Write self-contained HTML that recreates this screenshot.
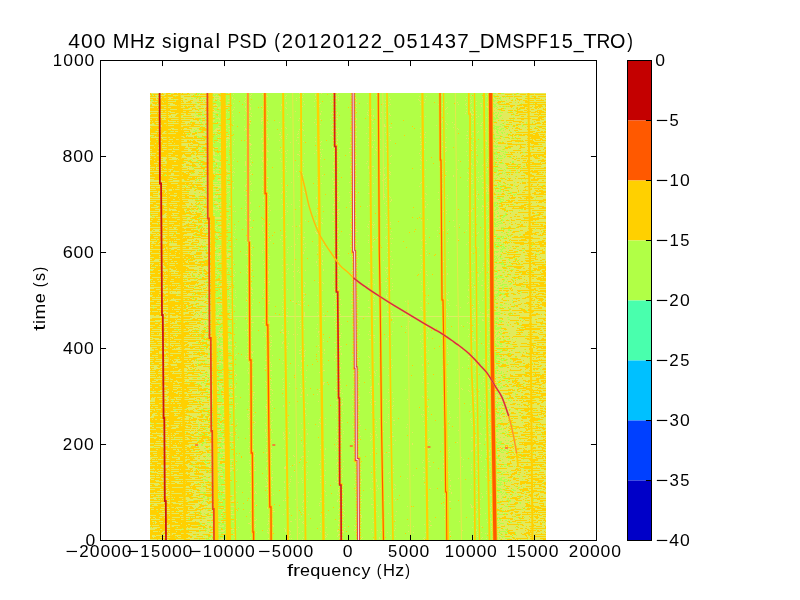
<!DOCTYPE html>
<html><head><meta charset="utf-8">
<style>
html,body{margin:0;padding:0;background:#fff;width:800px;height:600px;overflow:hidden}
svg{display:block;will-change:transform}
text{font-family:"Liberation Sans",sans-serif;fill:#000}
</style></head><body>
<svg width="800" height="600" viewBox="0 0 800 600">
<g id="data">
<rect x="150" y="93" width="396" height="447" fill="#b1ff46"/>
<path stroke="#e2ea5c" stroke-width="1" fill="none" d="M151 93.5h11M163 93.5h3M171 93.5h3M177 93.5h1M180 93.5h2M183 93.5h4M189 93.5h7M200 93.5h1M202 93.5h5M209 93.5h11M221 93.5h3M228 93.5h2M299 93.5h1M321 93.5h1M332 93.5h1M337 93.5h1M492 93.5h1M496 93.5h2M504 93.5h12M519 93.5h27M164 94.5h7M180 94.5h1M190 94.5h4M199 94.5h1M214 94.5h1M233 94.5h1M251 94.5h1M262 94.5h1M303 94.5h1M315 94.5h1M441 94.5h1M487 94.5h1M492 94.5h13M513 94.5h1M517 94.5h3M526 94.5h1M534 94.5h1M150 95.5h1M153 95.5h1M155 95.5h10M173 95.5h20M196 95.5h1M198 95.5h11M210 95.5h1M216 95.5h1M224 95.5h1M250 95.5h1M266 95.5h1M286 95.5h1M315 95.5h1M330 95.5h1M338 95.5h1M351 95.5h1M376 95.5h1M441 95.5h1M471 95.5h1M495 95.5h2M498 95.5h9M508 95.5h38M157 96.5h1M180 96.5h4M211 96.5h9M266 96.5h2M285 96.5h1M336 96.5h1M350 96.5h2M419 96.5h1M426 96.5h1M486 96.5h1M499 96.5h3M513 96.5h1M522 96.5h3M528 96.5h3M536 96.5h2M150 97.5h12M164 97.5h9M181 97.5h13M201 97.5h7M214 97.5h1M219 97.5h7M232 97.5h1M245 97.5h1M250 97.5h1M299 97.5h1M302 97.5h1M336 97.5h1M338 97.5h1M351 97.5h1M355 97.5h1M389 97.5h1M466 97.5h1M492 97.5h2M496 97.5h4M501 97.5h2M504 97.5h1M506 97.5h3M510 97.5h4M515 97.5h19M536 97.5h10M156 98.5h1M160 98.5h1M169 98.5h2M183 98.5h8M193 98.5h3M197 98.5h2M202 98.5h1M207 98.5h5M214 98.5h8M232 98.5h1M285 98.5h1M296 98.5h1M315 98.5h1M336 98.5h1M355 98.5h1M470 98.5h1M482 98.5h1M492 98.5h3M501 98.5h8M510 98.5h6M518 98.5h7M540 98.5h6M150 99.5h3M156 99.5h2M167 99.5h6M174 99.5h6M181 99.5h4M187 99.5h12M200 99.5h6M207 99.5h5M214 99.5h1M216 99.5h1M219 99.5h2M222 99.5h3M228 99.5h2M234 99.5h1M338 99.5h1M356 99.5h1M390 99.5h1M418 99.5h1M425 99.5h1M489 99.5h1M494 99.5h6M501 99.5h11M513 99.5h2M516 99.5h1M522 99.5h13M536 99.5h5M542 99.5h3M183 100.5h7M193 100.5h6M203 100.5h1M205 100.5h5M213 100.5h2M218 100.5h1M245 100.5h1M263 100.5h1M296 100.5h1M316 100.5h1M332 100.5h1M338 100.5h1M385 100.5h1M419 100.5h1M465 100.5h1M471 100.5h1M496 100.5h1M499 100.5h2M502 100.5h4M507 100.5h4M513 100.5h2M516 100.5h3M520 100.5h3M527 100.5h2M534 100.5h2M544 100.5h2M150 101.5h4M155 101.5h2M162 101.5h1M167 101.5h9M181 101.5h1M183 101.5h5M191 101.5h10M202 101.5h9M219 101.5h5M244 101.5h1M303 101.5h1M314 101.5h1M330 101.5h1M354 101.5h1M420 101.5h1M476 101.5h1M488 101.5h1M495 101.5h3M505 101.5h20M528 101.5h18M150 102.5h2M163 102.5h1M184 102.5h2M192 102.5h3M203 102.5h1M227 102.5h3M245 102.5h1M286 102.5h1M355 102.5h2M389 102.5h1M424 102.5h1M446 102.5h1M457 102.5h1M471 102.5h1M487 102.5h1M492 102.5h5M501 102.5h1M503 102.5h6M512 102.5h3M516 102.5h2M519 102.5h6M150 103.5h3M157 103.5h1M168 103.5h5M180 103.5h10M191 103.5h7M199 103.5h11M225 103.5h1M233 103.5h1M249 103.5h1M266 103.5h1M286 103.5h1M320 103.5h1M332 103.5h1M356 103.5h1M367 103.5h1M383 103.5h1M385 103.5h1M442 103.5h1M466 103.5h1M470 103.5h1M480 103.5h2M494 103.5h2M500 103.5h4M505 103.5h1M509 103.5h12M522 103.5h11M534 103.5h1M537 103.5h9M152 104.5h3M170 104.5h5M197 104.5h3M214 104.5h3M221 104.5h3M250 104.5h1M281 104.5h1M304 104.5h1M319 104.5h1M331 104.5h1M336 104.5h1M351 104.5h1M390 104.5h1M420 104.5h1M438 104.5h1M440 104.5h1M458 104.5h1M465 104.5h1M496 104.5h2M510 104.5h9M152 105.5h7M161 105.5h6M169 105.5h8M178 105.5h7M186 105.5h7M194 105.5h17M213 105.5h2M216 105.5h2M223 105.5h7M281 105.5h1M350 105.5h1M388 105.5h1M466 105.5h1M476 105.5h1M481 105.5h1M492 105.5h2M496 105.5h14M515 105.5h2M522 105.5h1M528 105.5h7M536 105.5h2M542 105.5h3M183 106.5h1M187 106.5h1M195 106.5h2M201 106.5h1M203 106.5h5M220 106.5h3M245 106.5h1M261 106.5h1M263 106.5h1M267 106.5h1M302 106.5h1M314 106.5h1M319 106.5h1M385 106.5h1M442 106.5h1M481 106.5h1M486 106.5h3M492 106.5h1M497 106.5h2M501 106.5h1M513 106.5h11M529 106.5h3M533 106.5h2M543 106.5h2M150 107.5h4M157 107.5h1M159 107.5h1M164 107.5h7M179 107.5h6M190 107.5h1M192 107.5h14M208 107.5h1M214 107.5h3M218 107.5h6M225 107.5h3M234 107.5h1M245 107.5h1M250 107.5h1M285 107.5h1M354 107.5h1M356 107.5h1M447 107.5h1M471 107.5h1M487 107.5h2M492 107.5h2M495 107.5h2M498 107.5h13M512 107.5h4M518 107.5h2M525 107.5h5M532 107.5h2M538 107.5h1M541 107.5h5M189 108.5h3M196 108.5h3M204 108.5h1M218 108.5h4M250 108.5h1M263 108.5h1M286 108.5h1M351 108.5h1M443 108.5h1M446 108.5h1M466 108.5h1M493 108.5h3M497 108.5h4M506 108.5h7M514 108.5h2M518 108.5h1M525 108.5h1M529 108.5h6M537 108.5h1M539 108.5h4M544 108.5h1M158 109.5h1M160 109.5h6M170 109.5h7M183 109.5h9M193 109.5h2M201 109.5h5M207 109.5h2M211 109.5h3M233 109.5h1M250 109.5h1M262 109.5h1M371 109.5h1M373 109.5h1M445 109.5h1M472 109.5h1M492 109.5h5M502 109.5h15M521 109.5h6M528 109.5h3M534 109.5h9M192 110.5h6M199 110.5h6M214 110.5h1M232 110.5h1M245 110.5h1M267 110.5h1M280 110.5h1M351 110.5h1M368 110.5h1M443 110.5h1M472 110.5h1M493 110.5h1M495 110.5h4M505 110.5h3M513 110.5h1M518 110.5h6M527 110.5h10M542 110.5h3M150 111.5h13M165 111.5h6M183 111.5h3M189 111.5h13M203 111.5h1M205 111.5h12M246 111.5h1M268 111.5h1M295 111.5h1M321 111.5h1M356 111.5h1M466 111.5h1M470 111.5h1M473 111.5h1M476 111.5h1M488 111.5h1M493 111.5h17M512 111.5h3M523 111.5h4M531 111.5h4M538 111.5h1M544 111.5h2M170 112.5h5M203 112.5h6M214 112.5h5M226 112.5h1M228 112.5h1M249 112.5h1M332 112.5h1M337 112.5h1M367 112.5h1M381 112.5h1M385 112.5h1M441 112.5h1M470 112.5h1M494 112.5h1M497 112.5h1M499 112.5h1M503 112.5h4M513 112.5h4M528 112.5h3M536 112.5h1M151 113.5h6M158 113.5h11M176 113.5h10M188 113.5h7M196 113.5h2M201 113.5h5M220 113.5h4M232 113.5h1M251 113.5h1M320 113.5h1M331 113.5h1M333 113.5h1M337 113.5h1M389 113.5h1M447 113.5h1M465 113.5h1M471 113.5h1M495 113.5h3M499 113.5h14M514 113.5h2M518 113.5h21M541 113.5h5M150 114.5h1M160 114.5h1M171 114.5h6M184 114.5h2M191 114.5h7M212 114.5h3M287 114.5h1M320 114.5h1M336 114.5h1M367 114.5h1M389 114.5h1M471 114.5h3M476 114.5h1M480 114.5h1M494 114.5h3M498 114.5h13M515 114.5h4M526 114.5h8M159 115.5h17M180 115.5h1M182 115.5h14M201 115.5h1M204 115.5h4M218 115.5h1M244 115.5h1M250 115.5h1M263 115.5h1M267 115.5h1M354 115.5h1M368 115.5h1M371 115.5h1M373 115.5h1M390 115.5h1M440 115.5h1M472 115.5h1M488 115.5h2M492 115.5h3M498 115.5h2M502 115.5h9M512 115.5h3M520 115.5h18M539 115.5h2M542 115.5h4M159 116.5h2M169 116.5h2M172 116.5h3M179 116.5h4M194 116.5h4M199 116.5h7M207 116.5h2M213 116.5h2M233 116.5h1M251 116.5h1M267 116.5h1M332 116.5h2M337 116.5h1M354 116.5h2M373 116.5h1M385 116.5h1M420 116.5h1M425 116.5h1M478 116.5h1M494 116.5h2M497 116.5h2M501 116.5h20M524 116.5h3M538 116.5h1M150 117.5h8M159 117.5h45M206 117.5h3M213 117.5h1M218 117.5h1M263 117.5h1M290 117.5h1M351 117.5h1M471 117.5h1M476 117.5h1M486 117.5h1M488 117.5h2M495 117.5h1M498 117.5h15M514 117.5h24M544 117.5h2M164 118.5h1M194 118.5h1M205 118.5h2M216 118.5h4M224 118.5h3M249 118.5h1M261 118.5h2M267 118.5h1M299 118.5h1M336 118.5h2M356 118.5h1M380 118.5h1M385 118.5h1M499 118.5h3M503 118.5h6M515 118.5h2M531 118.5h7M542 118.5h4M150 119.5h2M156 119.5h1M159 119.5h2M162 119.5h4M171 119.5h22M201 119.5h4M207 119.5h4M219 119.5h1M244 119.5h1M315 119.5h1M320 119.5h1M330 119.5h1M337 119.5h1M354 119.5h3M371 119.5h1M473 119.5h1M496 119.5h14M511 119.5h2M514 119.5h7M524 119.5h8M540 119.5h1M544 119.5h2M168 120.5h1M190 120.5h7M199 120.5h1M210 120.5h5M233 120.5h1M249 120.5h2M261 120.5h2M298 120.5h1M302 120.5h1M372 120.5h1M442 120.5h1M472 120.5h1M492 120.5h6M504 120.5h2M514 120.5h14M529 120.5h7M540 120.5h6M150 121.5h1M152 121.5h1M155 121.5h5M168 121.5h8M177 121.5h2M182 121.5h9M192 121.5h10M203 121.5h4M213 121.5h1M261 121.5h1M266 121.5h1M302 121.5h1M441 121.5h1M445 121.5h1M496 121.5h10M507 121.5h6M522 121.5h12M535 121.5h9M185 122.5h5M196 122.5h3M202 122.5h5M216 122.5h1M218 122.5h3M249 122.5h1M267 122.5h1M279 122.5h1M284 122.5h1M303 122.5h1M314 122.5h1M441 122.5h1M452 122.5h1M482 122.5h1M488 122.5h1M497 122.5h7M505 122.5h2M508 122.5h1M512 122.5h7M521 122.5h1M524 122.5h2M527 122.5h5M533 122.5h4M540 122.5h2M152 123.5h2M156 123.5h5M164 123.5h24M189 123.5h1M191 123.5h1M195 123.5h6M202 123.5h3M224 123.5h1M250 123.5h1M261 123.5h1M268 123.5h1M355 123.5h1M373 123.5h1M440 123.5h1M443 123.5h1M446 123.5h1M472 123.5h1M477 123.5h1M481 123.5h1M488 123.5h2M492 123.5h4M497 123.5h5M504 123.5h22M527 123.5h5M533 123.5h2M541 123.5h2M544 123.5h2M150 124.5h4M179 124.5h1M186 124.5h1M204 124.5h1M207 124.5h1M221 124.5h2M225 124.5h3M233 124.5h1M263 124.5h1M266 124.5h1M316 124.5h1M320 124.5h1M332 124.5h2M350 124.5h1M354 124.5h1M384 124.5h1M447 124.5h1M454 124.5h1M492 124.5h8M502 124.5h4M512 124.5h4M521 124.5h2M536 124.5h6M150 125.5h12M166 125.5h8M179 125.5h12M194 125.5h6M201 125.5h5M207 125.5h6M303 125.5h1M331 125.5h1M384 125.5h1M389 125.5h1M436 125.5h1M480 125.5h2M489 125.5h1M492 125.5h1M495 125.5h7M505 125.5h8M518 125.5h4M524 125.5h22M159 126.5h3M181 126.5h2M200 126.5h1M203 126.5h2M207 126.5h3M218 126.5h2M244 126.5h1M351 126.5h1M356 126.5h1M384 126.5h2M493 126.5h1M501 126.5h3M509 126.5h3M515 126.5h3M519 126.5h3M523 126.5h4M531 126.5h5M150 127.5h1M189 127.5h11M205 127.5h2M228 127.5h3M285 127.5h1M356 127.5h1M368 127.5h1M379 127.5h1M390 127.5h2M453 127.5h1M495 127.5h1M499 127.5h5M507 127.5h1M509 127.5h7M518 127.5h7M526 127.5h5M532 127.5h3M536 127.5h2M542 127.5h4M160 128.5h1M171 128.5h3M184 128.5h3M192 128.5h5M216 128.5h4M223 128.5h3M245 128.5h1M266 128.5h2M281 128.5h1M286 128.5h1M332 128.5h1M336 128.5h1M338 128.5h1M372 128.5h1M420 128.5h1M442 128.5h1M446 128.5h1M457 128.5h1M481 128.5h1M486 128.5h1M497 128.5h4M504 128.5h2M508 128.5h4M513 128.5h2M520 128.5h14M538 128.5h4M157 129.5h4M167 129.5h4M172 129.5h6M179 129.5h3M183 129.5h8M192 129.5h2M195 129.5h4M209 129.5h1M215 129.5h4M221 129.5h1M225 129.5h2M245 129.5h2M249 129.5h1M262 129.5h1M266 129.5h1M299 129.5h1M302 129.5h1M332 129.5h1M336 129.5h1M440 129.5h1M458 129.5h1M492 129.5h2M495 129.5h1M499 129.5h1M502 129.5h3M506 129.5h3M510 129.5h9M522 129.5h5M532 129.5h6M539 129.5h6M190 130.5h5M197 130.5h3M207 130.5h1M214 130.5h3M222 130.5h1M229 130.5h2M233 130.5h1M244 130.5h1M303 130.5h1M331 130.5h1M493 130.5h4M498 130.5h1M501 130.5h2M504 130.5h5M510 130.5h4M518 130.5h10M530 130.5h7M540 130.5h6M156 131.5h5M164 131.5h2M171 131.5h3M175 131.5h3M184 131.5h5M190 131.5h3M196 131.5h4M204 131.5h6M213 131.5h5M219 131.5h5M298 131.5h1M332 131.5h1M356 131.5h1M467 131.5h1M472 131.5h2M478 131.5h1M485 131.5h1M492 131.5h4M498 131.5h12M511 131.5h4M516 131.5h2M519 131.5h10M535 131.5h6M543 131.5h1M163 132.5h2M191 132.5h4M205 132.5h5M222 132.5h4M262 132.5h1M280 132.5h1M337 132.5h1M372 132.5h1M385 132.5h1M425 132.5h1M477 132.5h1M488 132.5h1M494 132.5h2M498 132.5h3M503 132.5h1M505 132.5h5M512 132.5h4M533 132.5h3M151 133.5h6M158 133.5h2M162 133.5h14M183 133.5h1M185 133.5h2M189 133.5h1M191 133.5h1M197 133.5h8M208 133.5h3M213 133.5h1M215 133.5h2M221 133.5h2M298 133.5h1M350 133.5h2M366 133.5h1M389 133.5h1M420 133.5h1M492 133.5h5M499 133.5h3M503 133.5h4M508 133.5h25M538 133.5h8M190 134.5h2M195 134.5h11M208 134.5h1M218 134.5h1M249 134.5h1M267 134.5h1M279 134.5h2M287 134.5h1M297 134.5h1M338 134.5h1M386 134.5h1M424 134.5h1M441 134.5h1M471 134.5h1M495 134.5h11M511 134.5h1M514 134.5h1M522 134.5h1M529 134.5h1M533 134.5h2M539 134.5h1M545 134.5h1M150 135.5h4M159 135.5h3M167 135.5h1M186 135.5h10M197 135.5h5M203 135.5h9M216 135.5h1M220 135.5h4M227 135.5h4M246 135.5h1M249 135.5h2M263 135.5h1M304 135.5h1M319 135.5h1M330 135.5h2M374 135.5h1M389 135.5h1M466 135.5h2M495 135.5h1M501 135.5h7M509 135.5h1M513 135.5h1M517 135.5h1M525 135.5h2M539 135.5h4M544 135.5h2M155 136.5h1M181 136.5h3M186 136.5h1M188 136.5h6M199 136.5h3M207 136.5h3M263 136.5h1M266 136.5h2M281 136.5h1M286 136.5h1M332 136.5h1M337 136.5h1M350 136.5h1M356 136.5h1M420 136.5h1M495 136.5h5M503 136.5h9M513 136.5h5M519 136.5h9M151 137.5h19M173 137.5h2M183 137.5h2M193 137.5h1M197 137.5h1M218 137.5h1M220 137.5h6M227 137.5h2M280 137.5h1M297 137.5h2M315 137.5h1M356 137.5h1M420 137.5h1M425 137.5h1M446 137.5h1M473 137.5h1M495 137.5h4M500 137.5h3M509 137.5h3M513 137.5h2M516 137.5h15M540 137.5h2M545 137.5h1M162 138.5h1M226 138.5h4M249 138.5h1M261 138.5h2M268 138.5h1M281 138.5h1M286 138.5h1M319 138.5h1M368 138.5h1M440 138.5h1M466 138.5h1M468 138.5h1M489 138.5h1M501 138.5h7M510 138.5h1M521 138.5h6M542 138.5h3M156 139.5h2M163 139.5h5M169 139.5h4M176 139.5h16M193 139.5h8M202 139.5h1M207 139.5h6M218 139.5h1M234 139.5h1M261 139.5h1M268 139.5h1M337 139.5h1M354 139.5h1M380 139.5h1M493 139.5h1M496 139.5h8M505 139.5h12M518 139.5h14M533 139.5h1M536 139.5h4M543 139.5h3M184 140.5h3M189 140.5h1M191 140.5h2M195 140.5h2M205 140.5h5M221 140.5h7M246 140.5h1M279 140.5h1M296 140.5h1M333 140.5h1M337 140.5h1M372 140.5h1M374 140.5h1M386 140.5h1M390 140.5h1M420 140.5h1M485 140.5h2M493 140.5h4M499 140.5h12M523 140.5h2M533 140.5h2M541 140.5h1M150 141.5h1M160 141.5h2M168 141.5h2M172 141.5h1M179 141.5h8M196 141.5h10M208 141.5h1M217 141.5h2M224 141.5h1M233 141.5h1M303 141.5h1M315 141.5h1M321 141.5h1M333 141.5h1M351 141.5h1M442 141.5h1M473 141.5h1M486 141.5h1M489 141.5h1M493 141.5h1M495 141.5h1M497 141.5h5M503 141.5h4M512 141.5h3M524 141.5h4M534 141.5h12M191 142.5h1M198 142.5h15M219 142.5h8M263 142.5h1M290 142.5h1M320 142.5h1M336 142.5h1M350 142.5h1M354 142.5h2M368 142.5h1M421 142.5h1M425 142.5h1M445 142.5h1M467 142.5h1M488 142.5h1M493 142.5h2M496 142.5h2M504 142.5h14M519 142.5h8M545 142.5h1M155 143.5h1M159 143.5h1M163 143.5h9M174 143.5h1M181 143.5h12M200 143.5h5M212 143.5h2M229 143.5h2M249 143.5h2M262 143.5h2M298 143.5h1M337 143.5h1M350 143.5h1M385 143.5h1M494 143.5h2M506 143.5h1M512 143.5h19M538 143.5h8M181 144.5h7M189 144.5h1M193 144.5h5M233 144.5h1M250 144.5h2M267 144.5h1M336 144.5h1M373 144.5h1M420 144.5h2M471 144.5h1M493 144.5h14M526 144.5h1M528 144.5h6M542 144.5h4M150 145.5h4M158 145.5h2M162 145.5h3M166 145.5h22M189 145.5h9M199 145.5h10M229 145.5h1M250 145.5h1M320 145.5h1M351 145.5h1M368 145.5h1M472 145.5h1M477 145.5h1M486 145.5h1M488 145.5h1M496 145.5h1M498 145.5h18M517 145.5h3M521 145.5h12M534 145.5h12M186 146.5h2M201 146.5h1M204 146.5h3M224 146.5h4M229 146.5h1M332 146.5h1M336 146.5h1M356 146.5h1M372 146.5h1M385 146.5h1M442 146.5h1M501 146.5h3M506 146.5h2M513 146.5h7M522 146.5h5M543 146.5h3M154 147.5h1M158 147.5h1M162 147.5h5M178 147.5h1M185 147.5h11M199 147.5h1M207 147.5h4M215 147.5h3M220 147.5h1M224 147.5h3M246 147.5h1M263 147.5h1M332 147.5h1M372 147.5h1M376 147.5h1M386 147.5h1M445 147.5h2M471 147.5h1M476 147.5h1M485 147.5h1M493 147.5h2M497 147.5h8M511 147.5h9M525 147.5h6M534 147.5h10M158 148.5h1M173 148.5h1M188 148.5h1M198 148.5h4M211 148.5h3M250 148.5h1M281 148.5h1M334 148.5h1M339 148.5h1M349 148.5h2M421 148.5h1M487 148.5h1M493 148.5h11M508 148.5h1M511 148.5h8M521 148.5h17M540 148.5h4M150 149.5h2M163 149.5h9M173 149.5h8M184 149.5h8M197 149.5h1M199 149.5h5M207 149.5h2M213 149.5h1M266 149.5h1M320 149.5h1M322 149.5h1M375 149.5h1M380 149.5h1M424 149.5h1M471 149.5h1M482 149.5h1M498 149.5h4M505 149.5h13M519 149.5h13M534 149.5h9M544 149.5h2M188 150.5h3M199 150.5h1M220 150.5h3M262 150.5h2M267 150.5h1M279 150.5h1M287 150.5h1M316 150.5h1M376 150.5h1M420 150.5h1M441 150.5h1M446 150.5h1M472 150.5h1M476 150.5h1M492 150.5h7M501 150.5h12M521 150.5h6M528 150.5h1M531 150.5h6M541 150.5h4M150 151.5h2M157 151.5h2M161 151.5h3M167 151.5h1M172 151.5h3M179 151.5h1M181 151.5h15M198 151.5h2M204 151.5h3M208 151.5h6M262 151.5h1M267 151.5h2M285 151.5h1M299 151.5h1M333 151.5h1M337 151.5h1M386 151.5h1M445 151.5h1M466 151.5h1M494 151.5h2M497 151.5h4M504 151.5h1M506 151.5h39M191 152.5h1M204 152.5h1M207 152.5h1M210 152.5h5M221 152.5h1M233 152.5h1M281 152.5h1M320 152.5h1M349 152.5h1M441 152.5h1M481 152.5h1M500 152.5h5M509 152.5h1M515 152.5h2M518 152.5h2M528 152.5h2M150 153.5h6M167 153.5h6M185 153.5h6M194 153.5h3M198 153.5h9M208 153.5h1M212 153.5h3M220 153.5h2M286 153.5h1M304 153.5h1M314 153.5h1M355 153.5h1M419 153.5h1M498 153.5h5M504 153.5h7M512 153.5h8M521 153.5h7M531 153.5h13M151 154.5h1M183 154.5h1M195 154.5h1M212 154.5h3M220 154.5h3M251 154.5h1M297 154.5h2M321 154.5h1M333 154.5h1M374 154.5h1M472 154.5h1M476 154.5h1M492 154.5h1M498 154.5h1M500 154.5h4M513 154.5h16M531 154.5h2M150 155.5h5M157 155.5h4M166 155.5h5M175 155.5h3M180 155.5h1M182 155.5h3M191 155.5h5M197 155.5h12M210 155.5h3M214 155.5h3M218 155.5h1M245 155.5h1M299 155.5h1M337 155.5h1M356 155.5h1M391 155.5h1M420 155.5h1M467 155.5h1M494 155.5h4M501 155.5h1M503 155.5h19M524 155.5h2M535 155.5h1M537 155.5h1M544 155.5h2M182 156.5h4M192 156.5h8M221 156.5h1M321 156.5h1M334 156.5h1M350 156.5h2M390 156.5h1M495 156.5h1M497 156.5h2M502 156.5h2M506 156.5h1M511 156.5h2M515 156.5h1M517 156.5h4M523 156.5h1M532 156.5h1M540 156.5h2M150 157.5h1M154 157.5h2M161 157.5h15M181 157.5h15M198 157.5h4M203 157.5h2M207 157.5h3M226 157.5h2M250 157.5h1M261 157.5h1M263 157.5h1M286 157.5h1M339 157.5h1M421 157.5h1M472 157.5h1M488 157.5h1M495 157.5h3M499 157.5h5M505 157.5h4M512 157.5h22M538 157.5h6M163 158.5h5M172 158.5h6M181 158.5h1M187 158.5h6M196 158.5h1M199 158.5h11M213 158.5h2M221 158.5h1M234 158.5h1M263 158.5h1M267 158.5h1M280 158.5h1M320 158.5h1M503 158.5h9M514 158.5h2M520 158.5h1M527 158.5h8M540 158.5h6M150 159.5h2M160 159.5h6M169 159.5h8M178 159.5h2M184 159.5h6M192 159.5h14M214 159.5h3M267 159.5h1M355 159.5h1M420 159.5h1M487 159.5h1M496 159.5h18M516 159.5h26M544 159.5h2M154 160.5h1M163 160.5h2M191 160.5h1M193 160.5h4M203 160.5h6M215 160.5h4M221 160.5h1M233 160.5h1M251 160.5h1M262 160.5h2M267 160.5h1M302 160.5h1M337 160.5h1M351 160.5h1M379 160.5h1M421 160.5h1M426 160.5h1M458 160.5h1M468 160.5h1M476 160.5h1M494 160.5h2M499 160.5h1M502 160.5h15M520 160.5h3M526 160.5h1M532 160.5h6M157 161.5h10M174 161.5h2M184 161.5h4M192 161.5h4M198 161.5h2M205 161.5h2M208 161.5h4M215 161.5h6M223 161.5h2M245 161.5h1M262 161.5h1M281 161.5h1M286 161.5h1M355 161.5h1M367 161.5h1M445 161.5h1M477 161.5h1M487 161.5h1M493 161.5h1M495 161.5h17M514 161.5h13M530 161.5h8M539 161.5h2M545 161.5h1M165 162.5h3M186 162.5h4M222 162.5h2M245 162.5h1M263 162.5h1M333 162.5h1M338 162.5h1M477 162.5h1M497 162.5h1M503 162.5h7M511 162.5h1M514 162.5h8M534 162.5h6M541 162.5h4M154 163.5h4M159 163.5h8M184 163.5h8M194 163.5h4M199 163.5h1M201 163.5h1M207 163.5h1M214 163.5h2M225 163.5h2M245 163.5h1M250 163.5h1M266 163.5h1M303 163.5h1M333 163.5h1M366 163.5h1M390 163.5h1M471 163.5h1M486 163.5h1M488 163.5h1M496 163.5h4M504 163.5h1M509 163.5h3M514 163.5h12M527 163.5h1M529 163.5h3M541 163.5h1M181 164.5h5M189 164.5h3M195 164.5h4M208 164.5h1M212 164.5h1M225 164.5h1M230 164.5h1M245 164.5h1M250 164.5h1M266 164.5h1M333 164.5h1M351 164.5h1M356 164.5h1M471 164.5h1M483 164.5h1M499 164.5h7M521 164.5h3M525 164.5h1M542 164.5h4M150 165.5h1M156 165.5h1M163 165.5h3M172 165.5h6M182 165.5h1M184 165.5h2M196 165.5h5M203 165.5h6M216 165.5h2M221 165.5h2M230 165.5h1M232 165.5h1M245 165.5h1M251 165.5h1M267 165.5h1M298 165.5h1M355 165.5h1M420 165.5h1M473 165.5h1M476 165.5h1M482 165.5h1M486 165.5h1M493 165.5h1M495 165.5h2M498 165.5h7M508 165.5h9M518 165.5h8M528 165.5h7M536 165.5h10M160 166.5h1M183 166.5h7M191 166.5h1M198 166.5h2M208 166.5h6M217 166.5h1M219 166.5h2M223 166.5h1M261 166.5h1M285 166.5h1M303 166.5h1M321 166.5h1M350 166.5h1M368 166.5h1M372 166.5h2M439 166.5h1M441 166.5h1M498 166.5h10M521 166.5h2M525 166.5h1M541 166.5h5M150 167.5h5M156 167.5h6M172 167.5h2M180 167.5h8M189 167.5h3M194 167.5h7M220 167.5h5M334 167.5h1M338 167.5h1M350 167.5h1M368 167.5h1M385 167.5h1M494 167.5h1M500 167.5h6M508 167.5h4M513 167.5h1M516 167.5h2M520 167.5h1M522 167.5h5M530 167.5h14M156 168.5h1M163 168.5h1M187 168.5h7M205 168.5h7M234 168.5h1M249 168.5h1M262 168.5h1M266 168.5h1M285 168.5h1M333 168.5h2M354 168.5h1M368 168.5h1M384 168.5h1M472 168.5h1M487 168.5h2M496 168.5h4M502 168.5h4M519 168.5h1M150 169.5h2M153 169.5h1M156 169.5h6M164 169.5h9M179 169.5h1M182 169.5h6M189 169.5h4M194 169.5h9M205 169.5h10M216 169.5h4M224 169.5h3M374 169.5h1M380 169.5h1M420 169.5h1M425 169.5h1M442 169.5h1M457 169.5h1M487 169.5h1M489 169.5h1M493 169.5h1M498 169.5h6M505 169.5h41M170 170.5h1M195 170.5h8M204 170.5h1M223 170.5h5M250 170.5h1M282 170.5h1M351 170.5h1M355 170.5h1M504 170.5h1M506 170.5h3M516 170.5h1M518 170.5h2M529 170.5h2M533 170.5h1M150 171.5h21M173 171.5h16M194 171.5h4M199 171.5h4M205 171.5h5M211 171.5h4M222 171.5h9M233 171.5h1M244 171.5h2M249 171.5h1M263 171.5h1M286 171.5h1M296 171.5h1M332 171.5h1M351 171.5h1M389 171.5h1M442 171.5h1M446 171.5h1M483 171.5h1M497 171.5h1M499 171.5h21M521 171.5h7M538 171.5h8M184 172.5h2M195 172.5h4M203 172.5h1M207 172.5h1M212 172.5h3M216 172.5h1M232 172.5h1M234 172.5h1M302 172.5h1M333 172.5h1M339 172.5h1M369 172.5h1M380 172.5h1M390 172.5h1M467 172.5h1M478 172.5h1M486 172.5h1M493 172.5h1M497 172.5h5M503 172.5h2M514 172.5h1M520 172.5h3M529 172.5h3M541 172.5h1M544 172.5h1M154 173.5h9M171 173.5h3M179 173.5h3M186 173.5h2M189 173.5h2M194 173.5h7M202 173.5h4M211 173.5h1M216 173.5h3M221 173.5h4M251 173.5h1M334 173.5h1M351 173.5h1M369 173.5h1M389 173.5h1M442 173.5h1M468 173.5h1M471 173.5h1M489 173.5h1M494 173.5h4M503 173.5h1M505 173.5h3M509 173.5h15M528 173.5h9M539 173.5h7M150 174.5h2M171 174.5h3M190 174.5h8M203 174.5h1M211 174.5h2M214 174.5h1M250 174.5h1M350 174.5h1M355 174.5h1M380 174.5h1M384 174.5h1M390 174.5h1M472 174.5h1M495 174.5h2M500 174.5h6M508 174.5h1M510 174.5h1M513 174.5h13M532 174.5h4M543 174.5h3M161 175.5h1M166 175.5h17M189 175.5h15M206 175.5h4M219 175.5h5M225 175.5h4M233 175.5h1M303 175.5h1M322 175.5h1M351 175.5h1M372 175.5h1M384 175.5h1M453 175.5h1M482 175.5h1M494 175.5h2M499 175.5h22M525 175.5h3M534 175.5h10M545 175.5h1M208 176.5h1M262 176.5h1M298 176.5h1M356 176.5h1M424 176.5h1M445 176.5h1M453 176.5h1M480 176.5h1M488 176.5h1M494 176.5h5M500 176.5h5M506 176.5h3M510 176.5h5M517 176.5h11M150 177.5h5M170 177.5h3M188 177.5h2M191 177.5h1M195 177.5h1M197 177.5h4M205 177.5h7M226 177.5h1M267 177.5h2M317 177.5h1M376 177.5h1M386 177.5h1M442 177.5h1M476 177.5h1M478 177.5h1M492 177.5h5M498 177.5h3M502 177.5h5M508 177.5h16M525 177.5h9M535 177.5h11M173 178.5h4M197 178.5h1M202 178.5h7M211 178.5h1M225 178.5h3M229 178.5h2M281 178.5h1M332 178.5h1M385 178.5h1M468 178.5h1M471 178.5h1M481 178.5h2M497 178.5h3M505 178.5h3M511 178.5h4M516 178.5h2M529 178.5h4M535 178.5h2M150 179.5h4M168 179.5h4M181 179.5h3M187 179.5h2M195 179.5h1M198 179.5h1M200 179.5h3M205 179.5h6M218 179.5h4M246 179.5h1M262 179.5h1M317 179.5h1M332 179.5h1M384 179.5h1M389 179.5h1M477 179.5h1M493 179.5h2M496 179.5h5M503 179.5h2M507 179.5h2M510 179.5h11M522 179.5h3M526 179.5h5M539 179.5h7M150 180.5h12M173 180.5h11M190 180.5h5M197 180.5h2M200 180.5h10M217 180.5h5M263 180.5h1M369 180.5h1M382 180.5h1M467 180.5h1M472 180.5h1M489 180.5h1M501 180.5h6M513 180.5h18M538 180.5h4M544 180.5h2M150 181.5h15M167 181.5h2M170 181.5h33M204 181.5h1M207 181.5h1M210 181.5h3M222 181.5h1M250 181.5h1M302 181.5h1M333 181.5h2M338 181.5h1M351 181.5h1M471 181.5h1M478 181.5h1M495 181.5h4M501 181.5h21M523 181.5h7M531 181.5h15M193 182.5h2M205 182.5h2M211 182.5h7M219 182.5h3M233 182.5h1M267 182.5h1M291 182.5h1M334 182.5h1M349 182.5h1M357 182.5h1M385 182.5h1M421 182.5h1M482 182.5h2M494 182.5h3M499 182.5h1M501 182.5h2M505 182.5h9M515 182.5h2M519 182.5h3M526 182.5h1M537 182.5h1M151 183.5h8M160 183.5h7M171 183.5h7M185 183.5h1M189 183.5h2M192 183.5h17M211 183.5h1M224 183.5h1M227 183.5h1M251 183.5h1M281 183.5h1M321 183.5h1M334 183.5h1M355 183.5h1M368 183.5h1M373 183.5h1M420 183.5h1M442 183.5h1M471 183.5h2M492 183.5h6M499 183.5h5M506 183.5h14M521 183.5h1M526 183.5h20M203 184.5h5M213 184.5h9M246 184.5h1M250 184.5h1M304 184.5h1M333 184.5h2M444 184.5h1M486 184.5h1M495 184.5h3M501 184.5h6M509 184.5h1M513 184.5h18M533 184.5h4M539 184.5h7M150 185.5h17M177 185.5h9M188 185.5h4M194 185.5h2M202 185.5h3M208 185.5h4M215 185.5h1M220 185.5h1M224 185.5h7M245 185.5h1M286 185.5h1M317 185.5h1M338 185.5h1M351 185.5h1M368 185.5h1M385 185.5h1M487 185.5h1M497 185.5h1M499 185.5h2M506 185.5h3M513 185.5h1M515 185.5h3M519 185.5h12M532 185.5h5M538 185.5h4M545 185.5h1M185 186.5h1M187 186.5h1M195 186.5h2M198 186.5h12M212 186.5h10M245 186.5h1M262 186.5h1M267 186.5h1M304 186.5h1M419 186.5h1M426 186.5h1M467 186.5h1M488 186.5h1M493 186.5h2M497 186.5h1M506 186.5h9M518 186.5h7M537 186.5h1M151 187.5h4M156 187.5h4M161 187.5h5M172 187.5h1M177 187.5h8M186 187.5h4M206 187.5h3M218 187.5h5M227 187.5h4M233 187.5h1M263 187.5h1M282 187.5h1M304 187.5h1M354 187.5h1M482 187.5h1M486 187.5h2M489 187.5h1M493 187.5h1M495 187.5h1M498 187.5h2M502 187.5h2M511 187.5h13M526 187.5h15M543 187.5h3M192 188.5h2M195 188.5h2M203 188.5h2M233 188.5h1M386 188.5h1M442 188.5h1M483 188.5h1M488 188.5h1M501 188.5h3M510 188.5h1M513 188.5h4M518 188.5h12M532 188.5h2M541 188.5h1M150 189.5h6M162 189.5h4M168 189.5h4M173 189.5h1M175 189.5h6M182 189.5h2M186 189.5h9M204 189.5h1M206 189.5h5M213 189.5h6M226 189.5h1M266 189.5h2M332 189.5h2M442 189.5h1M473 189.5h1M488 189.5h1M494 189.5h1M496 189.5h4M504 189.5h21M526 189.5h4M532 189.5h6M539 189.5h7M165 190.5h7M181 190.5h1M190 190.5h4M196 190.5h6M206 190.5h1M208 190.5h1M244 190.5h1M251 190.5h1M262 190.5h1M351 190.5h1M486 190.5h1M488 190.5h1M493 190.5h2M496 190.5h1M499 190.5h1M501 190.5h2M509 190.5h9M519 190.5h1M521 190.5h2M528 190.5h7M538 190.5h1M543 190.5h3M150 191.5h7M158 191.5h5M165 191.5h2M180 191.5h7M189 191.5h16M207 191.5h2M210 191.5h12M229 191.5h1M246 191.5h1M282 191.5h1M286 191.5h1M303 191.5h1M333 191.5h1M441 191.5h1M477 191.5h1M486 191.5h1M488 191.5h1M493 191.5h3M501 191.5h2M504 191.5h4M510 191.5h8M519 191.5h17M158 192.5h2M161 192.5h1M165 192.5h1M189 192.5h10M200 192.5h4M208 192.5h2M227 192.5h2M262 192.5h1M267 192.5h1M282 192.5h1M304 192.5h1M338 192.5h1M349 192.5h1M351 192.5h1M373 192.5h1M438 192.5h1M483 192.5h1M492 192.5h2M495 192.5h11M507 192.5h3M517 192.5h1M519 192.5h3M525 192.5h9M536 192.5h5M153 193.5h6M164 193.5h1M166 193.5h4M174 193.5h3M182 193.5h12M196 193.5h5M203 193.5h3M207 193.5h1M216 193.5h1M218 193.5h9M281 193.5h1M332 193.5h1M337 193.5h1M356 193.5h1M368 193.5h2M425 193.5h1M442 193.5h1M477 193.5h1M487 193.5h3M495 193.5h7M504 193.5h3M512 193.5h4M517 193.5h15M536 193.5h3M544 193.5h2M158 194.5h1M189 194.5h18M249 194.5h1M263 194.5h1M268 194.5h1M350 194.5h2M384 194.5h1M426 194.5h1M473 194.5h1M489 194.5h1M505 194.5h8M516 194.5h1M531 194.5h3M153 195.5h9M166 195.5h1M170 195.5h7M181 195.5h4M187 195.5h2M195 195.5h5M201 195.5h1M203 195.5h4M208 195.5h3M214 195.5h2M217 195.5h1M220 195.5h2M225 195.5h1M245 195.5h2M269 195.5h1M447 195.5h1M476 195.5h1M482 195.5h1M493 195.5h12M506 195.5h1M509 195.5h1M513 195.5h1M515 195.5h31M150 196.5h2M158 196.5h4M174 196.5h2M189 196.5h3M196 196.5h2M206 196.5h2M211 196.5h4M216 196.5h2M221 196.5h2M286 196.5h1M333 196.5h1M337 196.5h1M339 196.5h1M350 196.5h1M372 196.5h1M384 196.5h1M389 196.5h1M468 196.5h1M476 196.5h1M494 196.5h3M504 196.5h8M513 196.5h9M532 196.5h4M543 196.5h3M150 197.5h20M178 197.5h1M180 197.5h5M189 197.5h7M197 197.5h7M206 197.5h4M211 197.5h7M224 197.5h2M229 197.5h1M263 197.5h1M269 197.5h1M316 197.5h1M338 197.5h1M350 197.5h1M385 197.5h1M390 197.5h1M444 197.5h2M496 197.5h1M500 197.5h2M504 197.5h5M510 197.5h1M516 197.5h2M521 197.5h5M534 197.5h2M537 197.5h9M207 198.5h4M223 198.5h1M263 198.5h1M267 198.5h1M316 198.5h1M334 198.5h1M339 198.5h1M421 198.5h1M424 198.5h1M447 198.5h1M477 198.5h1M494 198.5h2M501 198.5h8M515 198.5h5M522 198.5h2M529 198.5h2M533 198.5h13M150 199.5h18M173 199.5h2M179 199.5h13M193 199.5h2M198 199.5h2M201 199.5h4M206 199.5h1M229 199.5h1M281 199.5h1M338 199.5h1M350 199.5h1M391 199.5h1M438 199.5h1M441 199.5h1M478 199.5h1M482 199.5h1M489 199.5h1M494 199.5h5M504 199.5h4M509 199.5h17M527 199.5h8M536 199.5h7M188 200.5h7M204 200.5h1M206 200.5h2M245 200.5h1M299 200.5h1M334 200.5h1M339 200.5h1M391 200.5h1M441 200.5h1M492 200.5h6M501 200.5h2M504 200.5h2M510 200.5h1M515 200.5h3M150 201.5h6M160 201.5h7M171 201.5h11M183 201.5h13M199 201.5h9M211 201.5h6M225 201.5h1M231 201.5h1M263 201.5h1M267 201.5h1M269 201.5h1M338 201.5h1M355 201.5h1M386 201.5h1M390 201.5h1M425 201.5h1M489 201.5h1M492 201.5h8M503 201.5h2M506 201.5h2M513 201.5h26M544 201.5h2M189 202.5h7M197 202.5h2M200 202.5h1M203 202.5h2M206 202.5h1M208 202.5h3M215 202.5h3M220 202.5h6M246 202.5h1M250 202.5h1M334 202.5h1M349 202.5h1M354 202.5h1M488 202.5h1M498 202.5h2M512 202.5h2M528 202.5h8M537 202.5h1M542 202.5h2M150 203.5h3M156 203.5h21M180 203.5h2M185 203.5h6M192 203.5h3M196 203.5h2M200 203.5h5M206 203.5h1M214 203.5h7M229 203.5h1M250 203.5h1M286 203.5h1M384 203.5h1M487 203.5h1M492 203.5h1M496 203.5h1M502 203.5h14M518 203.5h13M532 203.5h14M162 204.5h4M186 204.5h5M193 204.5h3M206 204.5h4M225 204.5h2M282 204.5h1M291 204.5h1M317 204.5h1M333 204.5h2M427 204.5h1M473 204.5h1M488 204.5h2M495 204.5h1M498 204.5h3M505 204.5h1M509 204.5h1M514 204.5h10M531 204.5h15M154 205.5h3M164 205.5h2M170 205.5h2M173 205.5h5M179 205.5h16M197 205.5h3M201 205.5h9M211 205.5h2M217 205.5h6M262 205.5h1M267 205.5h1M269 205.5h1M304 205.5h1M333 205.5h1M350 205.5h1M369 205.5h1M374 205.5h1M386 205.5h1M482 205.5h1M498 205.5h1M503 205.5h3M507 205.5h1M509 205.5h5M515 205.5h6M526 205.5h2M529 205.5h8M539 205.5h7M157 206.5h2M187 206.5h2M192 206.5h1M199 206.5h3M207 206.5h3M216 206.5h3M234 206.5h1M245 206.5h1M268 206.5h1M287 206.5h1M299 206.5h1M322 206.5h1M367 206.5h1M425 206.5h1M482 206.5h2M486 206.5h2M496 206.5h2M503 206.5h5M524 206.5h3M544 206.5h2M151 207.5h7M164 207.5h5M174 207.5h3M181 207.5h5M187 207.5h11M199 207.5h1M201 207.5h3M208 207.5h3M213 207.5h2M218 207.5h1M264 207.5h1M268 207.5h1M350 207.5h1M354 207.5h1M425 207.5h1M477 207.5h1M494 207.5h2M498 207.5h7M506 207.5h7M514 207.5h5M526 207.5h16M169 208.5h1M190 208.5h1M196 208.5h1M202 208.5h4M212 208.5h2M226 208.5h5M245 208.5h1M333 208.5h1M481 208.5h1M488 208.5h1M494 208.5h2M499 208.5h1M506 208.5h6M523 208.5h1M534 208.5h5M155 209.5h6M163 209.5h13M184 209.5h3M194 209.5h2M198 209.5h1M201 209.5h1M204 209.5h5M211 209.5h14M264 209.5h1M268 209.5h1M338 209.5h2M389 209.5h1M442 209.5h1M472 209.5h1M487 209.5h1M492 209.5h1M494 209.5h1M498 209.5h4M506 209.5h15M523 209.5h1M526 209.5h20M159 210.5h1M165 210.5h6M172 210.5h5M184 210.5h2M189 210.5h2M192 210.5h2M195 210.5h7M203 210.5h5M210 210.5h1M216 210.5h1M246 210.5h1M251 210.5h1M270 210.5h1M285 210.5h1M333 210.5h1M337 210.5h2M446 210.5h1M471 210.5h1M496 210.5h8M513 210.5h6M520 210.5h12M150 211.5h10M178 211.5h2M185 211.5h1M187 211.5h2M190 211.5h6M197 211.5h2M202 211.5h2M205 211.5h6M218 211.5h1M233 211.5h1M235 211.5h1M250 211.5h1M287 211.5h1M316 211.5h1M351 211.5h1M355 211.5h1M443 211.5h1M468 211.5h1M471 211.5h1M482 211.5h1M493 211.5h4M498 211.5h6M505 211.5h1M508 211.5h4M513 211.5h33M191 212.5h1M194 212.5h1M197 212.5h4M204 212.5h5M223 212.5h1M245 212.5h1M250 212.5h1M268 212.5h1M285 212.5h1M338 212.5h1M489 212.5h1M492 212.5h1M495 212.5h3M499 212.5h19M531 212.5h1M534 212.5h3M544 212.5h2M151 213.5h7M165 213.5h2M172 213.5h7M192 213.5h4M201 213.5h4M208 213.5h7M220 213.5h3M317 213.5h1M332 213.5h2M337 213.5h1M339 213.5h1M355 213.5h1M385 213.5h1M420 213.5h1M446 213.5h1M489 213.5h1M495 213.5h2M499 213.5h6M507 213.5h3M511 213.5h21M535 213.5h4M541 213.5h5M164 214.5h2M173 214.5h1M186 214.5h3M203 214.5h2M206 214.5h4M220 214.5h4M245 214.5h1M249 214.5h1M267 214.5h1M285 214.5h1M333 214.5h1M338 214.5h1M351 214.5h2M496 214.5h9M508 214.5h7M517 214.5h11M529 214.5h7M543 214.5h3M152 215.5h6M163 215.5h6M171 215.5h6M182 215.5h13M196 215.5h1M200 215.5h4M206 215.5h3M214 215.5h1M228 215.5h3M355 215.5h1M386 215.5h1M468 215.5h1M477 215.5h1M486 215.5h1M495 215.5h4M507 215.5h16M524 215.5h9M540 215.5h6M150 216.5h2M162 216.5h4M191 216.5h3M204 216.5h1M208 216.5h3M338 216.5h1M380 216.5h1M476 216.5h1M482 216.5h1M488 216.5h1M492 216.5h1M495 216.5h2M502 216.5h1M505 216.5h9M516 216.5h1M520 216.5h11M535 216.5h7M150 217.5h5M156 217.5h11M168 217.5h2M172 217.5h14M188 217.5h4M200 217.5h11M213 217.5h8M250 217.5h1M268 217.5h1M282 217.5h1M356 217.5h1M387 217.5h1M441 217.5h1M487 217.5h1M493 217.5h9M504 217.5h6M512 217.5h11M533 217.5h4M539 217.5h5M187 218.5h3M197 218.5h1M209 218.5h1M213 218.5h14M249 218.5h1M281 218.5h1M322 218.5h1M338 218.5h1M486 218.5h1M496 218.5h3M501 218.5h23M151 219.5h2M158 219.5h3M177 219.5h5M183 219.5h8M193 219.5h2M200 219.5h1M202 219.5h7M211 219.5h2M225 219.5h3M245 219.5h1M249 219.5h2M262 219.5h1M334 219.5h1M350 219.5h1M386 219.5h1M427 219.5h1M499 219.5h2M503 219.5h4M508 219.5h3M512 219.5h4M521 219.5h3M525 219.5h5M539 219.5h7M165 220.5h2M192 220.5h6M202 220.5h1M208 220.5h2M246 220.5h1M249 220.5h2M305 220.5h1M316 220.5h1M339 220.5h1M421 220.5h1M453 220.5h1M472 220.5h1M492 220.5h2M496 220.5h4M504 220.5h2M510 220.5h1M515 220.5h6M533 220.5h2M536 220.5h10M150 221.5h2M157 221.5h3M165 221.5h12M180 221.5h9M190 221.5h3M194 221.5h4M202 221.5h3M206 221.5h8M218 221.5h3M223 221.5h1M316 221.5h1M332 221.5h2M337 221.5h1M369 221.5h1M494 221.5h3M501 221.5h19M521 221.5h25M185 222.5h7M267 222.5h1M269 222.5h1M321 222.5h1M338 222.5h1M350 222.5h1M373 222.5h1M390 222.5h1M495 222.5h1M498 222.5h3M502 222.5h1M505 222.5h6M512 222.5h8M521 222.5h3M525 222.5h1M527 222.5h2M152 223.5h6M159 223.5h1M163 223.5h11M179 223.5h9M189 223.5h2M192 223.5h2M195 223.5h9M220 223.5h2M228 223.5h2M231 223.5h1M249 223.5h1M264 223.5h1M300 223.5h1M322 223.5h1M351 223.5h1M468 223.5h1M473 223.5h1M488 223.5h1M492 223.5h1M496 223.5h2M503 223.5h6M510 223.5h5M516 223.5h13M530 223.5h2M534 223.5h11M181 224.5h5M196 224.5h16M231 224.5h1M287 224.5h1M334 224.5h1M368 224.5h1M372 224.5h1M374 224.5h1M386 224.5h2M390 224.5h1M459 224.5h1M489 224.5h1M498 224.5h7M506 224.5h5M513 224.5h4M520 224.5h1M523 224.5h9M539 224.5h1M543 224.5h3M150 225.5h1M162 225.5h6M172 225.5h1M174 225.5h10M189 225.5h5M198 225.5h1M202 225.5h2M209 225.5h1M216 225.5h2M227 225.5h2M262 225.5h1M269 225.5h1M299 225.5h1M373 225.5h1M441 225.5h1M494 225.5h1M496 225.5h2M499 225.5h21M523 225.5h18M543 225.5h1M196 226.5h1M203 226.5h3M207 226.5h1M214 226.5h3M220 226.5h3M235 226.5h1M245 226.5h1M262 226.5h1M292 226.5h1M299 226.5h1M317 226.5h1M355 226.5h1M367 226.5h1M454 226.5h1M498 226.5h7M506 226.5h3M511 226.5h6M527 226.5h1M150 227.5h11M163 227.5h1M167 227.5h5M173 227.5h4M182 227.5h15M203 227.5h9M218 227.5h6M250 227.5h2M268 227.5h1M368 227.5h1M373 227.5h1M385 227.5h1M387 227.5h1M439 227.5h1M442 227.5h1M494 227.5h7M504 227.5h4M511 227.5h5M519 227.5h1M521 227.5h23M165 228.5h3M174 228.5h2M184 228.5h2M200 228.5h1M202 228.5h1M205 228.5h1M211 228.5h5M227 228.5h3M249 228.5h1M338 228.5h1M350 228.5h2M355 228.5h1M426 228.5h1M473 228.5h1M483 228.5h1M494 228.5h4M499 228.5h2M516 228.5h12M535 228.5h1M153 229.5h8M166 229.5h12M191 229.5h2M194 229.5h6M202 229.5h1M204 229.5h4M216 229.5h1M231 229.5h1M235 229.5h1M250 229.5h1M337 229.5h2M351 229.5h1M356 229.5h1M448 229.5h1M488 229.5h1M495 229.5h6M502 229.5h1M505 229.5h3M510 229.5h20M532 229.5h3M536 229.5h4M541 229.5h5M152 230.5h1M155 230.5h4M185 230.5h1M198 230.5h1M203 230.5h1M207 230.5h6M219 230.5h2M262 230.5h1M267 230.5h1M333 230.5h1M351 230.5h1M437 230.5h1M443 230.5h1M447 230.5h1M466 230.5h1M488 230.5h1M504 230.5h4M512 230.5h8M523 230.5h6M533 230.5h10M150 231.5h12M163 231.5h14M182 231.5h9M202 231.5h9M268 231.5h1M285 231.5h1M315 231.5h1M317 231.5h1M337 231.5h1M356 231.5h2M391 231.5h1M487 231.5h1M495 231.5h8M504 231.5h9M520 231.5h7M532 231.5h9M542 231.5h1M545 231.5h1M150 232.5h2M194 232.5h2M203 232.5h3M212 232.5h1M234 232.5h1M263 232.5h1M304 232.5h1M316 232.5h1M333 232.5h1M337 232.5h1M473 232.5h1M478 232.5h1M495 232.5h6M503 232.5h3M509 232.5h3M515 232.5h10M532 232.5h3M539 232.5h4M150 233.5h6M157 233.5h2M162 233.5h12M176 233.5h4M187 233.5h8M197 233.5h3M211 233.5h1M216 233.5h2M264 233.5h1M316 233.5h3M351 233.5h1M477 233.5h1M492 233.5h1M495 233.5h9M505 233.5h20M530 233.5h1M536 233.5h6M544 233.5h2M156 234.5h1M159 234.5h2M184 234.5h9M202 234.5h2M209 234.5h3M216 234.5h3M224 234.5h3M268 234.5h1M298 234.5h1M300 234.5h1M339 234.5h1M349 234.5h1M351 234.5h1M390 234.5h1M487 234.5h1M498 234.5h8M508 234.5h3M513 234.5h6M521 234.5h2M533 234.5h1M537 234.5h3M541 234.5h1M153 235.5h20M174 235.5h2M181 235.5h1M183 235.5h11M206 235.5h2M209 235.5h2M213 235.5h3M217 235.5h2M281 235.5h2M333 235.5h1M338 235.5h1M368 235.5h1M425 235.5h1M494 235.5h2M497 235.5h10M512 235.5h11M525 235.5h13M543 235.5h3M163 236.5h2M191 236.5h1M194 236.5h4M200 236.5h1M233 236.5h1M249 236.5h2M264 236.5h1M286 236.5h1M373 236.5h1M386 236.5h1M437 236.5h1M472 236.5h1M488 236.5h1M490 236.5h1M504 236.5h1M506 236.5h2M509 236.5h1M511 236.5h3M518 236.5h2M531 236.5h15M154 237.5h4M161 237.5h5M171 237.5h6M183 237.5h2M186 237.5h1M189 237.5h3M201 237.5h7M209 237.5h2M219 237.5h4M234 237.5h1M264 237.5h1M268 237.5h1M285 237.5h1M303 237.5h2M350 237.5h1M377 237.5h1M385 237.5h1M489 237.5h1M493 237.5h4M502 237.5h1M504 237.5h2M507 237.5h5M533 237.5h13M182 238.5h1M194 238.5h7M218 238.5h1M224 238.5h2M267 238.5h1M297 238.5h1M333 238.5h1M337 238.5h1M355 238.5h1M373 238.5h1M376 238.5h1M386 238.5h1M390 238.5h1M392 238.5h1M448 238.5h1M482 238.5h1M500 238.5h2M507 238.5h1M509 238.5h16M540 238.5h3M151 239.5h5M157 239.5h2M164 239.5h6M174 239.5h1M176 239.5h5M187 239.5h9M197 239.5h6M204 239.5h6M219 239.5h4M225 239.5h1M280 239.5h1M303 239.5h1M337 239.5h1M339 239.5h1M350 239.5h1M422 239.5h1M458 239.5h1M487 239.5h1M494 239.5h2M501 239.5h8M511 239.5h10M526 239.5h20M187 240.5h5M193 240.5h2M199 240.5h14M245 240.5h1M250 240.5h1M270 240.5h1M352 240.5h1M368 240.5h1M374 240.5h1M421 240.5h1M425 240.5h1M444 240.5h1M488 240.5h1M494 240.5h2M497 240.5h1M499 240.5h1M501 240.5h4M506 240.5h3M510 240.5h1M518 240.5h1M527 240.5h2M532 240.5h10M545 240.5h1M150 241.5h7M160 241.5h6M167 241.5h4M172 241.5h1M174 241.5h3M181 241.5h1M185 241.5h3M191 241.5h7M199 241.5h4M206 241.5h6M226 241.5h2M230 241.5h1M249 241.5h1M264 241.5h1M282 241.5h1M357 241.5h1M373 241.5h1M442 241.5h1M447 241.5h1M487 241.5h1M494 241.5h11M507 241.5h3M511 241.5h27M544 241.5h2M152 242.5h2M159 242.5h9M183 242.5h9M199 242.5h11M247 242.5h1M268 242.5h1M323 242.5h1M338 242.5h1M368 242.5h1M468 242.5h1M489 242.5h1M501 242.5h2M510 242.5h1M512 242.5h1M524 242.5h4M534 242.5h1M151 243.5h5M158 243.5h1M161 243.5h6M169 243.5h8M189 243.5h2M194 243.5h5M200 243.5h2M203 243.5h6M212 243.5h2M222 243.5h1M235 243.5h1M264 243.5h1M305 243.5h1M387 243.5h1M391 243.5h1M425 243.5h2M495 243.5h3M499 243.5h4M504 243.5h1M506 243.5h1M508 243.5h6M535 243.5h4M542 243.5h2M168 244.5h9M185 244.5h5M197 244.5h9M222 244.5h5M231 244.5h1M247 244.5h1M264 244.5h1M295 244.5h1M303 244.5h1M318 244.5h1M323 244.5h1M334 244.5h1M337 244.5h1M352 244.5h1M356 244.5h1M441 244.5h1M466 244.5h1M487 244.5h1M500 244.5h1M504 244.5h16M524 244.5h5M151 245.5h2M155 245.5h6M165 245.5h1M168 245.5h30M199 245.5h2M203 245.5h1M205 245.5h8M214 245.5h1M217 245.5h4M225 245.5h2M247 245.5h1M252 245.5h1M282 245.5h1M317 245.5h1M350 245.5h1M440 245.5h1M442 245.5h1M496 245.5h1M502 245.5h6M510 245.5h17M528 245.5h3M533 245.5h7M544 245.5h2M195 246.5h1M207 246.5h3M234 246.5h1M291 246.5h1M334 246.5h1M338 246.5h1M350 246.5h1M372 246.5h1M422 246.5h1M473 246.5h1M490 246.5h1M504 246.5h1M507 246.5h5M514 246.5h1M519 246.5h3M523 246.5h7M532 246.5h3M537 246.5h3M151 247.5h2M166 247.5h3M172 247.5h14M189 247.5h10M201 247.5h1M212 247.5h4M218 247.5h4M223 247.5h2M250 247.5h2M264 247.5h1M268 247.5h1M288 247.5h1M305 247.5h1M372 247.5h1M387 247.5h1M478 247.5h1M498 247.5h3M502 247.5h1M505 247.5h5M511 247.5h5M517 247.5h29M164 248.5h1M166 248.5h11M189 248.5h3M199 248.5h5M205 248.5h1M207 248.5h11M250 248.5h1M267 248.5h1M322 248.5h1M338 248.5h1M351 248.5h1M489 248.5h1M493 248.5h2M499 248.5h3M506 248.5h2M509 248.5h4M516 248.5h6M525 248.5h4M536 248.5h1M540 248.5h4M545 248.5h1M150 249.5h15M167 249.5h1M171 249.5h3M177 249.5h22M201 249.5h4M207 249.5h1M211 249.5h5M220 249.5h12M251 249.5h1M267 249.5h1M287 249.5h1M339 249.5h1M355 249.5h1M421 249.5h1M488 249.5h1M490 249.5h1M494 249.5h6M503 249.5h14M519 249.5h5M525 249.5h6M532 249.5h10M543 249.5h3M196 250.5h1M207 250.5h3M262 250.5h1M264 250.5h1M304 250.5h1M339 250.5h1M372 250.5h1M426 250.5h1M494 250.5h7M502 250.5h7M513 250.5h6M524 250.5h1M543 250.5h3M150 251.5h2M159 251.5h1M164 251.5h2M167 251.5h1M175 251.5h2M180 251.5h11M192 251.5h14M207 251.5h7M221 251.5h1M246 251.5h1M323 251.5h1M351 251.5h1M391 251.5h1M488 251.5h1M499 251.5h1M503 251.5h2M507 251.5h1M509 251.5h5M518 251.5h8M530 251.5h6M539 251.5h3M545 251.5h1M191 252.5h5M202 252.5h3M214 252.5h1M223 252.5h4M262 252.5h1M287 252.5h1M303 252.5h1M317 252.5h1M338 252.5h1M387 252.5h1M448 252.5h1M471 252.5h1M490 252.5h1M495 252.5h1M498 252.5h4M503 252.5h4M518 252.5h5M525 252.5h5M532 252.5h10M545 252.5h1M151 253.5h10M164 253.5h7M175 253.5h1M179 253.5h1M183 253.5h13M202 253.5h4M215 253.5h12M228 253.5h2M303 253.5h1M352 253.5h1M369 253.5h1M426 253.5h1M488 253.5h1M495 253.5h8M507 253.5h1M509 253.5h18M534 253.5h1M536 253.5h4M545 253.5h1M190 254.5h4M202 254.5h6M218 254.5h3M226 254.5h6M245 254.5h3M251 254.5h1M268 254.5h1M322 254.5h1M489 254.5h2M493 254.5h7M502 254.5h5M521 254.5h7M533 254.5h2M540 254.5h6M150 255.5h1M159 255.5h17M182 255.5h3M194 255.5h1M196 255.5h15M215 255.5h1M217 255.5h3M227 255.5h3M252 255.5h1M334 255.5h1M337 255.5h3M356 255.5h1M420 255.5h2M427 255.5h1M479 255.5h1M495 255.5h2M498 255.5h2M502 255.5h5M508 255.5h6M515 255.5h9M529 255.5h1M531 255.5h4M536 255.5h10M192 256.5h1M194 256.5h2M202 256.5h2M222 256.5h3M227 256.5h2M247 256.5h1M268 256.5h2M350 256.5h1M352 256.5h1M357 256.5h1M390 256.5h1M442 256.5h1M493 256.5h1M497 256.5h2M501 256.5h12M520 256.5h8M537 256.5h9M150 257.5h4M159 257.5h3M163 257.5h7M172 257.5h2M175 257.5h5M181 257.5h3M186 257.5h2M194 257.5h5M200 257.5h4M207 257.5h7M217 257.5h1M219 257.5h1M285 257.5h1M387 257.5h1M444 257.5h1M495 257.5h1M497 257.5h1M499 257.5h1M501 257.5h3M515 257.5h3M519 257.5h16M536 257.5h4M541 257.5h5M190 258.5h1M203 258.5h5M268 258.5h1M334 258.5h1M352 258.5h2M358 258.5h1M490 258.5h1M493 258.5h2M498 258.5h2M503 258.5h6M513 258.5h1M517 258.5h8M536 258.5h10M150 259.5h2M155 259.5h7M164 259.5h4M169 259.5h3M181 259.5h1M184 259.5h2M195 259.5h12M218 259.5h11M269 259.5h1M282 259.5h1M318 259.5h1M337 259.5h1M392 259.5h1M421 259.5h1M448 259.5h1M496 259.5h1M498 259.5h10M510 259.5h4M517 259.5h2M520 259.5h15M538 259.5h4M545 259.5h1M154 260.5h5M187 260.5h1M193 260.5h3M197 260.5h6M214 260.5h2M233 260.5h1M250 260.5h2M263 260.5h1M322 260.5h1M356 260.5h1M383 260.5h1M487 260.5h1M490 260.5h1M493 260.5h3M499 260.5h3M506 260.5h3M510 260.5h5M519 260.5h6M534 260.5h6M542 260.5h4M150 261.5h12M165 261.5h4M171 261.5h2M174 261.5h3M182 261.5h1M185 261.5h3M189 261.5h6M197 261.5h2M214 261.5h11M316 261.5h1M322 261.5h1M338 261.5h1M352 261.5h1M443 261.5h1M487 261.5h1M489 261.5h1M497 261.5h5M503 261.5h10M516 261.5h1M518 261.5h3M523 261.5h3M529 261.5h2M532 261.5h13M186 262.5h2M195 262.5h3M316 262.5h1M352 262.5h1M368 262.5h1M474 262.5h1M488 262.5h1M497 262.5h2M506 262.5h1M508 262.5h1M511 262.5h7M519 262.5h11M531 262.5h1M544 262.5h1M150 263.5h4M159 263.5h2M162 263.5h2M167 263.5h8M176 263.5h2M181 263.5h3M188 263.5h1M195 263.5h5M202 263.5h2M224 263.5h4M251 263.5h1M264 263.5h1M321 263.5h1M333 263.5h1M357 263.5h1M369 263.5h1M422 263.5h1M467 263.5h1M472 263.5h1M483 263.5h1M488 263.5h1M494 263.5h2M504 263.5h7M517 263.5h1M520 263.5h3M535 263.5h11M152 264.5h1M162 264.5h1M212 264.5h3M222 264.5h1M227 264.5h2M233 264.5h1M250 264.5h2M263 264.5h1M269 264.5h1M286 264.5h2M292 264.5h1M322 264.5h1M392 264.5h1M490 264.5h1M495 264.5h6M507 264.5h5M513 264.5h3M523 264.5h10M151 265.5h1M155 265.5h3M159 265.5h5M169 265.5h6M183 265.5h14M208 265.5h1M212 265.5h3M246 265.5h1M282 265.5h1M317 265.5h1M338 265.5h1M356 265.5h2M421 265.5h1M483 265.5h1M493 265.5h11M505 265.5h3M512 265.5h23M536 265.5h6M545 265.5h1M163 266.5h2M186 266.5h3M197 266.5h4M204 266.5h3M208 266.5h3M217 266.5h1M227 266.5h3M231 266.5h2M247 266.5h1M251 266.5h1M338 266.5h1M446 266.5h1M488 266.5h1M494 266.5h1M497 266.5h5M505 266.5h1M524 266.5h5M532 266.5h6M151 267.5h3M155 267.5h1M163 267.5h2M175 267.5h1M181 267.5h1M188 267.5h25M222 267.5h2M247 267.5h1M264 267.5h1M298 267.5h1M356 267.5h1M373 267.5h1M385 267.5h1M387 267.5h1M478 267.5h1M496 267.5h6M507 267.5h7M522 267.5h16M169 268.5h2M189 268.5h10M203 268.5h6M223 268.5h1M251 268.5h1M288 268.5h1M338 268.5h1M386 268.5h2M391 268.5h1M482 268.5h1M493 268.5h1M496 268.5h7M508 268.5h1M510 268.5h6M521 268.5h2M525 268.5h3M529 268.5h4M537 268.5h1M150 269.5h4M161 269.5h12M176 269.5h1M186 269.5h1M194 269.5h10M205 269.5h2M208 269.5h4M221 269.5h1M230 269.5h2M251 269.5h1M265 269.5h1M269 269.5h1M287 269.5h1M323 269.5h1M421 269.5h1M494 269.5h17M514 269.5h20M541 269.5h4M151 270.5h2M158 270.5h10M171 270.5h5M198 270.5h1M206 270.5h5M214 270.5h4M234 270.5h1M247 270.5h1M298 270.5h1M305 270.5h1M323 270.5h1M339 270.5h1M352 270.5h1M369 270.5h1M385 270.5h1M482 270.5h1M493 270.5h1M502 270.5h2M506 270.5h3M513 270.5h3M519 270.5h7M536 270.5h1M540 270.5h2M164 271.5h2M167 271.5h12M180 271.5h1M186 271.5h9M196 271.5h7M207 271.5h3M227 271.5h1M251 271.5h1M268 271.5h1M293 271.5h1M297 271.5h1M333 271.5h1M351 271.5h2M357 271.5h1M426 271.5h1M471 271.5h1M473 271.5h1M488 271.5h1M493 271.5h1M498 271.5h9M509 271.5h2M512 271.5h7M527 271.5h2M533 271.5h9M545 271.5h1M160 272.5h2M174 272.5h1M191 272.5h2M197 272.5h2M202 272.5h4M209 272.5h3M215 272.5h2M218 272.5h1M222 272.5h2M235 272.5h1M246 272.5h1M265 272.5h1M268 272.5h1M282 272.5h1M299 272.5h1M334 272.5h1M372 272.5h1M386 272.5h1M420 272.5h1M468 272.5h1M480 272.5h1M488 272.5h1M490 272.5h1M494 272.5h3M498 272.5h4M505 272.5h10M526 272.5h1M534 272.5h6M541 272.5h2M150 273.5h5M158 273.5h2M163 273.5h1M165 273.5h1M169 273.5h1M171 273.5h7M181 273.5h11M193 273.5h7M202 273.5h1M210 273.5h2M217 273.5h3M247 273.5h1M268 273.5h1M286 273.5h1M333 273.5h1M373 273.5h1M447 273.5h1M494 273.5h1M497 273.5h11M509 273.5h13M526 273.5h2M531 273.5h10M180 274.5h1M187 274.5h1M190 274.5h2M193 274.5h5M200 274.5h2M203 274.5h2M207 274.5h6M214 274.5h1M233 274.5h1M338 274.5h1M351 274.5h1M387 274.5h1M426 274.5h1M443 274.5h1M447 274.5h1M478 274.5h1M497 274.5h7M505 274.5h2M511 274.5h3M519 274.5h2M150 275.5h1M164 275.5h4M169 275.5h1M171 275.5h21M195 275.5h4M200 275.5h3M205 275.5h2M208 275.5h4M213 275.5h1M215 275.5h2M220 275.5h4M234 275.5h1M250 275.5h1M339 275.5h1M352 275.5h1M427 275.5h1M478 275.5h1M486 275.5h1M489 275.5h2M494 275.5h4M503 275.5h4M508 275.5h2M511 275.5h21M534 275.5h10M184 276.5h3M191 276.5h1M195 276.5h2M201 276.5h4M233 276.5h1M251 276.5h1M293 276.5h1M442 276.5h1M478 276.5h1M494 276.5h1M502 276.5h3M509 276.5h5M515 276.5h3M522 276.5h2M525 276.5h3M529 276.5h1M537 276.5h4M152 277.5h12M165 277.5h3M175 277.5h2M178 277.5h2M181 277.5h15M197 277.5h5M204 277.5h9M221 277.5h3M282 277.5h1M352 277.5h1M357 277.5h1M472 277.5h1M498 277.5h1M504 277.5h2M507 277.5h5M520 277.5h18M541 277.5h2M544 277.5h2M198 278.5h2M209 278.5h1M211 278.5h5M221 278.5h2M264 278.5h2M268 278.5h1M334 278.5h1M352 278.5h1M386 278.5h1M391 278.5h1M490 278.5h1M494 278.5h2M499 278.5h14M516 278.5h2M522 278.5h7M531 278.5h1M534 278.5h2M150 279.5h3M157 279.5h2M160 279.5h3M164 279.5h3M171 279.5h3M181 279.5h3M185 279.5h3M190 279.5h4M196 279.5h2M207 279.5h4M220 279.5h5M227 279.5h1M232 279.5h1M251 279.5h1M338 279.5h2M352 279.5h1M373 279.5h1M468 279.5h1M488 279.5h1M494 279.5h2M497 279.5h5M505 279.5h2M508 279.5h3M513 279.5h4M518 279.5h1M520 279.5h4M525 279.5h12M187 280.5h10M198 280.5h11M247 280.5h1M264 280.5h1M337 280.5h1M442 280.5h1M482 280.5h1M496 280.5h7M505 280.5h7M514 280.5h1M516 280.5h10M527 280.5h2M530 280.5h10M151 281.5h1M153 281.5h2M158 281.5h3M163 281.5h3M170 281.5h4M181 281.5h10M197 281.5h9M208 281.5h3M212 281.5h3M217 281.5h2M223 281.5h8M234 281.5h1M269 281.5h1M283 281.5h1M299 281.5h1M333 281.5h1M338 281.5h1M385 281.5h2M421 281.5h1M478 281.5h1M490 281.5h1M493 281.5h4M500 281.5h3M504 281.5h2M507 281.5h1M511 281.5h2M514 281.5h32M199 282.5h5M213 282.5h5M264 282.5h1M268 282.5h2M304 282.5h1M318 282.5h1M322 282.5h1M351 282.5h1M381 282.5h1M427 282.5h1M471 282.5h1M488 282.5h1M490 282.5h1M493 282.5h9M503 282.5h5M509 282.5h2M512 282.5h1M514 282.5h1M516 282.5h7M528 282.5h1M545 282.5h1M150 283.5h6M161 283.5h4M172 283.5h7M185 283.5h1M196 283.5h1M198 283.5h10M210 283.5h3M217 283.5h1M221 283.5h5M227 283.5h6M251 283.5h1M298 283.5h1M305 283.5h1M323 283.5h1M332 283.5h1M368 283.5h2M372 283.5h1M392 283.5h1M473 283.5h1M484 283.5h1M494 283.5h4M501 283.5h9M512 283.5h3M516 283.5h3M523 283.5h10M534 283.5h5M544 283.5h2M189 284.5h1M195 284.5h2M198 284.5h3M205 284.5h2M211 284.5h1M221 284.5h1M246 284.5h1M269 284.5h1M338 284.5h1M374 284.5h1M421 284.5h1M490 284.5h1M495 284.5h7M507 284.5h2M511 284.5h2M538 284.5h2M151 285.5h3M161 285.5h2M164 285.5h7M172 285.5h3M176 285.5h1M178 285.5h3M184 285.5h5M190 285.5h8M203 285.5h2M206 285.5h1M209 285.5h1M219 285.5h6M226 285.5h5M282 285.5h1M304 285.5h1M368 285.5h1M387 285.5h1M426 285.5h1M443 285.5h1M468 285.5h1M471 285.5h1M481 285.5h2M487 285.5h1M494 285.5h2M498 285.5h2M503 285.5h13M521 285.5h5M528 285.5h8M162 286.5h2M186 286.5h1M188 286.5h1M194 286.5h1M199 286.5h4M204 286.5h4M212 286.5h5M247 286.5h1M304 286.5h1M333 286.5h1M337 286.5h1M352 286.5h2M392 286.5h1M474 286.5h1M489 286.5h1M495 286.5h9M508 286.5h6M516 286.5h5M525 286.5h1M150 287.5h15M177 287.5h7M188 287.5h6M196 287.5h3M201 287.5h5M207 287.5h5M229 287.5h1M232 287.5h1M251 287.5h1M299 287.5h1M338 287.5h1M386 287.5h1M472 287.5h1M474 287.5h1M488 287.5h1M496 287.5h2M499 287.5h3M504 287.5h7M512 287.5h14M531 287.5h15M150 288.5h4M166 288.5h4M176 288.5h1M182 288.5h1M194 288.5h7M202 288.5h1M206 288.5h3M210 288.5h1M220 288.5h5M231 288.5h2M246 288.5h1M251 288.5h1M339 288.5h1M352 288.5h1M356 288.5h1M428 288.5h1M487 288.5h1M490 288.5h1M494 288.5h3M512 288.5h8M521 288.5h7M530 288.5h4M536 288.5h3M156 289.5h4M163 289.5h8M173 289.5h8M184 289.5h9M202 289.5h1M204 289.5h6M220 289.5h6M229 289.5h4M251 289.5h2M264 289.5h1M282 289.5h1M287 289.5h1M334 289.5h1M338 289.5h1M370 289.5h1M392 289.5h1M468 289.5h1M474 289.5h1M490 289.5h1M493 289.5h17M511 289.5h1M513 289.5h17M536 289.5h10M193 290.5h6M200 290.5h1M202 290.5h2M213 290.5h1M235 290.5h1M263 290.5h1M322 290.5h1M334 290.5h1M338 290.5h1M385 290.5h1M390 290.5h1M468 290.5h1M483 290.5h1M502 290.5h1M509 290.5h2M513 290.5h4M534 290.5h1M538 290.5h2M150 291.5h5M159 291.5h17M177 291.5h9M190 291.5h20M214 291.5h1M220 291.5h5M229 291.5h3M246 291.5h1M338 291.5h1M422 291.5h1M495 291.5h3M500 291.5h6M508 291.5h10M521 291.5h10M532 291.5h6M162 292.5h9M172 292.5h9M207 292.5h4M235 292.5h1M247 292.5h1M251 292.5h1M263 292.5h1M265 292.5h1M268 292.5h1M336 292.5h1M339 292.5h1M351 292.5h1M373 292.5h1M448 292.5h1M489 292.5h1M494 292.5h4M501 292.5h6M508 292.5h9M518 292.5h3M528 292.5h1M532 292.5h1M536 292.5h9M151 293.5h1M159 293.5h3M164 293.5h2M169 293.5h18M188 293.5h5M194 293.5h1M201 293.5h8M224 293.5h1M229 293.5h1M252 293.5h1M303 293.5h2M352 293.5h1M387 293.5h1M446 293.5h1M489 293.5h1M494 293.5h3M499 293.5h1M509 293.5h2M515 293.5h3M520 293.5h7M528 293.5h10M544 293.5h2M187 294.5h5M196 294.5h1M209 294.5h1M222 294.5h1M268 294.5h1M333 294.5h1M335 294.5h1M443 294.5h1M447 294.5h1M474 294.5h1M509 294.5h4M516 294.5h16M533 294.5h3M539 294.5h3M150 295.5h3M158 295.5h1M165 295.5h4M176 295.5h30M207 295.5h4M219 295.5h4M228 295.5h1M230 295.5h3M235 295.5h1M248 295.5h1M251 295.5h1M262 295.5h1M265 295.5h1M283 295.5h1M317 295.5h1M357 295.5h1M373 295.5h1M386 295.5h1M490 295.5h1M493 295.5h1M495 295.5h1M501 295.5h5M508 295.5h12M521 295.5h8M531 295.5h4M536 295.5h10M150 296.5h2M200 296.5h1M204 296.5h1M248 296.5h1M304 296.5h1M335 296.5h1M374 296.5h1M386 296.5h1M467 296.5h1M498 296.5h6M510 296.5h17M152 297.5h3M156 297.5h8M168 297.5h1M183 297.5h7M194 297.5h5M201 297.5h1M203 297.5h2M208 297.5h3M214 297.5h1M216 297.5h2M222 297.5h3M228 297.5h2M236 297.5h1M246 297.5h1M264 297.5h1M269 297.5h1M303 297.5h1M358 297.5h1M386 297.5h2M468 297.5h1M483 297.5h1M488 297.5h1M496 297.5h2M499 297.5h4M505 297.5h20M529 297.5h6M537 297.5h7M173 298.5h1M190 298.5h2M197 298.5h10M211 298.5h1M226 298.5h7M246 298.5h1M335 298.5h1M427 298.5h1M442 298.5h1M489 298.5h1M496 298.5h1M498 298.5h4M503 298.5h10M520 298.5h2M526 298.5h5M533 298.5h3M543 298.5h3M152 299.5h12M165 299.5h1M167 299.5h1M171 299.5h14M188 299.5h1M192 299.5h3M197 299.5h11M210 299.5h4M225 299.5h1M233 299.5h1M247 299.5h1M253 299.5h1M283 299.5h1M340 299.5h1M357 299.5h2M373 299.5h1M444 299.5h1M447 299.5h1M473 299.5h1M497 299.5h1M499 299.5h2M503 299.5h13M517 299.5h14M532 299.5h2M535 299.5h4M544 299.5h2M167 300.5h9M205 300.5h7M268 300.5h2M336 300.5h1M351 300.5h3M368 300.5h1M447 300.5h2M482 300.5h1M495 300.5h8M509 300.5h3M513 300.5h5M520 300.5h11M535 300.5h3M543 300.5h2M150 301.5h4M157 301.5h3M164 301.5h4M175 301.5h3M184 301.5h10M195 301.5h7M203 301.5h2M209 301.5h1M212 301.5h2M220 301.5h3M246 301.5h1M268 301.5h1M292 301.5h2M298 301.5h1M300 301.5h1M304 301.5h1M334 301.5h1M392 301.5h1M405 301.5h1M421 301.5h1M478 301.5h1M495 301.5h18M517 301.5h20M538 301.5h3M542 301.5h4M164 302.5h2M189 302.5h15M206 302.5h6M282 302.5h1M303 302.5h1M317 302.5h1M352 302.5h1M356 302.5h2M374 302.5h1M390 302.5h1M426 302.5h1M468 302.5h1M498 302.5h2M503 302.5h9M514 302.5h12M531 302.5h2M534 302.5h3M540 302.5h2M156 303.5h7M184 303.5h3M190 303.5h6M199 303.5h7M208 303.5h2M212 303.5h1M215 303.5h8M228 303.5h2M252 303.5h1M268 303.5h2M323 303.5h1M334 303.5h1M336 303.5h1M351 303.5h2M387 303.5h1M391 303.5h1M448 303.5h1M467 303.5h1M478 303.5h1M493 303.5h3M498 303.5h6M507 303.5h14M522 303.5h2M531 303.5h11M189 304.5h2M197 304.5h1M199 304.5h9M218 304.5h1M221 304.5h1M223 304.5h4M231 304.5h2M298 304.5h2M341 304.5h1M374 304.5h1M386 304.5h1M393 304.5h1M443 304.5h1M473 304.5h1M489 304.5h1M495 304.5h5M502 304.5h6M509 304.5h1M511 304.5h3M515 304.5h3M521 304.5h6M533 304.5h2M539 304.5h1M151 305.5h9M162 305.5h7M175 305.5h3M180 305.5h4M186 305.5h2M193 305.5h7M203 305.5h9M213 305.5h1M219 305.5h1M223 305.5h2M232 305.5h3M251 305.5h1M300 305.5h1M304 305.5h1M333 305.5h1M391 305.5h2M441 305.5h1M449 305.5h1M456 305.5h1M495 305.5h5M503 305.5h11M518 305.5h11M530 305.5h8M540 305.5h2M191 306.5h1M193 306.5h3M210 306.5h1M224 306.5h1M235 306.5h1M263 306.5h1M282 306.5h1M322 306.5h1M339 306.5h1M442 306.5h1M472 306.5h1M498 306.5h13M515 306.5h1M518 306.5h7M526 306.5h2M529 306.5h1M535 306.5h1M539 306.5h5M150 307.5h7M160 307.5h9M172 307.5h2M177 307.5h7M187 307.5h4M196 307.5h2M199 307.5h16M227 307.5h2M246 307.5h1M368 307.5h2M420 307.5h2M460 307.5h1M479 307.5h1M490 307.5h1M498 307.5h1M501 307.5h1M503 307.5h1M506 307.5h2M509 307.5h4M514 307.5h24M542 307.5h4M186 308.5h2M202 308.5h3M210 308.5h4M218 308.5h4M224 308.5h1M283 308.5h1M287 308.5h1M358 308.5h1M370 308.5h1M473 308.5h2M493 308.5h3M497 308.5h2M504 308.5h4M511 308.5h8M523 308.5h11M542 308.5h4M157 309.5h13M172 309.5h1M174 309.5h6M181 309.5h5M188 309.5h18M207 309.5h6M224 309.5h8M252 309.5h1M334 309.5h1M339 309.5h1M351 309.5h3M421 309.5h1M446 309.5h1M472 309.5h1M488 309.5h2M495 309.5h2M498 309.5h11M511 309.5h10M525 309.5h3M530 309.5h16M193 310.5h2M200 310.5h5M206 310.5h2M218 310.5h1M221 310.5h1M265 310.5h1M282 310.5h1M334 310.5h1M356 310.5h1M422 310.5h1M487 310.5h1M497 310.5h3M510 310.5h2M150 311.5h1M152 311.5h6M159 311.5h1M164 311.5h2M176 311.5h3M180 311.5h1M188 311.5h7M196 311.5h5M202 311.5h6M209 311.5h7M217 311.5h1M229 311.5h1M339 311.5h1M375 311.5h1M387 311.5h1M391 311.5h1M426 311.5h1M490 311.5h1M494 311.5h29M527 311.5h4M534 311.5h11M162 312.5h6M182 312.5h7M194 312.5h2M197 312.5h3M211 312.5h5M231 312.5h1M246 312.5h1M282 312.5h1M287 312.5h1M304 312.5h1M317 312.5h1M336 312.5h1M352 312.5h1M387 312.5h2M474 312.5h1M480 312.5h1M500 312.5h4M505 312.5h5M511 312.5h8M522 312.5h2M533 312.5h13M160 313.5h4M166 313.5h9M179 313.5h10M191 313.5h4M196 313.5h1M198 313.5h5M206 313.5h2M211 313.5h2M219 313.5h1M232 313.5h1M304 313.5h1M323 313.5h1M334 313.5h1M339 313.5h1M353 313.5h1M368 313.5h1M392 313.5h1M447 313.5h1M474 313.5h1M482 313.5h2M498 313.5h2M503 313.5h5M513 313.5h1M516 313.5h20M538 313.5h8M161 314.5h4M182 314.5h3M193 314.5h1M196 314.5h2M199 314.5h3M204 314.5h4M209 314.5h3M224 314.5h1M229 314.5h4M246 314.5h1M283 314.5h1M304 314.5h1M340 314.5h1M351 314.5h2M405 314.5h1M472 314.5h1M474 314.5h1M487 314.5h3M500 314.5h4M506 314.5h2M511 314.5h1M513 314.5h19M540 314.5h1M542 314.5h2M150 315.5h4M156 315.5h3M162 315.5h3M167 315.5h5M176 315.5h2M194 315.5h5M200 315.5h7M208 315.5h7M216 315.5h3M223 315.5h1M268 315.5h1M286 315.5h2M304 315.5h1M318 315.5h1M447 315.5h1M487 315.5h1M494 315.5h15M520 315.5h9M536 315.5h9M160 316.5h3M167 316.5h2M191 316.5h2M196 316.5h2M200 316.5h1M205 316.5h4M225 316.5h2M265 316.5h1M304 316.5h1M335 316.5h1M352 316.5h1M357 316.5h1M442 316.5h1M474 316.5h1M489 316.5h1M500 316.5h2M503 316.5h11M516 316.5h3M527 316.5h2M542 316.5h3M150 317.5h13M166 317.5h12M180 317.5h2M192 317.5h13M206 317.5h1M208 317.5h4M213 317.5h2M382 317.5h1M489 317.5h1M494 317.5h2M498 317.5h1M502 317.5h5M509 317.5h8M518 317.5h1M532 317.5h14M150 318.5h2M190 318.5h3M195 318.5h2M205 318.5h6M217 318.5h1M222 318.5h3M230 318.5h2M251 318.5h1M265 318.5h1M334 318.5h1M357 318.5h1M392 318.5h1M410 318.5h1M448 318.5h1M475 318.5h1M498 318.5h1M503 318.5h16M532 318.5h6M162 319.5h6M175 319.5h1M177 319.5h14M198 319.5h3M210 319.5h2M213 319.5h3M236 319.5h1M246 319.5h1M251 319.5h1M263 319.5h2M357 319.5h1M374 319.5h2M422 319.5h1M472 319.5h2M482 319.5h1M494 319.5h1M499 319.5h3M503 319.5h5M510 319.5h14M525 319.5h10M537 319.5h6M545 319.5h1M155 320.5h6M163 320.5h5M176 320.5h1M201 320.5h6M213 320.5h4M219 320.5h7M300 320.5h1M324 320.5h1M358 320.5h1M482 320.5h2M495 320.5h4M502 320.5h8M519 320.5h1M521 320.5h2M524 320.5h1M529 320.5h15M150 321.5h5M156 321.5h4M162 321.5h3M168 321.5h3M175 321.5h5M181 321.5h6M188 321.5h11M201 321.5h4M206 321.5h4M212 321.5h5M219 321.5h3M269 321.5h1M287 321.5h1M299 321.5h1M334 321.5h1M339 321.5h1M409 321.5h1M488 321.5h2M497 321.5h2M504 321.5h12M517 321.5h5M523 321.5h13M537 321.5h5M543 321.5h3M162 322.5h6M172 322.5h2M175 322.5h2M182 322.5h3M196 322.5h1M203 322.5h2M206 322.5h4M220 322.5h2M251 322.5h3M262 322.5h2M269 322.5h1M353 322.5h1M393 322.5h1M427 322.5h1M442 322.5h1M467 322.5h1M499 322.5h1M502 322.5h4M507 322.5h1M509 322.5h7M519 322.5h17M543 322.5h3M155 323.5h3M160 323.5h6M170 323.5h7M182 323.5h1M189 323.5h8M201 323.5h3M207 323.5h7M229 323.5h2M247 323.5h1M268 323.5h2M300 323.5h1M336 323.5h1M357 323.5h1M386 323.5h1M469 323.5h1M474 323.5h1M489 323.5h1M499 323.5h15M519 323.5h10M532 323.5h8M197 324.5h4M204 324.5h1M206 324.5h3M264 324.5h1M317 324.5h1M335 324.5h1M341 324.5h1M352 324.5h1M356 324.5h1M427 324.5h1M478 324.5h1M490 324.5h1M494 324.5h4M504 324.5h3M508 324.5h2M511 324.5h6M519 324.5h3M537 324.5h4M543 324.5h2M150 325.5h5M159 325.5h2M163 325.5h2M169 325.5h2M173 325.5h8M185 325.5h22M208 325.5h3M215 325.5h4M226 325.5h1M282 325.5h1M300 325.5h1M303 325.5h1M352 325.5h1M374 325.5h1M461 325.5h1M497 325.5h10M509 325.5h10M529 325.5h17M172 326.5h1M193 326.5h6M200 326.5h6M214 326.5h1M252 326.5h1M265 326.5h1M335 326.5h1M353 326.5h1M406 326.5h1M426 326.5h1M442 326.5h1M474 326.5h1M497 326.5h3M501 326.5h11M514 326.5h10M534 326.5h3M150 327.5h3M158 327.5h3M163 327.5h16M180 327.5h1M186 327.5h8M198 327.5h6M206 327.5h5M228 327.5h3M236 327.5h1M269 327.5h1M298 327.5h1M489 327.5h1M496 327.5h1M502 327.5h15M518 327.5h2M526 327.5h20M188 328.5h1M193 328.5h5M200 328.5h3M205 328.5h1M214 328.5h2M219 328.5h1M221 328.5h4M300 328.5h1M316 328.5h1M356 328.5h1M406 328.5h1M428 328.5h1M447 328.5h1M489 328.5h1M506 328.5h11M520 328.5h2M523 328.5h2M541 328.5h2M152 329.5h9M165 329.5h2M174 329.5h2M178 329.5h8M189 329.5h6M196 329.5h8M206 329.5h3M210 329.5h1M224 329.5h4M247 329.5h1M282 329.5h1M304 329.5h1M335 329.5h1M356 329.5h1M359 329.5h1M468 329.5h1M493 329.5h2M499 329.5h5M507 329.5h12M540 329.5h6M160 330.5h1M188 330.5h4M200 330.5h2M206 330.5h1M208 330.5h2M213 330.5h1M218 330.5h10M245 330.5h1M247 330.5h1M251 330.5h1M269 330.5h1M281 330.5h2M472 330.5h1M488 330.5h3M493 330.5h7M501 330.5h2M504 330.5h1M506 330.5h10M524 330.5h16M542 330.5h2M151 331.5h17M172 331.5h6M179 331.5h2M182 331.5h7M190 331.5h1M192 331.5h2M198 331.5h3M209 331.5h2M213 331.5h3M223 331.5h1M286 331.5h1M288 331.5h1M318 331.5h2M353 331.5h1M357 331.5h1M369 331.5h1M392 331.5h1M423 331.5h1M480 331.5h1M495 331.5h3M499 331.5h2M502 331.5h19M522 331.5h11M535 331.5h11M199 332.5h3M208 332.5h7M219 332.5h1M264 332.5h1M282 332.5h2M318 332.5h1M353 332.5h1M427 332.5h1M496 332.5h1M500 332.5h3M508 332.5h8M523 332.5h5M530 332.5h2M537 332.5h3M543 332.5h3M151 333.5h3M157 333.5h1M159 333.5h4M166 333.5h17M189 333.5h12M202 333.5h1M204 333.5h7M217 333.5h6M247 333.5h2M265 333.5h1M283 333.5h1M288 333.5h1M341 333.5h1M422 333.5h1M443 333.5h1M495 333.5h2M498 333.5h2M505 333.5h4M510 333.5h9M520 333.5h18M539 333.5h7M159 334.5h1M190 334.5h1M196 334.5h1M205 334.5h1M220 334.5h2M265 334.5h1M293 334.5h1M297 334.5h1M319 334.5h1M359 334.5h1M368 334.5h1M391 334.5h1M420 334.5h1M426 334.5h1M446 334.5h1M469 334.5h1M473 334.5h1M489 334.5h1M494 334.5h2M498 334.5h2M502 334.5h14M521 334.5h7M533 334.5h6M151 335.5h13M165 335.5h3M170 335.5h1M173 335.5h5M186 335.5h4M192 335.5h1M194 335.5h2M197 335.5h1M204 335.5h4M209 335.5h5M218 335.5h4M233 335.5h1M247 335.5h1M270 335.5h1M339 335.5h2M357 335.5h1M370 335.5h1M373 335.5h2M487 335.5h1M493 335.5h2M496 335.5h29M526 335.5h19M176 336.5h1M205 336.5h4M210 336.5h5M216 336.5h2M219 336.5h6M226 336.5h3M233 336.5h1M248 336.5h1M263 336.5h1M265 336.5h1M269 336.5h1M271 336.5h1M286 336.5h1M317 336.5h1M388 336.5h1M468 336.5h1M494 336.5h1M496 336.5h3M500 336.5h2M510 336.5h3M538 336.5h5M150 337.5h3M161 337.5h12M174 337.5h1M184 337.5h17M206 337.5h1M208 337.5h8M218 337.5h1M222 337.5h3M227 337.5h2M251 337.5h1M286 337.5h1M340 337.5h1M374 337.5h1M427 337.5h1M472 337.5h2M495 337.5h2M499 337.5h4M504 337.5h8M513 337.5h17M531 337.5h4M539 337.5h7M152 338.5h7M172 338.5h1M200 338.5h1M205 338.5h1M209 338.5h3M213 338.5h2M216 338.5h2M386 338.5h1M427 338.5h1M441 338.5h1M479 338.5h1M494 338.5h2M498 338.5h1M501 338.5h8M510 338.5h6M517 338.5h8M529 338.5h2M539 338.5h3M544 338.5h2M150 339.5h3M155 339.5h7M167 339.5h4M174 339.5h29M211 339.5h5M223 339.5h2M229 339.5h2M323 339.5h1M357 339.5h1M369 339.5h2M386 339.5h1M422 339.5h1M474 339.5h1M495 339.5h1M501 339.5h2M505 339.5h2M510 339.5h2M513 339.5h14M531 339.5h10M201 340.5h1M203 340.5h3M216 340.5h2M221 340.5h4M227 340.5h6M266 340.5h1M271 340.5h1M356 340.5h1M474 340.5h2M489 340.5h2M494 340.5h9M506 340.5h28M150 341.5h4M157 341.5h8M167 341.5h2M170 341.5h6M179 341.5h1M182 341.5h6M196 341.5h3M200 341.5h2M204 341.5h2M207 341.5h4M212 341.5h1M215 341.5h4M223 341.5h1M229 341.5h1M248 341.5h1M283 341.5h1M323 341.5h1M420 341.5h1M472 341.5h1M489 341.5h1M496 341.5h1M498 341.5h1M511 341.5h4M516 341.5h30M162 342.5h2M188 342.5h8M207 342.5h6M217 342.5h2M247 342.5h1M270 342.5h2M282 342.5h1M334 342.5h2M339 342.5h1M374 342.5h1M379 342.5h1M495 342.5h2M505 342.5h2M509 342.5h4M515 342.5h14M530 342.5h7M150 343.5h6M158 343.5h22M181 343.5h2M187 343.5h11M199 343.5h1M201 343.5h1M207 343.5h7M220 343.5h3M248 343.5h1M282 343.5h1M288 343.5h1M356 343.5h1M422 343.5h1M488 343.5h2M496 343.5h3M502 343.5h3M510 343.5h11M527 343.5h3M536 343.5h10M166 344.5h5M185 344.5h2M189 344.5h3M204 344.5h1M229 344.5h1M234 344.5h1M252 344.5h1M269 344.5h1M304 344.5h1M352 344.5h1M357 344.5h1M478 344.5h1M483 344.5h1M497 344.5h3M502 344.5h8M517 344.5h10M534 344.5h3M539 344.5h3M544 344.5h2M151 345.5h14M166 345.5h8M175 345.5h6M184 345.5h2M189 345.5h15M218 345.5h1M221 345.5h3M226 345.5h8M265 345.5h1M271 345.5h1M318 345.5h1M392 345.5h1M447 345.5h1M493 345.5h1M499 345.5h8M508 345.5h23M536 345.5h10M172 346.5h1M188 346.5h2M209 346.5h3M217 346.5h5M236 346.5h1M247 346.5h2M270 346.5h1M286 346.5h2M300 346.5h1M340 346.5h2M423 346.5h1M426 346.5h1M442 346.5h1M487 346.5h1M499 346.5h1M503 346.5h3M508 346.5h5M518 346.5h2M530 346.5h3M534 346.5h2M150 347.5h7M161 347.5h5M168 347.5h3M178 347.5h5M195 347.5h4M201 347.5h3M205 347.5h1M208 347.5h3M213 347.5h1M217 347.5h7M227 347.5h1M264 347.5h1M281 347.5h1M286 347.5h1M319 347.5h1M335 347.5h1M357 347.5h1M447 347.5h1M495 347.5h19M516 347.5h17M535 347.5h2M542 347.5h1M150 348.5h2M160 348.5h1M163 348.5h4M174 348.5h1M176 348.5h4M185 348.5h5M193 348.5h2M207 348.5h1M220 348.5h8M235 348.5h1M266 348.5h1M287 348.5h1M356 348.5h1M421 348.5h1M447 348.5h1M488 348.5h2M515 348.5h14M533 348.5h3M538 348.5h3M150 349.5h4M155 349.5h3M172 349.5h28M202 349.5h4M207 349.5h2M222 349.5h2M228 349.5h3M247 349.5h1M265 349.5h1M270 349.5h1M301 349.5h1M324 349.5h1M336 349.5h1M340 349.5h1M442 349.5h1M461 349.5h1M490 349.5h1M494 349.5h3M508 349.5h16M526 349.5h3M533 349.5h13M150 350.5h4M205 350.5h11M231 350.5h1M299 350.5h2M305 350.5h1M324 350.5h1M358 350.5h1M428 350.5h1M472 350.5h2M478 350.5h1M497 350.5h5M508 350.5h3M513 350.5h18M533 350.5h4M159 351.5h6M166 351.5h2M178 351.5h5M187 351.5h27M221 351.5h2M232 351.5h1M251 351.5h1M253 351.5h1M286 351.5h1M304 351.5h1M318 351.5h1M356 351.5h1M473 351.5h1M489 351.5h1M494 351.5h6M503 351.5h6M510 351.5h9M520 351.5h5M526 351.5h4M533 351.5h13M150 352.5h2M159 352.5h3M164 352.5h5M189 352.5h4M200 352.5h1M205 352.5h9M224 352.5h5M251 352.5h2M322 352.5h1M357 352.5h1M426 352.5h1M447 352.5h1M474 352.5h1M501 352.5h14M521 352.5h2M524 352.5h2M527 352.5h2M540 352.5h3M156 353.5h2M159 353.5h7M169 353.5h12M182 353.5h3M186 353.5h8M195 353.5h2M213 353.5h1M222 353.5h1M247 353.5h2M252 353.5h1M299 353.5h2M304 353.5h1M324 353.5h1M341 353.5h1M379 353.5h1M443 353.5h1M499 353.5h8M511 353.5h15M534 353.5h2M538 353.5h5M184 354.5h1M192 354.5h1M200 354.5h1M205 354.5h1M221 354.5h1M236 354.5h1M334 354.5h1M341 354.5h1M448 354.5h1M473 354.5h1M489 354.5h1M514 354.5h8M523 354.5h5M531 354.5h2M545 354.5h1M152 355.5h6M166 355.5h1M168 355.5h5M183 355.5h2M188 355.5h11M203 355.5h10M214 355.5h3M220 355.5h6M232 355.5h1M235 355.5h1M272 355.5h1M304 355.5h1M352 355.5h1M357 355.5h1M406 355.5h1M490 355.5h1M499 355.5h1M502 355.5h1M504 355.5h2M512 355.5h10M525 355.5h18M544 355.5h2M189 356.5h15M207 356.5h3M245 356.5h1M247 356.5h2M252 356.5h1M266 356.5h1M301 356.5h1M304 356.5h1M335 356.5h2M368 356.5h1M421 356.5h1M468 356.5h2M473 356.5h1M488 356.5h1M502 356.5h6M511 356.5h4M517 356.5h4M536 356.5h2M150 357.5h4M155 357.5h3M162 357.5h8M178 357.5h1M181 357.5h12M201 357.5h1M203 357.5h12M220 357.5h1M223 357.5h4M266 357.5h1M335 357.5h1M357 357.5h1M369 357.5h1M379 357.5h1M443 357.5h1M497 357.5h18M517 357.5h10M528 357.5h8M540 357.5h4M168 358.5h2M197 358.5h10M246 358.5h3M251 358.5h1M269 358.5h1M322 358.5h1M500 358.5h1M505 358.5h5M518 358.5h11M530 358.5h3M534 358.5h2M537 358.5h9M150 359.5h4M156 359.5h6M164 359.5h7M174 359.5h6M183 359.5h5M189 359.5h2M197 359.5h19M219 359.5h1M225 359.5h5M269 359.5h1M391 359.5h1M426 359.5h1M442 359.5h1M468 359.5h1M475 359.5h1M483 359.5h2M493 359.5h1M496 359.5h3M502 359.5h1M508 359.5h2M521 359.5h18M540 359.5h1M542 359.5h4M161 360.5h1M165 360.5h4M172 360.5h1M176 360.5h2M192 360.5h2M195 360.5h1M207 360.5h3M225 360.5h8M265 360.5h2M283 360.5h1M301 360.5h1M304 360.5h1M334 360.5h1M358 360.5h1M428 360.5h1M490 360.5h1M497 360.5h4M507 360.5h6M516 360.5h7M524 360.5h8M150 361.5h3M155 361.5h15M173 361.5h1M175 361.5h9M187 361.5h2M191 361.5h7M199 361.5h3M205 361.5h3M209 361.5h5M219 361.5h2M228 361.5h3M301 361.5h1M351 361.5h1M427 361.5h1M448 361.5h1M474 361.5h1M478 361.5h1M487 361.5h1M500 361.5h10M511 361.5h2M514 361.5h3M522 361.5h11M538 361.5h8M173 362.5h3M177 362.5h4M193 362.5h34M248 362.5h1M252 362.5h2M270 362.5h1M374 362.5h1M483 362.5h1M488 362.5h1M493 362.5h1M502 362.5h4M508 362.5h7M522 362.5h8M532 362.5h6M539 362.5h2M152 363.5h2M159 363.5h9M182 363.5h15M199 363.5h1M203 363.5h1M207 363.5h6M222 363.5h2M249 363.5h1M252 363.5h1M269 363.5h1M282 363.5h1M341 363.5h1M369 363.5h1M474 363.5h1M484 363.5h1M493 363.5h3M500 363.5h2M504 363.5h3M508 363.5h6M515 363.5h5M521 363.5h2M525 363.5h3M529 363.5h3M533 363.5h1M535 363.5h11M165 364.5h12M191 364.5h1M194 364.5h1M197 364.5h1M213 364.5h8M271 364.5h1M323 364.5h1M422 364.5h1M473 364.5h1M475 364.5h1M495 364.5h1M499 364.5h3M506 364.5h4M519 364.5h7M533 364.5h1M539 364.5h7M150 365.5h9M162 365.5h5M171 365.5h6M185 365.5h6M194 365.5h2M202 365.5h3M206 365.5h11M223 365.5h1M226 365.5h4M265 365.5h2M287 365.5h1M298 365.5h1M392 365.5h1M422 365.5h1M468 365.5h1M470 365.5h1M475 365.5h1M488 365.5h1M495 365.5h3M500 365.5h1M509 365.5h9M519 365.5h4M529 365.5h11M542 365.5h3M154 366.5h3M161 366.5h3M186 366.5h3M197 366.5h6M211 366.5h1M227 366.5h5M271 366.5h1M322 366.5h1M428 366.5h1M442 366.5h1M495 366.5h1M507 366.5h4M514 366.5h1M517 366.5h2M530 366.5h3M535 366.5h2M541 366.5h5M151 367.5h7M160 367.5h10M175 367.5h3M188 367.5h5M194 367.5h14M213 367.5h1M252 367.5h1M266 367.5h1M301 367.5h1M336 367.5h1M340 367.5h1M369 367.5h1M383 367.5h1M391 367.5h1M446 367.5h1M462 367.5h1M495 367.5h1M498 367.5h2M503 367.5h4M509 367.5h8M519 367.5h6M529 367.5h17M154 368.5h6M173 368.5h1M184 368.5h3M188 368.5h2M192 368.5h3M196 368.5h13M214 368.5h2M223 368.5h2M248 368.5h1M264 368.5h2M287 368.5h1M340 368.5h1M388 368.5h1M442 368.5h1M498 368.5h28M528 368.5h5M540 368.5h3M150 369.5h1M152 369.5h4M161 369.5h1M179 369.5h2M183 369.5h5M189 369.5h3M195 369.5h3M199 369.5h10M210 369.5h1M214 369.5h3M233 369.5h1M457 369.5h1M490 369.5h1M494 369.5h16M511 369.5h9M522 369.5h3M526 369.5h7M535 369.5h1M538 369.5h2M541 369.5h1M159 370.5h1M178 370.5h2M184 370.5h3M200 370.5h1M205 370.5h5M234 370.5h1M247 370.5h1M270 370.5h2M300 370.5h1M306 370.5h1M323 370.5h2M369 370.5h1M376 370.5h1M493 370.5h1M499 370.5h10M521 370.5h8M531 370.5h3M535 370.5h11M150 371.5h5M158 371.5h35M194 371.5h6M201 371.5h5M207 371.5h9M223 371.5h1M230 371.5h2M284 371.5h1M322 371.5h1M374 371.5h1M475 371.5h1M489 371.5h1M496 371.5h3M500 371.5h1M502 371.5h4M508 371.5h15M524 371.5h20M173 372.5h1M201 372.5h4M208 372.5h2M211 372.5h1M222 372.5h6M248 372.5h1M319 372.5h1M358 372.5h1M374 372.5h1M423 372.5h1M497 372.5h4M502 372.5h1M504 372.5h10M515 372.5h10M540 372.5h4M150 373.5h6M158 373.5h7M172 373.5h15M194 373.5h6M206 373.5h4M211 373.5h1M215 373.5h2M223 373.5h1M225 373.5h1M227 373.5h1M235 373.5h1M248 373.5h1M336 373.5h1M340 373.5h1M353 373.5h2M375 373.5h1M474 373.5h1M478 373.5h1M491 373.5h1M497 373.5h1M502 373.5h23M532 373.5h3M536 373.5h10M168 374.5h1M188 374.5h4M199 374.5h7M209 374.5h7M220 374.5h9M236 374.5h1M301 374.5h1M336 374.5h1M358 374.5h1M427 374.5h1M444 374.5h1M495 374.5h8M507 374.5h3M511 374.5h4M527 374.5h2M532 374.5h1M541 374.5h1M150 375.5h5M156 375.5h1M162 375.5h6M180 375.5h1M185 375.5h13M199 375.5h3M205 375.5h3M209 375.5h2M214 375.5h4M233 375.5h1M236 375.5h1M271 375.5h1M354 375.5h1M370 375.5h1M375 375.5h1M388 375.5h1M488 375.5h1M495 375.5h6M503 375.5h7M513 375.5h5M522 375.5h2M529 375.5h5M544 375.5h2M159 376.5h1M202 376.5h3M207 376.5h3M212 376.5h1M235 376.5h1M252 376.5h2M353 376.5h1M359 376.5h1M379 376.5h1M423 376.5h1M441 376.5h1M483 376.5h2M496 376.5h6M506 376.5h4M522 376.5h3M537 376.5h1M539 376.5h1M150 377.5h6M157 377.5h7M166 377.5h3M176 377.5h11M188 377.5h19M219 377.5h5M233 377.5h1M306 377.5h1M353 377.5h1M358 377.5h1M447 377.5h1M488 377.5h1M494 377.5h2M501 377.5h1M506 377.5h2M510 377.5h30M544 377.5h2M162 378.5h1M168 378.5h3M189 378.5h3M197 378.5h1M200 378.5h2M205 378.5h3M209 378.5h3M216 378.5h1M225 378.5h1M283 378.5h1M423 378.5h1M468 378.5h1M489 378.5h1M496 378.5h7M519 378.5h3M523 378.5h13M154 379.5h8M166 379.5h7M183 379.5h21M206 379.5h3M211 379.5h2M214 379.5h1M225 379.5h4M236 379.5h1M270 379.5h1M282 379.5h1M340 379.5h1M358 379.5h1M370 379.5h1M469 379.5h1M473 379.5h1M483 379.5h1M496 379.5h4M501 379.5h7M510 379.5h5M516 379.5h20M539 379.5h7M156 380.5h2M176 380.5h1M185 380.5h4M205 380.5h1M211 380.5h2M271 380.5h1M339 380.5h1M357 380.5h1M444 380.5h1M495 380.5h4M500 380.5h1M508 380.5h4M518 380.5h5M526 380.5h2M539 380.5h2M152 381.5h4M162 381.5h7M170 381.5h2M174 381.5h4M183 381.5h3M187 381.5h4M192 381.5h12M208 381.5h7M216 381.5h2M221 381.5h4M232 381.5h2M265 381.5h1M305 381.5h1M336 381.5h1M483 381.5h1M496 381.5h1M501 381.5h5M507 381.5h1M510 381.5h2M517 381.5h8M530 381.5h7M539 381.5h2M544 381.5h1M150 382.5h1M177 382.5h5M196 382.5h5M204 382.5h5M215 382.5h1M266 382.5h1M283 382.5h1M323 382.5h2M354 382.5h1M359 382.5h1M422 382.5h1M489 382.5h1M495 382.5h3M500 382.5h7M509 382.5h3M514 382.5h1M520 382.5h8M529 382.5h6M540 382.5h3M151 383.5h10M173 383.5h2M178 383.5h1M184 383.5h6M195 383.5h2M199 383.5h2M202 383.5h2M210 383.5h2M214 383.5h1M219 383.5h2M248 383.5h1M271 383.5h1M289 383.5h1M323 383.5h1M354 383.5h1M378 383.5h1M427 383.5h2M456 383.5h1M474 383.5h1M481 383.5h1M499 383.5h1M502 383.5h12M516 383.5h1M520 383.5h3M525 383.5h6M536 383.5h6M545 383.5h1M200 384.5h6M222 384.5h3M230 384.5h2M234 384.5h1M248 384.5h1M266 384.5h1M300 384.5h1M323 384.5h1M340 384.5h1M378 384.5h1M490 384.5h1M494 384.5h2M500 384.5h5M507 384.5h2M512 384.5h4M523 384.5h3M542 384.5h4M150 385.5h2M160 385.5h1M164 385.5h2M173 385.5h7M195 385.5h3M202 385.5h3M207 385.5h7M217 385.5h5M227 385.5h2M232 385.5h1M254 385.5h1M270 385.5h1M283 385.5h1M469 385.5h1M488 385.5h1M497 385.5h1M500 385.5h3M505 385.5h2M508 385.5h5M521 385.5h2M524 385.5h15M541 385.5h5M162 386.5h6M202 386.5h3M209 386.5h4M215 386.5h2M219 386.5h3M235 386.5h1M289 386.5h1M353 386.5h1M357 386.5h1M359 386.5h1M371 386.5h1M447 386.5h1M473 386.5h1M484 386.5h1M488 386.5h1M495 386.5h6M502 386.5h1M509 386.5h2M515 386.5h1M524 386.5h2M534 386.5h9M544 386.5h2M150 387.5h2M155 387.5h3M162 387.5h3M173 387.5h10M187 387.5h11M199 387.5h19M221 387.5h1M223 387.5h1M229 387.5h3M235 387.5h1M265 387.5h1M270 387.5h1M283 387.5h1M300 387.5h1M335 387.5h1M370 387.5h2M426 387.5h1M494 387.5h3M499 387.5h1M503 387.5h15M519 387.5h4M527 387.5h8M538 387.5h1M541 387.5h5M177 388.5h1M202 388.5h1M208 388.5h11M220 388.5h2M234 388.5h1M301 388.5h1M305 388.5h1M341 388.5h1M353 388.5h1M444 388.5h1M461 388.5h1M474 388.5h1M490 388.5h1M498 388.5h2M501 388.5h17M530 388.5h8M153 389.5h1M168 389.5h1M173 389.5h4M181 389.5h1M183 389.5h3M189 389.5h9M207 389.5h1M211 389.5h2M214 389.5h5M231 389.5h2M248 389.5h1M270 389.5h2M282 389.5h2M319 389.5h1M334 389.5h1M352 389.5h1M370 389.5h2M388 389.5h1M405 389.5h1M444 389.5h1M462 389.5h1M479 389.5h1M488 389.5h2M495 389.5h2M498 389.5h10M513 389.5h1M515 389.5h2M519 389.5h7M530 389.5h2M533 389.5h4M538 389.5h8M160 390.5h7M191 390.5h1M197 390.5h1M206 390.5h6M222 390.5h1M272 390.5h1M302 390.5h1M335 390.5h2M340 390.5h1M468 390.5h1M490 390.5h1M511 390.5h1M515 390.5h2M518 390.5h2M521 390.5h1M526 390.5h3M541 390.5h2M151 391.5h5M159 391.5h3M166 391.5h3M172 391.5h1M177 391.5h7M188 391.5h3M192 391.5h6M199 391.5h6M208 391.5h4M215 391.5h1M217 391.5h1M223 391.5h1M225 391.5h1M230 391.5h2M302 391.5h1M319 391.5h2M337 391.5h1M427 391.5h1M444 391.5h1M447 391.5h1M469 391.5h1M471 391.5h1M489 391.5h1M495 391.5h1M498 391.5h10M509 391.5h8M520 391.5h13M534 391.5h5M542 391.5h4M152 392.5h2M162 392.5h7M174 392.5h4M183 392.5h4M192 392.5h8M225 392.5h5M231 392.5h3M253 392.5h2M301 392.5h1M340 392.5h1M369 392.5h1M371 392.5h1M388 392.5h1M392 392.5h1M490 392.5h1M494 392.5h3M500 392.5h8M514 392.5h7M523 392.5h8M538 392.5h1M540 392.5h6M150 393.5h18M176 393.5h2M179 393.5h3M183 393.5h13M197 393.5h3M201 393.5h1M203 393.5h9M222 393.5h2M272 393.5h1M301 393.5h1M342 393.5h1M357 393.5h1M474 393.5h1M490 393.5h1M498 393.5h5M512 393.5h3M516 393.5h9M529 393.5h7M187 394.5h1M200 394.5h1M203 394.5h3M211 394.5h3M249 394.5h1M253 394.5h1M307 394.5h1M317 394.5h1M352 394.5h1M371 394.5h1M484 394.5h1M496 394.5h2M500 394.5h5M510 394.5h5M518 394.5h6M536 394.5h5M161 395.5h6M179 395.5h1M186 395.5h3M191 395.5h13M205 395.5h10M222 395.5h2M253 395.5h1M267 395.5h1M270 395.5h1M307 395.5h1M354 395.5h1M442 395.5h1M471 395.5h1M475 395.5h1M479 395.5h1M490 395.5h2M495 395.5h6M504 395.5h5M511 395.5h11M523 395.5h14M538 395.5h3M168 396.5h2M208 396.5h1M210 396.5h6M223 396.5h3M235 396.5h2M283 396.5h1M300 396.5h2M358 396.5h1M422 396.5h1M427 396.5h1M474 396.5h1M485 396.5h1M496 396.5h1M498 396.5h11M511 396.5h4M520 396.5h1M527 396.5h3M543 396.5h3M152 397.5h1M154 397.5h2M157 397.5h14M174 397.5h15M194 397.5h1M196 397.5h9M211 397.5h8M222 397.5h3M226 397.5h7M252 397.5h1M336 397.5h1M359 397.5h1M423 397.5h1M444 397.5h1M495 397.5h2M499 397.5h4M504 397.5h3M508 397.5h1M513 397.5h3M517 397.5h4M523 397.5h2M528 397.5h4M540 397.5h2M543 397.5h3M151 398.5h4M163 398.5h5M176 398.5h1M189 398.5h8M200 398.5h5M208 398.5h5M255 398.5h1M270 398.5h1M342 398.5h1M358 398.5h1M393 398.5h1M458 398.5h1M484 398.5h1M490 398.5h1M502 398.5h2M514 398.5h3M535 398.5h4M542 398.5h1M151 399.5h4M159 399.5h5M166 399.5h9M176 399.5h5M183 399.5h12M196 399.5h3M202 399.5h7M210 399.5h1M213 399.5h3M226 399.5h1M352 399.5h1M371 399.5h1M383 399.5h1M386 399.5h1M407 399.5h1M444 399.5h1M491 399.5h1M495 399.5h3M499 399.5h9M509 399.5h13M523 399.5h17M541 399.5h5M150 400.5h5M167 400.5h2M183 400.5h1M195 400.5h8M204 400.5h3M210 400.5h4M219 400.5h1M229 400.5h3M253 400.5h1M266 400.5h1M272 400.5h1M336 400.5h2M359 400.5h1M389 400.5h1M427 400.5h1M475 400.5h1M480 400.5h1M495 400.5h7M503 400.5h5M510 400.5h1M512 400.5h1M515 400.5h1M518 400.5h1M522 400.5h1M524 400.5h2M536 400.5h3M150 401.5h5M162 401.5h2M165 401.5h3M171 401.5h3M175 401.5h4M188 401.5h5M202 401.5h14M225 401.5h2M248 401.5h1M270 401.5h1M318 401.5h1M342 401.5h1M354 401.5h1M357 401.5h1M374 401.5h2M388 401.5h1M393 401.5h1M480 401.5h1M483 401.5h1M497 401.5h13M511 401.5h12M531 401.5h11M544 401.5h2M198 402.5h1M200 402.5h2M209 402.5h3M223 402.5h2M228 402.5h1M270 402.5h1M305 402.5h1M370 402.5h1M474 402.5h2M484 402.5h1M496 402.5h1M507 402.5h14M523 402.5h5M537 402.5h4M543 402.5h3M150 403.5h5M159 403.5h13M173 403.5h2M177 403.5h4M189 403.5h3M193 403.5h6M201 403.5h9M212 403.5h2M217 403.5h7M235 403.5h1M237 403.5h1M253 403.5h1M307 403.5h1M342 403.5h1M386 403.5h1M446 403.5h1M475 403.5h1M494 403.5h4M499 403.5h2M502 403.5h10M516 403.5h12M529 403.5h2M534 403.5h3M540 403.5h6M204 404.5h4M209 404.5h3M235 404.5h1M266 404.5h1M271 404.5h1M341 404.5h2M358 404.5h2M371 404.5h1M375 404.5h1M443 404.5h1M470 404.5h1M503 404.5h7M515 404.5h2M520 404.5h3M526 404.5h2M530 404.5h7M539 404.5h7M150 405.5h1M152 405.5h6M162 405.5h2M179 405.5h1M187 405.5h13M201 405.5h1M204 405.5h8M218 405.5h8M283 405.5h1M289 405.5h1M336 405.5h1M341 405.5h1M358 405.5h1M393 405.5h1M447 405.5h1M473 405.5h1M480 405.5h1M495 405.5h1M500 405.5h2M505 405.5h16M522 405.5h2M529 405.5h11M541 405.5h5M164 406.5h1M192 406.5h5M201 406.5h9M215 406.5h2M218 406.5h3M225 406.5h2M235 406.5h1M249 406.5h1M253 406.5h1M265 406.5h2M272 406.5h1M283 406.5h1M352 406.5h1M392 406.5h1M428 406.5h1M498 406.5h7M506 406.5h13M520 406.5h7M528 406.5h3M532 406.5h8M544 406.5h1M151 407.5h2M155 407.5h3M161 407.5h8M173 407.5h2M178 407.5h4M188 407.5h22M211 407.5h1M214 407.5h1M218 407.5h2M226 407.5h6M266 407.5h1M354 407.5h1M388 407.5h1M428 407.5h1M475 407.5h1M481 407.5h1M491 407.5h1M496 407.5h1M498 407.5h3M502 407.5h2M505 407.5h2M509 407.5h2M514 407.5h14M529 407.5h17M187 408.5h8M199 408.5h4M224 408.5h2M235 408.5h1M249 408.5h1M266 408.5h1M305 408.5h1M336 408.5h1M340 408.5h1M392 408.5h1M483 408.5h1M505 408.5h9M537 408.5h3M543 408.5h1M150 409.5h5M156 409.5h5M173 409.5h14M188 409.5h5M194 409.5h2M197 409.5h4M204 409.5h7M216 409.5h1M222 409.5h2M305 409.5h1M477 409.5h1M488 409.5h1M498 409.5h1M500 409.5h4M505 409.5h4M511 409.5h4M518 409.5h6M533 409.5h12M154 410.5h1M193 410.5h4M218 410.5h2M228 410.5h4M248 410.5h2M266 410.5h1M342 410.5h1M359 410.5h1M423 410.5h1M443 410.5h1M475 410.5h1M481 410.5h1M488 410.5h1M495 410.5h3M500 410.5h1M503 410.5h4M508 410.5h1M510 410.5h7M518 410.5h2M529 410.5h4M538 410.5h2M543 410.5h3M150 411.5h2M166 411.5h1M169 411.5h9M179 411.5h2M184 411.5h2M194 411.5h6M209 411.5h11M225 411.5h2M352 411.5h1M428 411.5h1M449 411.5h1M471 411.5h1M475 411.5h1M491 411.5h1M497 411.5h4M502 411.5h23M529 411.5h12M202 412.5h5M218 412.5h2M253 412.5h1M271 412.5h1M336 412.5h1M371 412.5h1M470 412.5h1M480 412.5h1M489 412.5h1M495 412.5h1M502 412.5h1M504 412.5h2M507 412.5h4M514 412.5h4M521 412.5h7M542 412.5h3M153 413.5h4M160 413.5h9M174 413.5h6M185 413.5h13M199 413.5h9M210 413.5h2M214 413.5h1M223 413.5h5M230 413.5h1M249 413.5h1M266 413.5h1M305 413.5h1M343 413.5h1M353 413.5h1M449 413.5h1M483 413.5h1M489 413.5h2M494 413.5h1M501 413.5h1M506 413.5h4M516 413.5h5M523 413.5h4M530 413.5h11M545 413.5h1M152 414.5h3M175 414.5h1M187 414.5h14M205 414.5h2M213 414.5h3M247 414.5h2M337 414.5h1M353 414.5h2M388 414.5h1M421 414.5h1M423 414.5h1M496 414.5h1M498 414.5h1M500 414.5h1M505 414.5h4M510 414.5h16M533 414.5h4M538 414.5h1M542 414.5h1M544 414.5h2M152 415.5h6M160 415.5h2M164 415.5h5M174 415.5h4M182 415.5h2M190 415.5h11M205 415.5h3M214 415.5h5M220 415.5h2M225 415.5h1M229 415.5h1M254 415.5h1M306 415.5h1M354 415.5h1M357 415.5h2M424 415.5h1M496 415.5h3M500 415.5h19M521 415.5h2M524 415.5h8M538 415.5h6M151 416.5h3M161 416.5h1M185 416.5h3M192 416.5h5M204 416.5h1M209 416.5h4M247 416.5h1M249 416.5h1M253 416.5h1M267 416.5h1M354 416.5h1M388 416.5h1M422 416.5h1M488 416.5h1M491 416.5h1M495 416.5h1M497 416.5h5M505 416.5h1M507 416.5h2M518 416.5h3M533 416.5h5M539 416.5h5M150 417.5h4M178 417.5h6M186 417.5h4M191 417.5h1M194 417.5h5M203 417.5h2M208 417.5h4M215 417.5h6M222 417.5h1M248 417.5h1M265 417.5h1M287 417.5h1M320 417.5h1M341 417.5h1M358 417.5h1M392 417.5h1M427 417.5h1M450 417.5h1M457 417.5h1M476 417.5h1M495 417.5h2M500 417.5h8M510 417.5h3M514 417.5h7M527 417.5h1M530 417.5h2M535 417.5h6M544 417.5h2M177 418.5h3M183 418.5h6M191 418.5h2M197 418.5h9M208 418.5h1M222 418.5h3M249 418.5h1M267 418.5h1M270 418.5h1M325 418.5h1M335 418.5h1M379 418.5h1M388 418.5h1M471 418.5h1M489 418.5h1M501 418.5h7M509 418.5h2M513 418.5h1M518 418.5h4M527 418.5h5M540 418.5h6M152 419.5h1M155 419.5h2M160 419.5h5M167 419.5h1M181 419.5h8M190 419.5h1M197 419.5h1M208 419.5h1M216 419.5h1M222 419.5h1M230 419.5h1M236 419.5h1M248 419.5h1M319 419.5h1M341 419.5h1M427 419.5h1M444 419.5h1M470 419.5h1M475 419.5h1M488 419.5h1M497 419.5h7M505 419.5h25M543 419.5h3M196 420.5h3M202 420.5h1M204 420.5h1M226 420.5h4M272 420.5h1M359 420.5h1M393 420.5h2M449 420.5h1M471 420.5h1M496 420.5h4M502 420.5h6M513 420.5h8M523 420.5h6M540 420.5h6M164 421.5h6M174 421.5h15M190 421.5h5M196 421.5h5M206 421.5h2M215 421.5h3M225 421.5h2M252 421.5h1M254 421.5h1M271 421.5h1M357 421.5h1M376 421.5h1M384 421.5h1M423 421.5h1M448 421.5h1M489 421.5h1M496 421.5h13M512 421.5h18M534 421.5h12M187 422.5h1M191 422.5h2M196 422.5h2M199 422.5h9M232 422.5h1M255 422.5h1M288 422.5h1M319 422.5h1M341 422.5h2M386 422.5h1M471 422.5h1M490 422.5h1M496 422.5h5M503 422.5h5M516 422.5h6M523 422.5h1M529 422.5h2M532 422.5h1M540 422.5h6M150 423.5h4M157 423.5h10M174 423.5h6M181 423.5h4M192 423.5h19M214 423.5h1M219 423.5h3M226 423.5h1M237 423.5h1M254 423.5h1M265 423.5h1M301 423.5h1M308 423.5h1M320 423.5h1M359 423.5h1M495 423.5h3M508 423.5h3M512 423.5h16M530 423.5h10M541 423.5h5M186 424.5h6M199 424.5h1M202 424.5h2M210 424.5h1M217 424.5h1M220 424.5h1M222 424.5h4M271 424.5h1M325 424.5h1M352 424.5h1M375 424.5h1M394 424.5h1M407 424.5h1M444 424.5h1M475 424.5h1M489 424.5h3M509 424.5h2M513 424.5h12M530 424.5h6M150 425.5h2M153 425.5h1M167 425.5h12M181 425.5h2M191 425.5h10M202 425.5h7M226 425.5h7M254 425.5h1M266 425.5h1M270 425.5h1M357 425.5h1M360 425.5h1M424 425.5h1M444 425.5h1M449 425.5h1M472 425.5h1M477 425.5h1M488 425.5h1M491 425.5h1M496 425.5h1M501 425.5h2M504 425.5h8M514 425.5h9M527 425.5h1M529 425.5h7M537 425.5h5M543 425.5h3M150 426.5h2M163 426.5h1M166 426.5h3M176 426.5h2M185 426.5h3M192 426.5h1M199 426.5h1M216 426.5h4M222 426.5h2M252 426.5h1M270 426.5h1M318 426.5h1M353 426.5h1M443 426.5h1M501 426.5h5M507 426.5h2M519 426.5h5M531 426.5h2M534 426.5h1M538 426.5h1M540 426.5h3M544 426.5h2M152 427.5h2M156 427.5h7M172 427.5h7M186 427.5h4M191 427.5h11M203 427.5h1M205 427.5h3M210 427.5h7M225 427.5h2M270 427.5h1M336 427.5h1M338 427.5h1M353 427.5h1M376 427.5h1M406 427.5h1M443 427.5h1M485 427.5h1M489 427.5h1M498 427.5h1M500 427.5h6M507 427.5h1M509 427.5h6M526 427.5h2M529 427.5h7M544 427.5h2M171 428.5h5M191 428.5h1M196 428.5h1M198 428.5h2M208 428.5h4M248 428.5h1M285 428.5h1M288 428.5h1M338 428.5h1M341 428.5h1M445 428.5h1M483 428.5h1M491 428.5h1M496 428.5h5M502 428.5h1M506 428.5h3M517 428.5h2M520 428.5h5M527 428.5h1M538 428.5h1M540 428.5h2M150 429.5h6M161 429.5h6M184 429.5h14M200 429.5h3M206 429.5h7M219 429.5h5M233 429.5h1M236 429.5h1M254 429.5h1M265 429.5h1M271 429.5h1M302 429.5h1M306 429.5h1M449 429.5h1M495 429.5h1M502 429.5h1M504 429.5h6M512 429.5h3M516 429.5h10M530 429.5h13M545 429.5h1M163 430.5h1M190 430.5h1M194 430.5h1M196 430.5h1M203 430.5h3M208 430.5h1M217 430.5h3M221 430.5h1M265 430.5h1M267 430.5h1M271 430.5h1M336 430.5h1M428 430.5h1M458 430.5h1M498 430.5h10M510 430.5h16M528 430.5h7M541 430.5h5M163 431.5h5M176 431.5h6M184 431.5h6M191 431.5h7M199 431.5h17M265 431.5h1M285 431.5h1M343 431.5h1M375 431.5h1M383 431.5h1M490 431.5h1M499 431.5h6M506 431.5h2M509 431.5h2M512 431.5h8M523 431.5h2M526 431.5h9M536 431.5h8M150 432.5h1M156 432.5h1M188 432.5h7M198 432.5h3M216 432.5h4M227 432.5h8M272 432.5h1M283 432.5h1M289 432.5h1M338 432.5h1M359 432.5h1M392 432.5h1M412 432.5h1M488 432.5h1M491 432.5h1M496 432.5h6M504 432.5h2M507 432.5h1M518 432.5h5M535 432.5h1M537 432.5h4M152 433.5h16M170 433.5h2M174 433.5h5M183 433.5h3M190 433.5h2M193 433.5h1M197 433.5h1M199 433.5h3M207 433.5h1M211 433.5h4M230 433.5h1M266 433.5h1M283 433.5h1M289 433.5h1M307 433.5h1M337 433.5h1M343 433.5h1M370 433.5h1M480 433.5h1M494 433.5h1M496 433.5h4M506 433.5h7M518 433.5h12M533 433.5h9M161 434.5h1M175 434.5h1M194 434.5h4M208 434.5h4M214 434.5h2M217 434.5h3M223 434.5h1M233 434.5h2M236 434.5h1M253 434.5h1M284 434.5h1M299 434.5h1M307 434.5h1M337 434.5h1M354 434.5h1M371 434.5h1M376 434.5h1M481 434.5h1M485 434.5h1M489 434.5h1M491 434.5h1M496 434.5h1M498 434.5h6M505 434.5h2M512 434.5h9M535 434.5h2M150 435.5h3M157 435.5h10M168 435.5h4M173 435.5h2M184 435.5h6M194 435.5h6M207 435.5h2M212 435.5h1M214 435.5h4M222 435.5h2M225 435.5h6M249 435.5h1M266 435.5h1M283 435.5h1M341 435.5h1M357 435.5h1M376 435.5h1M475 435.5h1M489 435.5h2M497 435.5h8M510 435.5h11M526 435.5h20M159 436.5h6M191 436.5h2M209 436.5h3M214 436.5h1M216 436.5h2M231 436.5h4M267 436.5h1M285 436.5h1M341 436.5h1M360 436.5h1M370 436.5h1M372 436.5h1M392 436.5h2M424 436.5h1M448 436.5h1M474 436.5h1M491 436.5h1M495 436.5h12M520 436.5h5M537 436.5h4M150 437.5h7M162 437.5h11M174 437.5h14M192 437.5h6M199 437.5h3M211 437.5h5M217 437.5h6M265 437.5h1M267 437.5h1M284 437.5h1M301 437.5h1M341 437.5h1M377 437.5h1M389 437.5h1M471 437.5h2M476 437.5h1M491 437.5h1M496 437.5h4M501 437.5h2M505 437.5h23M529 437.5h3M534 437.5h1M537 437.5h6M544 437.5h2M154 438.5h2M168 438.5h1M187 438.5h2M283 438.5h1M288 438.5h1M335 438.5h1M353 438.5h2M372 438.5h1M429 438.5h1M479 438.5h1M485 438.5h1M494 438.5h1M498 438.5h20M528 438.5h8M537 438.5h8M159 439.5h1M161 439.5h19M181 439.5h9M191 439.5h10M203 439.5h5M219 439.5h8M237 439.5h1M253 439.5h1M271 439.5h1M284 439.5h1M337 439.5h2M341 439.5h1M359 439.5h1M371 439.5h1M428 439.5h1M485 439.5h1M490 439.5h1M499 439.5h14M514 439.5h1M517 439.5h3M521 439.5h7M532 439.5h11M545 439.5h1M204 440.5h1M211 440.5h5M220 440.5h1M270 440.5h1M323 440.5h1M338 440.5h1M357 440.5h1M370 440.5h1M395 440.5h1M471 440.5h1M485 440.5h1M491 440.5h1M494 440.5h3M498 440.5h7M506 440.5h2M509 440.5h3M516 440.5h8M525 440.5h2M531 440.5h2M535 440.5h4M156 441.5h5M167 441.5h5M179 441.5h6M192 441.5h6M204 441.5h6M212 441.5h1M218 441.5h4M223 441.5h12M266 441.5h2M336 441.5h1M341 441.5h1M352 441.5h1M427 441.5h1M490 441.5h1M497 441.5h2M502 441.5h8M512 441.5h22M538 441.5h7M165 442.5h1M188 442.5h9M222 442.5h2M249 442.5h1M270 442.5h1M341 442.5h1M353 442.5h1M429 442.5h1M457 442.5h1M502 442.5h17M536 442.5h3M150 443.5h4M155 443.5h17M175 443.5h1M178 443.5h1M180 443.5h1M198 443.5h1M200 443.5h2M204 443.5h2M207 443.5h7M216 443.5h1M232 443.5h3M301 443.5h1M306 443.5h1M354 443.5h1M412 443.5h1M442 443.5h1M479 443.5h2M496 443.5h2M504 443.5h2M509 443.5h9M519 443.5h3M523 443.5h1M543 443.5h3M189 444.5h12M203 444.5h9M214 444.5h4M219 444.5h1M253 444.5h1M338 444.5h1M393 444.5h1M412 444.5h1M475 444.5h2M491 444.5h1M497 444.5h3M505 444.5h7M514 444.5h5M534 444.5h2M154 445.5h16M173 445.5h4M184 445.5h8M193 445.5h4M198 445.5h3M203 445.5h6M210 445.5h3M215 445.5h5M222 445.5h4M230 445.5h1M266 445.5h1M285 445.5h1M303 445.5h1M320 445.5h1M337 445.5h1M388 445.5h2M475 445.5h1M491 445.5h1M500 445.5h5M508 445.5h1M512 445.5h12M527 445.5h5M533 445.5h10M545 445.5h1M150 446.5h4M161 446.5h3M176 446.5h1M187 446.5h4M196 446.5h1M199 446.5h6M210 446.5h1M214 446.5h1M216 446.5h3M223 446.5h3M235 446.5h1M249 446.5h1M303 446.5h1M336 446.5h1M338 446.5h1M475 446.5h1M498 446.5h7M506 446.5h1M508 446.5h3M514 446.5h2M517 446.5h21M542 446.5h2M150 447.5h3M154 447.5h6M163 447.5h2M168 447.5h14M184 447.5h3M189 447.5h1M199 447.5h7M208 447.5h5M214 447.5h2M221 447.5h1M223 447.5h2M227 447.5h1M233 447.5h2M266 447.5h1M337 447.5h1M424 447.5h1M449 447.5h1M501 447.5h1M513 447.5h2M516 447.5h9M527 447.5h6M536 447.5h2M540 447.5h1M544 447.5h2M194 448.5h10M206 448.5h3M210 448.5h5M218 448.5h1M220 448.5h6M248 448.5h1M271 448.5h1M283 448.5h1M325 448.5h1M357 448.5h1M372 448.5h1M376 448.5h1M389 448.5h1M490 448.5h1M499 448.5h2M503 448.5h7M511 448.5h2M514 448.5h2M522 448.5h1M524 448.5h7M536 448.5h6M156 449.5h2M173 449.5h3M177 449.5h2M182 449.5h2M185 449.5h2M190 449.5h3M200 449.5h9M252 449.5h2M265 449.5h1M320 449.5h1M325 449.5h1M428 449.5h1M449 449.5h1M492 449.5h1M497 449.5h3M503 449.5h1M505 449.5h2M508 449.5h8M519 449.5h5M525 449.5h17M543 449.5h3M165 450.5h2M178 450.5h1M195 450.5h3M199 450.5h6M217 450.5h2M335 450.5h1M338 450.5h1M341 450.5h1M445 450.5h1M448 450.5h1M471 450.5h2M476 450.5h1M481 450.5h1M486 450.5h1M489 450.5h1M491 450.5h1M500 450.5h1M502 450.5h1M506 450.5h3M512 450.5h11M527 450.5h1M531 450.5h2M545 450.5h1M150 451.5h7M163 451.5h7M176 451.5h5M186 451.5h3M191 451.5h5M198 451.5h1M203 451.5h4M209 451.5h6M216 451.5h3M226 451.5h1M252 451.5h1M303 451.5h1M308 451.5h1M444 451.5h2M471 451.5h1M489 451.5h1M497 451.5h2M501 451.5h5M509 451.5h2M513 451.5h10M530 451.5h3M534 451.5h1M536 451.5h7M201 452.5h1M206 452.5h1M216 452.5h1M220 452.5h1M223 452.5h4M249 452.5h1M253 452.5h1M266 452.5h2M341 452.5h1M353 452.5h1M372 452.5h1M388 452.5h2M444 452.5h1M449 452.5h1M486 452.5h1M495 452.5h1M497 452.5h4M504 452.5h3M514 452.5h1M530 452.5h3M534 452.5h4M543 452.5h3M153 453.5h4M163 453.5h7M176 453.5h3M182 453.5h19M204 453.5h9M220 453.5h8M234 453.5h1M255 453.5h1M266 453.5h1M271 453.5h1M341 453.5h1M384 453.5h1M498 453.5h8M509 453.5h4M514 453.5h16M532 453.5h14M169 454.5h1M194 454.5h2M202 454.5h5M210 454.5h3M226 454.5h2M370 454.5h1M429 454.5h1M476 454.5h1M479 454.5h1M486 454.5h1M496 454.5h14M512 454.5h2M515 454.5h3M530 454.5h1M536 454.5h3M543 454.5h1M150 455.5h1M154 455.5h3M162 455.5h4M167 455.5h2M174 455.5h3M180 455.5h3M190 455.5h6M197 455.5h3M201 455.5h7M209 455.5h2M213 455.5h1M215 455.5h3M223 455.5h4M237 455.5h1M254 455.5h1M271 455.5h1M285 455.5h1M293 455.5h1M324 455.5h1M358 455.5h2M481 455.5h1M497 455.5h1M500 455.5h8M509 455.5h9M529 455.5h6M536 455.5h7M544 455.5h2M167 456.5h1M186 456.5h1M197 456.5h1M200 456.5h3M206 456.5h1M208 456.5h1M226 456.5h4M253 456.5h2M294 456.5h1M302 456.5h2M307 456.5h1M337 456.5h1M341 456.5h1M357 456.5h1M388 456.5h1M443 456.5h1M449 456.5h1M489 456.5h2M500 456.5h3M504 456.5h1M506 456.5h1M519 456.5h2M526 456.5h1M531 456.5h6M541 456.5h1M150 457.5h8M160 457.5h1M167 457.5h2M172 457.5h8M185 457.5h2M188 457.5h1M194 457.5h10M205 457.5h8M219 457.5h2M222 457.5h4M266 457.5h1M271 457.5h1M301 457.5h1M461 457.5h1M480 457.5h1M489 457.5h1M492 457.5h1M499 457.5h7M515 457.5h1M521 457.5h2M525 457.5h10M537 457.5h5M543 457.5h2M150 458.5h2M178 458.5h2M195 458.5h3M200 458.5h5M206 458.5h7M214 458.5h3M227 458.5h1M270 458.5h1M289 458.5h1M336 458.5h1M357 458.5h1M428 458.5h1M445 458.5h1M448 458.5h1M501 458.5h7M514 458.5h7M532 458.5h4M544 458.5h1M150 459.5h1M152 459.5h3M156 459.5h1M158 459.5h12M176 459.5h4M183 459.5h7M193 459.5h14M208 459.5h6M228 459.5h6M324 459.5h1M427 459.5h1M443 459.5h1M463 459.5h1M485 459.5h1M496 459.5h3M500 459.5h2M503 459.5h20M524 459.5h5M538 459.5h8M184 460.5h3M197 460.5h3M211 460.5h2M216 460.5h7M236 460.5h1M249 460.5h1M267 460.5h1M300 460.5h1M423 460.5h1M445 460.5h1M489 460.5h1M495 460.5h4M501 460.5h7M509 460.5h3M515 460.5h3M521 460.5h9M531 460.5h1M538 460.5h5M150 461.5h1M152 461.5h6M164 461.5h11M176 461.5h10M190 461.5h12M203 461.5h1M206 461.5h9M231 461.5h1M266 461.5h2M271 461.5h1M307 461.5h1M320 461.5h1M343 461.5h1M356 461.5h1M428 461.5h2M476 461.5h2M481 461.5h1M490 461.5h2M497 461.5h13M511 461.5h5M518 461.5h9M528 461.5h5M535 461.5h11M191 462.5h4M204 462.5h1M213 462.5h2M216 462.5h4M254 462.5h1M270 462.5h1M337 462.5h1M355 462.5h1M359 462.5h1M422 462.5h1M477 462.5h1M491 462.5h1M497 462.5h5M504 462.5h6M511 462.5h6M150 463.5h2M157 463.5h4M170 463.5h2M175 463.5h8M188 463.5h2M193 463.5h3M205 463.5h2M210 463.5h2M215 463.5h4M222 463.5h6M249 463.5h1M254 463.5h1M270 463.5h1M325 463.5h1M337 463.5h1M355 463.5h1M360 463.5h1M443 463.5h1M491 463.5h1M499 463.5h8M512 463.5h33M185 464.5h4M199 464.5h1M207 464.5h4M216 464.5h2M235 464.5h1M271 464.5h1M294 464.5h1M319 464.5h1M336 464.5h1M376 464.5h1M407 464.5h1M443 464.5h1M471 464.5h1M475 464.5h1M495 464.5h2M510 464.5h11M524 464.5h2M528 464.5h3M544 464.5h2M150 465.5h5M157 465.5h1M161 465.5h18M182 465.5h3M186 465.5h5M193 465.5h8M202 465.5h8M211 465.5h3M217 465.5h2M224 465.5h3M229 465.5h4M250 465.5h1M254 465.5h1M267 465.5h1M303 465.5h1M393 465.5h1M447 465.5h1M497 465.5h4M502 465.5h5M510 465.5h21M538 465.5h1M542 465.5h4M161 466.5h8M177 466.5h1M187 466.5h6M199 466.5h2M208 466.5h3M216 466.5h6M227 466.5h3M285 466.5h1M290 466.5h1M307 466.5h1M343 466.5h1M371 466.5h1M429 466.5h2M462 466.5h1M471 466.5h1M475 466.5h1M484 466.5h1M490 466.5h1M499 466.5h1M503 466.5h1M506 466.5h2M513 466.5h1M515 466.5h1M521 466.5h3M533 466.5h7M163 467.5h5M169 467.5h5M184 467.5h1M188 467.5h7M209 467.5h6M221 467.5h4M255 467.5h1M266 467.5h1M284 467.5h2M302 467.5h1M337 467.5h1M355 467.5h1M360 467.5h1M376 467.5h1M423 467.5h1M443 467.5h1M446 467.5h1M497 467.5h23M533 467.5h3M537 467.5h9M153 468.5h1M188 468.5h1M193 468.5h4M223 468.5h3M228 468.5h7M266 468.5h1M270 468.5h1M284 468.5h2M342 468.5h1M356 468.5h1M393 468.5h1M424 468.5h1M444 468.5h1M447 468.5h1M492 468.5h1M507 468.5h9M520 468.5h3M540 468.5h1M150 469.5h5M157 469.5h2M160 469.5h5M167 469.5h12M180 469.5h1M184 469.5h6M192 469.5h4M197 469.5h1M199 469.5h6M206 469.5h4M211 469.5h4M216 469.5h6M237 469.5h1M266 469.5h1M302 469.5h1M320 469.5h1M337 469.5h1M341 469.5h1M383 469.5h1M425 469.5h1M471 469.5h1M482 469.5h1M489 469.5h1M499 469.5h16M519 469.5h1M521 469.5h8M530 469.5h1M533 469.5h11M163 470.5h1M169 470.5h1M191 470.5h1M193 470.5h2M198 470.5h1M212 470.5h1M216 470.5h1M226 470.5h6M236 470.5h1M249 470.5h1M254 470.5h2M325 470.5h1M361 470.5h1M375 470.5h1M471 470.5h1M476 470.5h2M491 470.5h1M500 470.5h11M516 470.5h1M521 470.5h3M526 470.5h2M541 470.5h5M150 471.5h4M155 471.5h1M158 471.5h9M170 471.5h9M193 471.5h1M199 471.5h7M209 471.5h1M213 471.5h1M219 471.5h3M226 471.5h2M229 471.5h2M234 471.5h1M250 471.5h1M272 471.5h1M294 471.5h1M360 471.5h1M477 471.5h1M497 471.5h1M502 471.5h4M507 471.5h3M511 471.5h5M517 471.5h11M530 471.5h16M152 472.5h6M186 472.5h2M190 472.5h6M197 472.5h1M199 472.5h7M212 472.5h4M217 472.5h1M249 472.5h1M307 472.5h1M338 472.5h1M354 472.5h1M389 472.5h1M393 472.5h1M423 472.5h2M445 472.5h1M448 472.5h1M486 472.5h1M492 472.5h1M501 472.5h2M505 472.5h2M509 472.5h5M517 472.5h1M521 472.5h5M528 472.5h11M544 472.5h2M157 473.5h16M179 473.5h15M203 473.5h10M216 473.5h7M227 473.5h3M272 473.5h1M338 473.5h1M355 473.5h1M371 473.5h1M388 473.5h1M471 473.5h1M476 473.5h1M490 473.5h1M499 473.5h2M503 473.5h9M517 473.5h7M525 473.5h10M537 473.5h9M174 474.5h3M187 474.5h1M190 474.5h4M204 474.5h10M217 474.5h3M306 474.5h1M336 474.5h1M338 474.5h1M342 474.5h1M360 474.5h1M449 474.5h1M477 474.5h1M496 474.5h3M509 474.5h1M515 474.5h2M520 474.5h6M545 474.5h1M150 475.5h5M156 475.5h3M160 475.5h1M163 475.5h1M166 475.5h18M190 475.5h12M203 475.5h9M217 475.5h2M220 475.5h3M225 475.5h6M234 475.5h1M250 475.5h1M267 475.5h1M324 475.5h1M413 475.5h1M490 475.5h1M497 475.5h11M509 475.5h2M512 475.5h17M532 475.5h6M539 475.5h7M189 476.5h1M199 476.5h4M206 476.5h3M212 476.5h3M217 476.5h1M267 476.5h1M291 476.5h1M320 476.5h2M342 476.5h1M359 476.5h1M485 476.5h1M492 476.5h1M497 476.5h13M513 476.5h4M518 476.5h1M520 476.5h2M526 476.5h2M529 476.5h4M537 476.5h4M543 476.5h1M150 477.5h5M156 477.5h4M174 477.5h5M190 477.5h8M203 477.5h3M210 477.5h4M216 477.5h2M221 477.5h2M271 477.5h2M337 477.5h1M423 477.5h1M486 477.5h1M491 477.5h1M496 477.5h2M499 477.5h2M505 477.5h3M512 477.5h1M515 477.5h27M544 477.5h2M150 478.5h1M161 478.5h7M192 478.5h3M201 478.5h12M218 478.5h1M221 478.5h5M265 478.5h1M270 478.5h2M301 478.5h1M337 478.5h1M355 478.5h1M372 478.5h1M389 478.5h1M407 478.5h1M425 478.5h1M449 478.5h1M458 478.5h1M476 478.5h1M497 478.5h2M502 478.5h11M519 478.5h9M151 479.5h3M162 479.5h7M176 479.5h2M179 479.5h23M206 479.5h8M215 479.5h1M217 479.5h1M229 479.5h1M251 479.5h1M266 479.5h1M271 479.5h1M290 479.5h1M307 479.5h1M320 479.5h1M337 479.5h1M361 479.5h1M376 479.5h1M423 479.5h1M490 479.5h2M502 479.5h2M507 479.5h1M509 479.5h4M516 479.5h6M523 479.5h2M528 479.5h5M539 479.5h7M155 480.5h4M163 480.5h2M203 480.5h2M208 480.5h8M236 480.5h1M272 480.5h1M302 480.5h1M355 480.5h1M361 480.5h1M376 480.5h1M441 480.5h1M450 480.5h1M495 480.5h1M497 480.5h1M505 480.5h2M511 480.5h5M519 480.5h8M529 480.5h6M544 480.5h2M156 481.5h10M167 481.5h2M171 481.5h10M182 481.5h4M187 481.5h20M209 481.5h10M224 481.5h1M230 481.5h1M266 481.5h1M270 481.5h1M284 481.5h1M290 481.5h1M325 481.5h1M335 481.5h1M372 481.5h1M376 481.5h1M389 481.5h1M444 481.5h1M498 481.5h5M508 481.5h1M510 481.5h10M528 481.5h10M543 481.5h3M175 482.5h4M194 482.5h2M197 482.5h2M204 482.5h1M212 482.5h2M248 482.5h1M251 482.5h1M267 482.5h1M284 482.5h1M298 482.5h1M302 482.5h1M320 482.5h1M337 482.5h2M356 482.5h1M360 482.5h1M478 482.5h1M496 482.5h2M502 482.5h2M505 482.5h6M512 482.5h8M536 482.5h1M542 482.5h1M150 483.5h9M165 483.5h10M177 483.5h9M191 483.5h6M199 483.5h4M204 483.5h5M217 483.5h3M225 483.5h1M227 483.5h3M250 483.5h1M256 483.5h1M267 483.5h1M289 483.5h1M325 483.5h1M360 483.5h1M447 483.5h1M497 483.5h3M501 483.5h3M505 483.5h1M507 483.5h7M519 483.5h1M525 483.5h1M531 483.5h3M535 483.5h7M154 484.5h6M191 484.5h3M201 484.5h1M203 484.5h3M213 484.5h1M255 484.5h1M272 484.5h1M288 484.5h1M354 484.5h1M394 484.5h1M424 484.5h1M471 484.5h1M476 484.5h1M491 484.5h1M503 484.5h1M505 484.5h6M514 484.5h3M518 484.5h2M522 484.5h9M542 484.5h2M150 485.5h2M155 485.5h3M162 485.5h6M190 485.5h3M195 485.5h8M204 485.5h4M212 485.5h1M218 485.5h3M222 485.5h3M251 485.5h1M267 485.5h2M342 485.5h2M356 485.5h1M377 485.5h1M395 485.5h1M450 485.5h1M496 485.5h1M501 485.5h3M506 485.5h8M515 485.5h19M535 485.5h4M541 485.5h5M186 486.5h3M201 486.5h1M207 486.5h4M225 486.5h1M238 486.5h1M250 486.5h1M254 486.5h1M265 486.5h3M289 486.5h1M377 486.5h1M445 486.5h1M450 486.5h1M477 486.5h1M491 486.5h1M496 486.5h7M505 486.5h1M510 486.5h5M518 486.5h3M522 486.5h4M535 486.5h4M545 486.5h1M150 487.5h11M166 487.5h2M172 487.5h18M191 487.5h1M196 487.5h5M202 487.5h3M207 487.5h3M211 487.5h2M226 487.5h1M271 487.5h1M284 487.5h1M355 487.5h1M495 487.5h1M498 487.5h9M508 487.5h10M520 487.5h3M524 487.5h19M197 488.5h6M204 488.5h2M223 488.5h2M226 488.5h4M288 488.5h1M338 488.5h1M356 488.5h1M370 488.5h1M378 488.5h1M380 488.5h1M395 488.5h1M430 488.5h1M449 488.5h1M492 488.5h1M501 488.5h4M509 488.5h2M512 488.5h5M519 488.5h4M528 488.5h1M532 488.5h2M542 488.5h3M150 489.5h5M160 489.5h3M167 489.5h2M185 489.5h8M199 489.5h10M267 489.5h1M284 489.5h1M342 489.5h1M355 489.5h1M372 489.5h1M393 489.5h1M450 489.5h1M470 489.5h1M507 489.5h5M514 489.5h5M528 489.5h15M545 489.5h1M166 490.5h1M189 490.5h1M192 490.5h5M201 490.5h5M219 490.5h1M223 490.5h5M324 490.5h1M338 490.5h1M359 490.5h2M376 490.5h1M445 490.5h1M495 490.5h1M500 490.5h4M512 490.5h1M516 490.5h4M529 490.5h2M537 490.5h3M541 490.5h5M157 491.5h17M183 491.5h10M194 491.5h4M199 491.5h13M218 491.5h1M220 491.5h2M223 491.5h3M228 491.5h1M235 491.5h1M250 491.5h1M255 491.5h1M325 491.5h1M338 491.5h1M342 491.5h1M449 491.5h1M476 491.5h1M486 491.5h1M499 491.5h1M502 491.5h8M513 491.5h9M524 491.5h4M544 491.5h2M154 492.5h1M166 492.5h1M169 492.5h1M192 492.5h4M211 492.5h4M236 492.5h1M255 492.5h1M271 492.5h1M308 492.5h1M355 492.5h1M373 492.5h1M451 492.5h1M477 492.5h2M496 492.5h2M502 492.5h1M504 492.5h1M510 492.5h1M514 492.5h3M522 492.5h2M525 492.5h1M530 492.5h1M534 492.5h6M150 493.5h15M168 493.5h14M185 493.5h2M189 493.5h2M194 493.5h9M206 493.5h4M213 493.5h1M223 493.5h3M251 493.5h1M254 493.5h1M256 493.5h1M268 493.5h1M321 493.5h1M339 493.5h1M343 493.5h1M451 493.5h1M476 493.5h1M481 493.5h1M486 493.5h1M491 493.5h1M497 493.5h5M503 493.5h2M507 493.5h8M516 493.5h5M524 493.5h8M533 493.5h5M539 493.5h5M165 494.5h3M185 494.5h2M193 494.5h6M267 494.5h1M273 494.5h1M303 494.5h1M337 494.5h1M343 494.5h1M443 494.5h1M490 494.5h1M496 494.5h5M502 494.5h2M505 494.5h1M508 494.5h2M513 494.5h5M519 494.5h6M527 494.5h2M532 494.5h4M539 494.5h7M151 495.5h3M156 495.5h5M162 495.5h10M184 495.5h2M193 495.5h3M200 495.5h4M212 495.5h3M228 495.5h6M271 495.5h1M326 495.5h1M339 495.5h1M361 495.5h1M424 495.5h1M490 495.5h2M499 495.5h13M513 495.5h6M521 495.5h7M533 495.5h1M538 495.5h8M192 496.5h7M200 496.5h3M205 496.5h2M212 496.5h1M307 496.5h1M355 496.5h1M388 496.5h1M482 496.5h1M492 496.5h1M496 496.5h1M498 496.5h4M504 496.5h1M507 496.5h2M510 496.5h1M512 496.5h5M523 496.5h2M527 496.5h3M532 496.5h4M537 496.5h2M540 496.5h1M543 496.5h3M153 497.5h10M168 497.5h5M174 497.5h1M179 497.5h10M198 497.5h3M205 497.5h2M209 497.5h2M216 497.5h2M222 497.5h3M266 497.5h1M356 497.5h1M444 497.5h1M482 497.5h1M499 497.5h3M506 497.5h6M517 497.5h2M521 497.5h6M529 497.5h10M540 497.5h6M150 498.5h6M184 498.5h6M193 498.5h4M203 498.5h4M211 498.5h3M219 498.5h1M227 498.5h4M285 498.5h1M320 498.5h1M342 498.5h1M359 498.5h1M371 498.5h1M394 498.5h1M445 498.5h1M496 498.5h5M502 498.5h5M509 498.5h1M520 498.5h5M527 498.5h4M154 499.5h3M159 499.5h1M161 499.5h1M163 499.5h2M169 499.5h3M173 499.5h1M182 499.5h23M209 499.5h5M225 499.5h1M234 499.5h2M250 499.5h1M295 499.5h1M338 499.5h1M356 499.5h1M360 499.5h2M446 499.5h1M476 499.5h1M480 499.5h1M497 499.5h10M509 499.5h6M518 499.5h5M524 499.5h9M534 499.5h3M540 499.5h6M166 500.5h5M187 500.5h6M204 500.5h4M209 500.5h3M219 500.5h1M222 500.5h1M232 500.5h4M254 500.5h1M283 500.5h1M285 500.5h1M303 500.5h1M337 500.5h1M373 500.5h1M384 500.5h1M395 500.5h1M428 500.5h1M499 500.5h3M503 500.5h3M511 500.5h5M522 500.5h3M530 500.5h1M534 500.5h6M150 501.5h10M169 501.5h1M178 501.5h10M200 501.5h3M204 501.5h1M208 501.5h1M213 501.5h3M220 501.5h2M227 501.5h7M254 501.5h1M303 501.5h1M307 501.5h1M320 501.5h2M337 501.5h1M339 501.5h1M449 501.5h2M497 501.5h1M511 501.5h3M515 501.5h25M543 501.5h3M161 502.5h15M198 502.5h4M203 502.5h4M214 502.5h4M268 502.5h1M302 502.5h1M359 502.5h1M361 502.5h1M476 502.5h2M502 502.5h6M509 502.5h6M518 502.5h1M521 502.5h6M530 502.5h3M538 502.5h8M150 503.5h14M168 503.5h3M173 503.5h10M188 503.5h13M202 503.5h6M211 503.5h2M221 503.5h1M227 503.5h4M237 503.5h1M319 503.5h1M324 503.5h1M339 503.5h1M344 503.5h1M389 503.5h1M491 503.5h1M500 503.5h14M518 503.5h2M521 503.5h4M528 503.5h11M544 503.5h2M154 504.5h3M179 504.5h2M185 504.5h1M195 504.5h4M202 504.5h3M206 504.5h2M209 504.5h5M225 504.5h3M256 504.5h1M342 504.5h1M371 504.5h2M470 504.5h1M475 504.5h1M492 504.5h1M497 504.5h2M504 504.5h3M517 504.5h9M530 504.5h13M544 504.5h2M152 505.5h6M164 505.5h2M171 505.5h1M182 505.5h18M208 505.5h9M255 505.5h1M319 505.5h1M344 505.5h1M377 505.5h1M444 505.5h1M471 505.5h1M491 505.5h1M496 505.5h8M505 505.5h21M534 505.5h6M544 505.5h2M192 506.5h3M196 506.5h3M204 506.5h9M215 506.5h1M226 506.5h10M272 506.5h1M302 506.5h1M407 506.5h1M446 506.5h1M471 506.5h1M473 506.5h1M497 506.5h8M516 506.5h9M539 506.5h2M150 507.5h4M161 507.5h8M171 507.5h3M176 507.5h9M188 507.5h2M193 507.5h5M201 507.5h5M207 507.5h9M221 507.5h2M234 507.5h1M267 507.5h1M272 507.5h1M306 507.5h1M373 507.5h1M471 507.5h2M475 507.5h1M490 507.5h1M496 507.5h2M499 507.5h2M503 507.5h7M511 507.5h11M523 507.5h1M525 507.5h3M529 507.5h1M531 507.5h4M541 507.5h5M175 508.5h1M177 508.5h1M188 508.5h1M194 508.5h2M199 508.5h3M212 508.5h2M224 508.5h2M228 508.5h2M254 508.5h1M267 508.5h1M289 508.5h1M303 508.5h1M339 508.5h1M360 508.5h1M428 508.5h1M444 508.5h1M480 508.5h1M498 508.5h2M502 508.5h6M509 508.5h6M516 508.5h7M525 508.5h2M535 508.5h2M151 509.5h3M156 509.5h2M160 509.5h4M167 509.5h4M178 509.5h1M183 509.5h3M188 509.5h7M203 509.5h2M206 509.5h2M210 509.5h2M213 509.5h1M215 509.5h6M227 509.5h1M251 509.5h1M272 509.5h2M285 509.5h1M338 509.5h1M359 509.5h1M477 509.5h1M501 509.5h9M523 509.5h2M530 509.5h3M535 509.5h7M179 510.5h4M197 510.5h3M201 510.5h6M212 510.5h2M223 510.5h1M226 510.5h7M236 510.5h1M250 510.5h1M303 510.5h1M343 510.5h1M490 510.5h1M492 510.5h1M504 510.5h1M506 510.5h1M514 510.5h17M162 511.5h12M176 511.5h1M178 511.5h5M184 511.5h2M187 511.5h13M201 511.5h13M222 511.5h3M272 511.5h3M344 511.5h1M376 511.5h1M396 511.5h1M476 511.5h1M498 511.5h1M510 511.5h4M519 511.5h5M525 511.5h9M538 511.5h8M190 512.5h3M201 512.5h9M231 512.5h1M249 512.5h1M302 512.5h1M476 512.5h1M491 512.5h1M497 512.5h5M503 512.5h8M513 512.5h2M518 512.5h4M535 512.5h1M537 512.5h1M159 513.5h20M182 513.5h2M188 513.5h7M196 513.5h2M202 513.5h2M205 513.5h2M209 513.5h5M221 513.5h1M229 513.5h1M251 513.5h1M272 513.5h1M289 513.5h1M303 513.5h1M324 513.5h1M388 513.5h1M485 513.5h1M491 513.5h1M499 513.5h5M507 513.5h3M513 513.5h14M528 513.5h4M533 513.5h13M164 514.5h1M186 514.5h3M199 514.5h1M201 514.5h4M209 514.5h1M215 514.5h2M229 514.5h7M268 514.5h1M283 514.5h1M308 514.5h1M326 514.5h1M338 514.5h1M343 514.5h1M360 514.5h1M480 514.5h1M493 514.5h1M508 514.5h3M512 514.5h3M521 514.5h1M531 514.5h2M540 514.5h2M150 515.5h6M160 515.5h7M169 515.5h2M180 515.5h3M185 515.5h10M202 515.5h5M213 515.5h2M216 515.5h3M221 515.5h2M226 515.5h2M320 515.5h1M344 515.5h1M361 515.5h1M395 515.5h1M473 515.5h1M496 515.5h20M520 515.5h17M538 515.5h1M542 515.5h4M166 516.5h1M196 516.5h5M207 516.5h11M301 516.5h1M343 516.5h1M361 516.5h1M378 516.5h1M391 516.5h1M444 516.5h1M497 516.5h7M506 516.5h6M516 516.5h6M524 516.5h5M530 516.5h1M532 516.5h2M538 516.5h5M150 517.5h1M153 517.5h2M159 517.5h3M164 517.5h2M172 517.5h8M181 517.5h9M191 517.5h1M193 517.5h2M196 517.5h3M202 517.5h7M212 517.5h4M217 517.5h5M231 517.5h1M254 517.5h1M325 517.5h1M355 517.5h1M361 517.5h1M384 517.5h1M500 517.5h2M506 517.5h10M521 517.5h1M523 517.5h1M525 517.5h5M533 517.5h2M539 517.5h7M155 518.5h1M206 518.5h8M250 518.5h1M268 518.5h1M272 518.5h1M372 518.5h1M477 518.5h1M490 518.5h1M498 518.5h1M513 518.5h6M524 518.5h12M538 518.5h2M545 518.5h1M151 519.5h9M168 519.5h2M171 519.5h4M181 519.5h7M193 519.5h19M216 519.5h1M236 519.5h1M256 519.5h1M272 519.5h1M295 519.5h1M299 519.5h1M355 519.5h1M360 519.5h1M381 519.5h1M444 519.5h1M477 519.5h1M486 519.5h1M498 519.5h1M501 519.5h7M509 519.5h1M513 519.5h1M515 519.5h5M521 519.5h8M530 519.5h14M545 519.5h1M192 520.5h8M202 520.5h5M218 520.5h1M254 520.5h2M268 520.5h1M338 520.5h2M343 520.5h1M395 520.5h1M429 520.5h1M499 520.5h1M501 520.5h1M503 520.5h2M507 520.5h8M527 520.5h5M536 520.5h2M542 520.5h1M152 521.5h2M155 521.5h1M159 521.5h4M172 521.5h4M184 521.5h11M196 521.5h18M215 521.5h8M224 521.5h4M232 521.5h2M268 521.5h2M290 521.5h2M303 521.5h1M339 521.5h1M360 521.5h1M430 521.5h1M459 521.5h1M473 521.5h1M491 521.5h2M497 521.5h10M510 521.5h2M516 521.5h13M530 521.5h7M538 521.5h7M155 522.5h2M175 522.5h3M200 522.5h7M210 522.5h1M213 522.5h1M221 522.5h1M250 522.5h1M272 522.5h1M302 522.5h1M361 522.5h1M373 522.5h1M487 522.5h1M491 522.5h1M497 522.5h1M500 522.5h9M512 522.5h5M522 522.5h3M532 522.5h2M538 522.5h2M541 522.5h1M545 522.5h1M153 523.5h1M155 523.5h1M160 523.5h3M164 523.5h1M166 523.5h2M181 523.5h1M205 523.5h13M224 523.5h4M234 523.5h2M248 523.5h2M268 523.5h1M303 523.5h1M320 523.5h1M344 523.5h1M360 523.5h1M492 523.5h1M498 523.5h2M504 523.5h3M509 523.5h8M518 523.5h22M542 523.5h4M169 524.5h1M184 524.5h2M188 524.5h2M201 524.5h3M205 524.5h2M208 524.5h5M220 524.5h1M250 524.5h1M255 524.5h1M267 524.5h1M338 524.5h1M360 524.5h1M424 524.5h1M428 524.5h1M497 524.5h2M500 524.5h7M523 524.5h10M534 524.5h6M542 524.5h4M150 525.5h1M152 525.5h7M166 525.5h14M184 525.5h3M191 525.5h7M204 525.5h1M207 525.5h3M211 525.5h9M222 525.5h2M228 525.5h1M254 525.5h1M272 525.5h2M306 525.5h1M338 525.5h1M354 525.5h1M395 525.5h1M408 525.5h1M430 525.5h2M477 525.5h1M499 525.5h5M505 525.5h3M509 525.5h9M519 525.5h3M524 525.5h8M536 525.5h8M545 525.5h1M166 526.5h8M205 526.5h4M211 526.5h1M219 526.5h5M255 526.5h1M273 526.5h1M320 526.5h1M355 526.5h1M413 526.5h1M481 526.5h1M491 526.5h1M497 526.5h4M505 526.5h11M518 526.5h8M527 526.5h2M534 526.5h2M542 526.5h3M151 527.5h1M153 527.5h7M167 527.5h4M177 527.5h1M187 527.5h1M190 527.5h2M198 527.5h5M206 527.5h3M225 527.5h3M234 527.5h1M238 527.5h1M254 527.5h1M298 527.5h1M326 527.5h1M342 527.5h1M344 527.5h2M429 527.5h1M472 527.5h1M501 527.5h14M516 527.5h1M519 527.5h26M150 528.5h7M170 528.5h1M186 528.5h13M202 528.5h1M208 528.5h1M210 528.5h2M213 528.5h8M251 528.5h1M268 528.5h2M284 528.5h1M360 528.5h1M395 528.5h1M491 528.5h1M499 528.5h2M503 528.5h4M508 528.5h12M523 528.5h2M527 528.5h3M150 529.5h5M160 529.5h2M166 529.5h5M175 529.5h13M189 529.5h16M206 529.5h4M214 529.5h1M225 529.5h1M229 529.5h5M236 529.5h1M251 529.5h1M269 529.5h1M285 529.5h1M344 529.5h1M355 529.5h1M371 529.5h1M476 529.5h1M493 529.5h1M497 529.5h5M504 529.5h1M508 529.5h8M518 529.5h9M529 529.5h7M537 529.5h9M207 530.5h3M212 530.5h2M221 530.5h4M267 530.5h1M269 530.5h1M285 530.5h1M289 530.5h1M337 530.5h2M354 530.5h1M377 530.5h1M381 530.5h1M394 530.5h1M462 530.5h1M476 530.5h1M491 530.5h1M498 530.5h1M500 530.5h6M513 530.5h12M526 530.5h2M532 530.5h1M536 530.5h1M539 530.5h1M542 530.5h4M153 531.5h5M159 531.5h1M163 531.5h5M169 531.5h1M176 531.5h1M184 531.5h2M189 531.5h7M201 531.5h4M206 531.5h2M209 531.5h7M217 531.5h7M233 531.5h1M285 531.5h1M290 531.5h1M302 531.5h1M320 531.5h1M337 531.5h1M342 531.5h2M408 531.5h1M450 531.5h1M496 531.5h3M506 531.5h1M510 531.5h18M529 531.5h1M531 531.5h1M533 531.5h4M540 531.5h4M545 531.5h1M162 532.5h2M192 532.5h17M228 532.5h2M251 532.5h1M256 532.5h1M267 532.5h2M272 532.5h1M325 532.5h1M343 532.5h1M372 532.5h1M380 532.5h1M387 532.5h1M413 532.5h1M425 532.5h1M449 532.5h1M477 532.5h1M481 532.5h1M492 532.5h2M500 532.5h5M516 532.5h10M533 532.5h3M537 532.5h8M161 533.5h2M168 533.5h2M171 533.5h5M181 533.5h32M214 533.5h7M223 533.5h2M268 533.5h1M299 533.5h1M356 533.5h1M446 533.5h1M485 533.5h1M487 533.5h1M493 533.5h1M497 533.5h3M502 533.5h3M507 533.5h1M516 533.5h5M522 533.5h2M530 533.5h11M542 533.5h4M164 534.5h1M169 534.5h4M188 534.5h5M199 534.5h3M210 534.5h3M233 534.5h3M290 534.5h1M327 534.5h1M338 534.5h2M477 534.5h1M499 534.5h2M503 534.5h2M507 534.5h3M512 534.5h1M516 534.5h6M526 534.5h2M533 534.5h2M152 535.5h3M156 535.5h16M175 535.5h6M190 535.5h16M212 535.5h6M289 535.5h1M325 535.5h1M338 535.5h1M390 535.5h1M450 535.5h1M497 535.5h2M501 535.5h11M513 535.5h3M517 535.5h8M527 535.5h1M530 535.5h16M152 536.5h4M177 536.5h1M193 536.5h3M203 536.5h1M205 536.5h3M213 536.5h4M326 536.5h1M337 536.5h1M395 536.5h1M472 536.5h2M477 536.5h1M492 536.5h1M497 536.5h4M512 536.5h14M527 536.5h3M533 536.5h2M153 537.5h1M160 537.5h11M178 537.5h3M188 537.5h2M192 537.5h10M203 537.5h5M211 537.5h1M214 537.5h4M224 537.5h1M228 537.5h3M234 537.5h1M250 537.5h1M303 537.5h1M325 537.5h1M362 537.5h1M379 537.5h1M424 537.5h1M482 537.5h1M498 537.5h1M500 537.5h2M503 537.5h9M515 537.5h12M528 537.5h6M535 537.5h11M185 538.5h9M209 538.5h3M221 538.5h2M268 538.5h1M289 538.5h1M291 538.5h1M339 538.5h1M361 538.5h1M379 538.5h1M423 538.5h1M471 538.5h1M481 538.5h1M486 538.5h1M492 538.5h1M498 538.5h1M500 538.5h5M510 538.5h3M515 538.5h1M528 538.5h2M535 538.5h5M150 539.5h7M158 539.5h6M166 539.5h3M176 539.5h8M190 539.5h9M200 539.5h6M210 539.5h1M212 539.5h2M215 539.5h11M228 539.5h1M302 539.5h1M342 539.5h1M359 539.5h1M373 539.5h1M424 539.5h1M451 539.5h1M492 539.5h2M498 539.5h2M502 539.5h5M512 539.5h3M516 539.5h1M518 539.5h2M521 539.5h6M528 539.5h15"/>
<path stroke="#ffd000" stroke-width="1" fill="none" d="M150 93.5h1M162 93.5h1M166 93.5h4M174 93.5h3M178 93.5h2M182 93.5h1M187 93.5h2M196 93.5h1M498 93.5h3M517 93.5h1M150 94.5h2M153 94.5h11M171 94.5h9M181 94.5h7M189 94.5h1M195 94.5h2M198 94.5h1M200 94.5h10M218 94.5h2M224 94.5h6M327 94.5h1M505 94.5h7M514 94.5h2M520 94.5h6M527 94.5h7M535 94.5h11M151 95.5h1M154 95.5h1M165 95.5h8M193 95.5h1M219 95.5h5M472 95.5h1M482 95.5h1M150 96.5h6M158 96.5h9M168 96.5h7M176 96.5h4M184 96.5h6M191 96.5h20M494 96.5h5M502 96.5h3M506 96.5h7M514 96.5h8M526 96.5h2M532 96.5h4M538 96.5h8M162 97.5h2M173 97.5h7M197 97.5h1M200 97.5h1M208 97.5h6M534 97.5h2M150 98.5h6M157 98.5h3M161 98.5h8M171 98.5h12M196 98.5h1M199 98.5h1M497 98.5h1M499 98.5h1M509 98.5h1M516 98.5h2M525 98.5h15M153 99.5h3M158 99.5h8M180 99.5h1M185 99.5h2M206 99.5h1M251 99.5h1M517 99.5h5M541 99.5h1M545 99.5h1M150 100.5h1M153 100.5h22M176 100.5h7M190 100.5h3M199 100.5h2M202 100.5h1M204 100.5h1M215 100.5h2M220 100.5h1M511 100.5h2M515 100.5h1M519 100.5h1M523 100.5h4M530 100.5h4M536 100.5h8M158 101.5h4M163 101.5h2M166 101.5h1M176 101.5h5M182 101.5h1M188 101.5h3M230 101.5h1M239 101.5h1M322 101.5h1M498 101.5h7M525 101.5h3M152 102.5h7M160 102.5h3M164 102.5h20M186 102.5h6M197 102.5h6M205 102.5h5M223 102.5h1M434 102.5h1M497 102.5h4M509 102.5h3M518 102.5h1M525 102.5h21M153 103.5h4M158 103.5h10M173 103.5h7M213 103.5h3M359 103.5h1M454 103.5h1M498 103.5h1M506 103.5h3M535 103.5h2M151 104.5h1M155 104.5h1M157 104.5h1M159 104.5h11M175 104.5h21M200 104.5h8M228 104.5h2M242 104.5h1M381 104.5h1M499 104.5h11M520 104.5h26M150 105.5h2M159 105.5h2M177 105.5h1M193 105.5h1M211 105.5h1M231 105.5h1M510 105.5h5M517 105.5h5M523 105.5h4M535 105.5h1M538 105.5h4M545 105.5h1M150 106.5h33M184 106.5h3M188 106.5h7M198 106.5h3M213 106.5h4M225 106.5h5M503 106.5h1M506 106.5h1M508 106.5h1M510 106.5h3M524 106.5h5M532 106.5h1M535 106.5h8M545 106.5h1M154 107.5h3M158 107.5h1M160 107.5h4M171 107.5h8M185 107.5h5M206 107.5h2M258 107.5h1M261 107.5h1M348 107.5h1M511 107.5h1M517 107.5h1M520 107.5h5M530 107.5h2M534 107.5h4M539 107.5h2M150 108.5h38M192 108.5h4M199 108.5h5M205 108.5h7M213 108.5h1M222 108.5h6M501 108.5h3M516 108.5h2M519 108.5h6M526 108.5h3M535 108.5h2M538 108.5h1M543 108.5h1M545 108.5h1M150 109.5h8M159 109.5h1M166 109.5h4M177 109.5h6M192 109.5h1M195 109.5h3M206 109.5h1M217 109.5h2M498 109.5h4M517 109.5h3M527 109.5h1M531 109.5h3M543 109.5h3M150 110.5h42M198 110.5h1M205 110.5h5M211 110.5h3M222 110.5h3M228 110.5h2M501 110.5h4M508 110.5h5M514 110.5h2M517 110.5h1M524 110.5h3M537 110.5h5M545 110.5h1M163 111.5h2M171 111.5h12M186 111.5h3M516 111.5h7M527 111.5h4M535 111.5h3M539 111.5h5M150 112.5h20M175 112.5h20M196 112.5h6M210 112.5h1M239 112.5h1M356 112.5h1M508 112.5h5M517 112.5h11M531 112.5h5M537 112.5h9M157 113.5h1M169 113.5h7M186 113.5h2M516 113.5h2M539 113.5h2M151 114.5h9M161 114.5h10M177 114.5h7M186 114.5h5M198 114.5h4M204 114.5h6M216 114.5h2M511 114.5h3M519 114.5h7M534 114.5h12M150 115.5h9M176 115.5h4M211 115.5h1M217 115.5h1M339 115.5h1M515 115.5h4M538 115.5h1M150 116.5h9M162 116.5h7M171 116.5h1M175 116.5h4M183 116.5h9M193 116.5h1M206 116.5h1M223 116.5h2M521 116.5h3M527 116.5h11M539 116.5h7M158 117.5h1M221 117.5h1M442 117.5h1M538 117.5h6M150 118.5h14M165 118.5h15M181 118.5h3M185 118.5h9M195 118.5h6M202 118.5h3M207 118.5h8M229 118.5h2M365 118.5h1M509 118.5h6M517 118.5h14M538 118.5h4M152 119.5h4M157 119.5h2M161 119.5h1M166 119.5h1M168 119.5h3M193 119.5h6M221 119.5h1M227 119.5h3M374 119.5h1M521 119.5h3M532 119.5h8M541 119.5h3M150 120.5h18M169 120.5h21M197 120.5h2M202 120.5h3M206 120.5h4M221 120.5h1M267 120.5h1M274 120.5h1M321 120.5h1M403 120.5h1M498 120.5h1M501 120.5h3M506 120.5h8M528 120.5h1M536 120.5h4M151 121.5h1M153 121.5h2M160 121.5h8M176 121.5h1M179 121.5h3M207 121.5h2M250 121.5h1M474 121.5h1M513 121.5h9M534 121.5h1M544 121.5h2M150 122.5h23M174 122.5h11M190 122.5h5M199 122.5h1M207 122.5h1M211 122.5h1M217 122.5h1M494 122.5h3M509 122.5h3M519 122.5h2M522 122.5h2M537 122.5h3M542 122.5h4M150 123.5h2M154 123.5h2M161 123.5h3M188 123.5h1M192 123.5h3M206 123.5h2M210 123.5h8M391 123.5h1M503 123.5h1M532 123.5h1M535 123.5h6M543 123.5h1M155 124.5h24M181 124.5h5M187 124.5h16M205 124.5h2M211 124.5h1M229 124.5h3M249 124.5h1M506 124.5h4M511 124.5h1M516 124.5h5M523 124.5h13M542 124.5h4M162 125.5h4M174 125.5h5M191 125.5h3M219 125.5h2M232 125.5h1M513 125.5h2M516 125.5h2M150 126.5h9M162 126.5h19M183 126.5h17M237 126.5h1M412 126.5h1M504 126.5h5M513 126.5h2M527 126.5h3M537 126.5h9M151 127.5h38M200 127.5h5M221 127.5h1M505 127.5h1M516 127.5h2M535 127.5h1M539 127.5h3M150 128.5h1M152 128.5h8M161 128.5h10M174 128.5h10M187 128.5h5M199 128.5h2M202 128.5h4M350 128.5h1M414 128.5h1M422 128.5h1M506 128.5h2M512 128.5h1M515 128.5h5M534 128.5h4M542 128.5h3M150 129.5h7M161 129.5h6M171 129.5h1M178 129.5h1M182 129.5h1M199 129.5h9M277 129.5h1M519 129.5h3M527 129.5h5M538 129.5h1M545 129.5h1M150 130.5h40M202 130.5h4M217 130.5h3M509 130.5h1M514 130.5h4M528 130.5h2M537 130.5h3M150 131.5h5M161 131.5h3M167 131.5h3M174 131.5h1M178 131.5h6M189 131.5h1M201 131.5h2M529 131.5h6M541 131.5h2M544 131.5h2M150 132.5h13M165 132.5h26M195 132.5h2M198 132.5h6M217 132.5h1M220 132.5h2M226 132.5h2M510 132.5h2M516 132.5h17M536 132.5h10M150 133.5h1M157 133.5h1M160 133.5h2M176 133.5h7M184 133.5h1M192 133.5h5M218 133.5h2M458 133.5h1M533 133.5h5M150 134.5h37M188 134.5h2M192 134.5h3M213 134.5h2M216 134.5h1M223 134.5h3M228 134.5h1M233 134.5h1M493 134.5h1M508 134.5h2M512 134.5h2M515 134.5h7M523 134.5h6M530 134.5h3M535 134.5h4M540 134.5h5M154 135.5h5M162 135.5h5M168 135.5h12M181 135.5h5M231 135.5h2M404 135.5h1M508 135.5h1M510 135.5h3M514 135.5h2M519 135.5h6M527 135.5h12M543 135.5h1M151 136.5h1M153 136.5h2M156 136.5h25M184 136.5h2M187 136.5h1M194 136.5h3M202 136.5h5M212 136.5h2M224 136.5h5M500 136.5h2M512 136.5h1M528 136.5h18M150 137.5h1M170 137.5h3M175 137.5h8M185 137.5h8M194 137.5h3M204 137.5h4M247 137.5h1M505 137.5h4M515 137.5h1M531 137.5h9M542 137.5h3M150 138.5h12M163 138.5h41M205 138.5h1M207 138.5h2M217 138.5h4M224 138.5h2M471 138.5h1M494 138.5h1M500 138.5h1M509 138.5h1M512 138.5h2M516 138.5h5M527 138.5h15M545 138.5h1M150 139.5h6M158 139.5h5M168 139.5h1M173 139.5h3M204 139.5h1M225 139.5h1M478 139.5h1M532 139.5h1M534 139.5h2M540 139.5h3M150 140.5h34M187 140.5h2M190 140.5h1M193 140.5h2M197 140.5h8M214 140.5h4M241 140.5h1M244 140.5h1M326 140.5h1M511 140.5h10M522 140.5h1M525 140.5h8M535 140.5h6M542 140.5h4M151 141.5h6M158 141.5h2M162 141.5h6M170 141.5h2M173 141.5h6M187 141.5h9M475 141.5h1M494 141.5h1M507 141.5h5M515 141.5h9M528 141.5h6M150 142.5h41M192 142.5h6M214 142.5h1M305 142.5h1M498 142.5h3M502 142.5h2M527 142.5h18M150 143.5h5M156 143.5h3M160 143.5h3M172 143.5h2M175 143.5h6M193 143.5h6M205 143.5h6M395 143.5h1M498 143.5h8M507 143.5h5M531 143.5h7M150 144.5h31M188 144.5h1M190 144.5h3M198 144.5h9M423 144.5h1M508 144.5h18M527 144.5h1M534 144.5h5M540 144.5h2M154 145.5h4M160 145.5h2M165 145.5h1M188 145.5h1M198 145.5h1M315 145.5h1M516 145.5h1M520 145.5h1M533 145.5h1M150 146.5h36M188 146.5h4M193 146.5h8M208 146.5h3M223 146.5h1M508 146.5h5M520 146.5h2M527 146.5h16M150 147.5h4M155 147.5h3M159 147.5h3M167 147.5h7M175 147.5h3M180 147.5h5M196 147.5h2M203 147.5h3M213 147.5h1M280 147.5h1M453 147.5h1M505 147.5h6M520 147.5h5M532 147.5h2M544 147.5h2M150 148.5h8M159 148.5h14M174 148.5h14M190 148.5h8M202 148.5h7M214 148.5h4M505 148.5h3M519 148.5h2M538 148.5h2M544 148.5h2M152 149.5h11M172 149.5h1M181 149.5h3M192 149.5h4M205 149.5h1M503 149.5h1M532 149.5h2M543 149.5h1M150 150.5h38M191 150.5h8M202 150.5h1M204 150.5h4M214 150.5h1M217 150.5h1M229 150.5h2M471 150.5h1M513 150.5h8M527 150.5h1M529 150.5h1M537 150.5h4M545 150.5h1M152 151.5h5M159 151.5h2M164 151.5h3M168 151.5h4M175 151.5h4M180 151.5h1M196 151.5h2M215 151.5h8M545 151.5h1M150 152.5h41M192 152.5h3M196 152.5h8M205 152.5h2M217 152.5h2M229 152.5h1M497 152.5h3M508 152.5h1M510 152.5h5M517 152.5h1M520 152.5h3M525 152.5h3M530 152.5h16M156 153.5h11M173 153.5h12M191 153.5h3M197 153.5h1M494 153.5h1M511 153.5h1M520 153.5h1M528 153.5h3M544 153.5h2M150 154.5h1M152 154.5h31M184 154.5h8M193 154.5h2M196 154.5h9M207 154.5h3M229 154.5h2M506 154.5h7M529 154.5h2M533 154.5h13M155 155.5h2M161 155.5h5M171 155.5h4M178 155.5h2M181 155.5h1M185 155.5h6M196 155.5h1M345 155.5h1M477 155.5h1M522 155.5h2M526 155.5h9M536 155.5h1M538 155.5h6M150 156.5h32M186 156.5h5M203 156.5h4M507 156.5h4M513 156.5h2M516 156.5h1M521 156.5h2M524 156.5h8M533 156.5h4M538 156.5h2M542 156.5h4M151 157.5h3M156 157.5h5M176 157.5h5M196 157.5h2M431 157.5h1M474 157.5h1M534 157.5h4M544 157.5h2M150 158.5h13M168 158.5h4M178 158.5h3M182 158.5h5M193 158.5h2M197 158.5h2M225 158.5h1M497 158.5h1M512 158.5h2M516 158.5h1M518 158.5h2M521 158.5h6M535 158.5h5M152 159.5h8M166 159.5h3M177 159.5h1M180 159.5h4M208 159.5h2M324 159.5h1M514 159.5h2M542 159.5h2M150 160.5h4M155 160.5h8M166 160.5h22M189 160.5h2M198 160.5h3M211 160.5h2M220 160.5h1M224 160.5h4M264 160.5h1M295 160.5h1M501 160.5h1M517 160.5h3M523 160.5h3M527 160.5h5M538 160.5h8M150 161.5h7M167 161.5h7M176 161.5h7M188 161.5h4M201 161.5h3M207 161.5h1M212 161.5h3M237 161.5h1M460 161.5h1M527 161.5h3M541 161.5h4M150 162.5h15M168 162.5h18M190 162.5h9M200 162.5h9M252 162.5h1M495 162.5h2M499 162.5h3M510 162.5h1M522 162.5h12M540 162.5h1M545 162.5h1M150 163.5h4M158 163.5h1M167 163.5h17M192 163.5h1M203 163.5h4M208 163.5h5M216 163.5h1M351 163.5h1M433 163.5h1M505 163.5h4M512 163.5h2M526 163.5h1M528 163.5h1M532 163.5h9M542 163.5h4M150 164.5h31M186 164.5h3M192 164.5h3M199 164.5h2M202 164.5h5M216 164.5h1M228 164.5h2M388 164.5h1M444 164.5h1M495 164.5h1M506 164.5h4M511 164.5h5M518 164.5h3M526 164.5h16M151 165.5h5M157 165.5h6M166 165.5h6M178 165.5h4M186 165.5h10M507 165.5h1M517 165.5h1M526 165.5h2M150 166.5h10M161 166.5h22M192 166.5h5M200 166.5h2M205 166.5h3M493 166.5h5M508 166.5h13M523 166.5h2M527 166.5h14M155 167.5h1M162 167.5h10M174 167.5h6M188 167.5h1M201 167.5h7M215 167.5h2M272 167.5h1M487 167.5h1M518 167.5h2M527 167.5h3M544 167.5h2M150 168.5h6M157 168.5h6M164 168.5h1M166 168.5h21M194 168.5h11M214 168.5h1M219 168.5h2M412 168.5h1M468 168.5h1M507 168.5h8M516 168.5h3M520 168.5h1M522 168.5h12M535 168.5h11M152 169.5h1M154 169.5h2M162 169.5h2M173 169.5h6M180 169.5h2M188 169.5h1M203 169.5h1M150 170.5h20M171 170.5h3M175 170.5h20M205 170.5h7M230 170.5h1M498 170.5h5M511 170.5h5M520 170.5h9M531 170.5h2M534 170.5h12M171 171.5h2M189 171.5h5M219 171.5h1M299 171.5h2M520 171.5h1M528 171.5h10M150 172.5h34M186 172.5h5M192 172.5h3M199 172.5h4M204 172.5h3M222 172.5h1M224 172.5h3M370 172.5h1M494 172.5h2M506 172.5h4M511 172.5h3M515 172.5h1M518 172.5h2M523 172.5h6M532 172.5h9M542 172.5h2M545 172.5h1M150 173.5h4M163 173.5h8M174 173.5h5M182 173.5h4M188 173.5h1M191 173.5h1M206 173.5h4M227 173.5h3M499 173.5h3M525 173.5h3M537 173.5h2M152 174.5h13M166 174.5h5M174 174.5h16M198 174.5h5M204 174.5h6M213 174.5h1M215 174.5h12M252 174.5h1M324 174.5h1M498 174.5h1M507 174.5h1M509 174.5h1M511 174.5h2M526 174.5h6M536 174.5h7M150 175.5h11M162 175.5h2M183 175.5h6M211 175.5h4M445 175.5h1M521 175.5h4M528 175.5h6M544 175.5h1M150 176.5h50M201 176.5h5M207 176.5h1M210 176.5h6M516 176.5h1M528 176.5h18M155 177.5h15M173 177.5h15M192 177.5h3M196 177.5h1M213 177.5h1M341 177.5h1M460 177.5h1M524 177.5h1M534 177.5h1M150 178.5h23M177 178.5h20M198 178.5h4M209 178.5h2M213 178.5h2M218 178.5h2M222 178.5h2M267 178.5h1M500 178.5h5M508 178.5h3M515 178.5h1M518 178.5h11M533 178.5h2M537 178.5h9M154 179.5h14M173 179.5h8M184 179.5h3M189 179.5h6M213 179.5h1M336 179.5h1M505 179.5h1M509 179.5h1M531 179.5h8M162 180.5h11M185 180.5h5M195 180.5h1M199 180.5h1M227 180.5h3M495 180.5h6M507 180.5h6M531 180.5h7M542 180.5h2M165 181.5h2M232 181.5h1M499 181.5h2M150 182.5h43M195 182.5h1M197 182.5h6M207 182.5h3M497 182.5h1M503 182.5h2M517 182.5h2M522 182.5h4M527 182.5h10M538 182.5h8M150 183.5h1M159 183.5h1M167 183.5h4M178 183.5h7M186 183.5h3M191 183.5h1M313 183.5h1M370 183.5h1M505 183.5h1M520 183.5h1M522 183.5h4M150 184.5h51M208 184.5h1M228 184.5h3M507 184.5h1M510 184.5h3M531 184.5h2M537 184.5h2M167 185.5h10M187 185.5h1M192 185.5h2M196 185.5h6M205 185.5h3M212 185.5h2M287 185.5h1M493 185.5h4M503 185.5h1M511 185.5h2M518 185.5h1M531 185.5h1M537 185.5h1M543 185.5h2M150 186.5h11M162 186.5h21M184 186.5h1M188 186.5h6M197 186.5h1M500 186.5h6M516 186.5h2M525 186.5h12M538 186.5h8M150 187.5h1M155 187.5h1M160 187.5h1M166 187.5h6M173 187.5h4M185 187.5h1M190 187.5h2M193 187.5h13M214 187.5h4M266 187.5h1M505 187.5h6M524 187.5h2M541 187.5h2M150 188.5h11M162 188.5h30M197 188.5h6M207 188.5h4M216 188.5h1M495 188.5h4M504 188.5h3M511 188.5h1M517 188.5h1M531 188.5h1M534 188.5h7M542 188.5h4M156 189.5h6M166 189.5h2M172 189.5h1M174 189.5h1M181 189.5h1M184 189.5h2M195 189.5h2M198 189.5h6M211 189.5h2M219 189.5h1M501 189.5h3M525 189.5h1M530 189.5h2M538 189.5h1M150 190.5h15M172 190.5h9M182 190.5h8M194 190.5h2M202 190.5h3M207 190.5h1M216 190.5h3M246 190.5h1M505 190.5h4M518 190.5h1M523 190.5h5M535 190.5h3M539 190.5h4M157 191.5h1M163 191.5h2M167 191.5h13M503 191.5h1M518 191.5h1M536 191.5h10M150 192.5h8M160 192.5h1M162 192.5h3M166 192.5h23M199 192.5h1M205 192.5h1M207 192.5h1M358 192.5h1M512 192.5h5M522 192.5h3M534 192.5h2M541 192.5h5M150 193.5h3M159 193.5h5M165 193.5h1M170 193.5h4M177 193.5h5M494 193.5h1M502 193.5h2M508 193.5h3M532 193.5h4M539 193.5h5M150 194.5h8M159 194.5h30M208 194.5h5M215 194.5h10M226 194.5h1M325 194.5h1M478 194.5h1M494 194.5h2M498 194.5h1M501 194.5h4M517 194.5h14M534 194.5h12M150 195.5h3M162 195.5h4M167 195.5h3M177 195.5h4M185 195.5h2M189 195.5h6M223 195.5h1M507 195.5h1M510 195.5h3M152 196.5h6M162 196.5h12M176 196.5h13M192 196.5h3M199 196.5h6M225 196.5h1M497 196.5h7M512 196.5h1M522 196.5h10M536 196.5h7M170 197.5h8M179 197.5h1M185 197.5h4M204 197.5h2M509 197.5h1M511 197.5h5M518 197.5h3M526 197.5h8M150 198.5h48M199 198.5h8M218 198.5h5M497 198.5h3M510 198.5h5M520 198.5h2M524 198.5h5M531 198.5h2M168 199.5h5M175 199.5h4M222 199.5h1M526 199.5h1M543 199.5h3M150 200.5h38M195 200.5h8M208 200.5h1M214 200.5h1M222 200.5h3M506 200.5h4M511 200.5h4M518 200.5h28M156 201.5h4M167 201.5h4M182 201.5h1M508 201.5h5M539 201.5h5M150 202.5h39M196 202.5h1M199 202.5h1M219 202.5h1M501 202.5h11M514 202.5h13M536 202.5h1M538 202.5h4M544 202.5h2M153 203.5h3M177 203.5h3M182 203.5h3M191 203.5h1M195 203.5h1M198 203.5h2M224 203.5h1M226 203.5h1M497 203.5h1M499 203.5h3M516 203.5h2M531 203.5h1M150 204.5h12M166 204.5h20M191 204.5h2M196 204.5h3M200 204.5h3M204 204.5h2M214 204.5h4M501 204.5h4M506 204.5h3M510 204.5h3M524 204.5h7M150 205.5h4M157 205.5h7M167 205.5h3M172 205.5h1M178 205.5h1M501 205.5h2M521 205.5h5M537 205.5h2M150 206.5h6M159 206.5h28M189 206.5h3M193 206.5h4M203 206.5h4M219 206.5h1M229 206.5h3M259 206.5h1M360 206.5h1M499 206.5h4M508 206.5h16M527 206.5h17M150 207.5h1M158 207.5h6M169 207.5h5M177 207.5h4M204 207.5h3M346 207.5h1M413 207.5h1M505 207.5h1M513 207.5h1M519 207.5h7M542 207.5h4M150 208.5h19M170 208.5h20M191 208.5h5M197 208.5h2M201 208.5h1M207 208.5h1M209 208.5h1M219 208.5h2M231 208.5h1M241 208.5h1M317 208.5h1M473 208.5h1M500 208.5h5M512 208.5h11M524 208.5h10M539 208.5h7M150 209.5h5M161 209.5h2M176 209.5h8M187 209.5h4M192 209.5h2M196 209.5h2M203 209.5h1M295 209.5h1M458 209.5h1M502 209.5h4M524 209.5h2M150 210.5h9M160 210.5h5M171 210.5h1M177 210.5h7M186 210.5h3M202 210.5h1M504 210.5h2M507 210.5h1M509 210.5h4M532 210.5h14M160 211.5h18M180 211.5h5M189 211.5h1M200 211.5h1M222 211.5h7M323 211.5h1M506 211.5h2M150 212.5h35M186 212.5h5M192 212.5h2M195 212.5h2M201 212.5h1M220 212.5h1M518 212.5h13M532 212.5h2M537 212.5h7M158 213.5h7M167 213.5h5M179 213.5h13M196 213.5h5M375 213.5h1M510 213.5h1M532 213.5h3M539 213.5h2M150 214.5h14M166 214.5h7M174 214.5h6M181 214.5h5M190 214.5h12M205 214.5h1M506 214.5h2M515 214.5h2M528 214.5h1M538 214.5h5M151 215.5h1M158 215.5h4M169 215.5h2M178 215.5h4M197 215.5h3M204 215.5h1M500 215.5h3M523 215.5h1M533 215.5h7M152 216.5h1M154 216.5h8M166 216.5h25M194 216.5h9M220 216.5h3M224 216.5h2M229 216.5h1M315 216.5h1M497 216.5h1M500 216.5h1M514 216.5h2M517 216.5h3M531 216.5h4M542 216.5h4M155 217.5h1M167 217.5h1M170 217.5h2M192 217.5h7M212 217.5h1M225 217.5h2M261 217.5h1M412 217.5h1M419 217.5h1M510 217.5h2M523 217.5h6M530 217.5h3M537 217.5h2M544 217.5h2M150 218.5h25M176 218.5h11M190 218.5h7M200 218.5h8M262 218.5h1M417 218.5h1M421 218.5h1M500 218.5h1M524 218.5h4M529 218.5h17M150 219.5h1M153 219.5h5M161 219.5h16M182 219.5h1M195 219.5h5M229 219.5h1M263 219.5h1M511 219.5h1M516 219.5h5M530 219.5h9M150 220.5h15M167 220.5h20M188 220.5h4M198 220.5h1M200 220.5h2M204 220.5h1M206 220.5h2M213 220.5h2M216 220.5h6M253 220.5h1M266 220.5h1M501 220.5h1M506 220.5h3M511 220.5h4M521 220.5h12M535 220.5h1M152 221.5h5M160 221.5h5M177 221.5h3M189 221.5h1M193 221.5h1M198 221.5h4M225 221.5h1M238 221.5h1M308 221.5h1M398 221.5h1M449 221.5h1M150 222.5h35M192 222.5h5M198 222.5h5M205 222.5h4M216 222.5h1M503 222.5h2M511 222.5h1M520 222.5h1M524 222.5h1M526 222.5h1M529 222.5h7M537 222.5h9M150 223.5h2M158 223.5h1M161 223.5h2M174 223.5h5M188 223.5h1M204 223.5h11M515 223.5h1M529 223.5h1M532 223.5h2M545 223.5h1M150 224.5h7M158 224.5h23M186 224.5h10M223 224.5h3M228 224.5h1M234 224.5h1M269 224.5h1M476 224.5h1M505 224.5h1M511 224.5h2M517 224.5h3M521 224.5h2M532 224.5h7M540 224.5h3M151 225.5h11M168 225.5h4M173 225.5h1M184 225.5h5M194 225.5h4M199 225.5h3M204 225.5h1M218 225.5h6M520 225.5h3M541 225.5h2M544 225.5h2M150 226.5h18M169 226.5h17M187 226.5h9M198 226.5h3M211 226.5h1M296 226.5h1M509 226.5h1M518 226.5h8M528 226.5h18M161 227.5h2M164 227.5h3M172 227.5h1M177 227.5h5M198 227.5h2M202 227.5h1M252 227.5h1M459 227.5h1M480 227.5h1M508 227.5h3M516 227.5h3M544 227.5h2M150 228.5h15M168 228.5h6M176 228.5h8M186 228.5h10M198 228.5h1M201 228.5h1M203 228.5h2M206 228.5h5M390 228.5h1M501 228.5h1M503 228.5h12M528 228.5h7M536 228.5h10M150 229.5h3M161 229.5h5M178 229.5h13M200 229.5h2M203 229.5h1M209 229.5h3M242 229.5h1M415 229.5h1M530 229.5h2M540 229.5h1M150 230.5h2M153 230.5h2M159 230.5h26M186 230.5h12M200 230.5h3M204 230.5h1M225 230.5h3M280 230.5h1M336 230.5h1M496 230.5h8M510 230.5h1M520 230.5h3M529 230.5h4M543 230.5h3M162 231.5h1M177 231.5h5M191 231.5h8M200 231.5h2M213 231.5h3M341 231.5h1M414 231.5h1M503 231.5h1M513 231.5h6M527 231.5h5M541 231.5h1M544 231.5h1M152 232.5h24M177 232.5h17M197 232.5h6M209 232.5h1M213 232.5h7M225 232.5h7M274 232.5h1M409 232.5h1M464 232.5h1M506 232.5h1M512 232.5h3M525 232.5h7M535 232.5h4M543 232.5h3M156 233.5h1M159 233.5h3M174 233.5h2M180 233.5h7M195 233.5h2M200 233.5h9M220 233.5h3M231 233.5h1M439 233.5h1M447 233.5h1M525 233.5h5M531 233.5h5M542 233.5h2M150 234.5h6M157 234.5h2M161 234.5h11M173 234.5h11M193 234.5h9M205 234.5h2M507 234.5h1M511 234.5h2M523 234.5h10M534 234.5h3M540 234.5h1M542 234.5h4M151 235.5h2M173 235.5h1M176 235.5h5M182 235.5h1M196 235.5h10M246 235.5h1M272 235.5h1M476 235.5h1M510 235.5h1M523 235.5h2M538 235.5h5M150 236.5h13M165 236.5h26M192 236.5h2M201 236.5h9M218 236.5h7M226 236.5h2M494 236.5h2M501 236.5h1M508 236.5h1M514 236.5h4M520 236.5h3M524 236.5h7M150 237.5h4M158 237.5h3M166 237.5h5M177 237.5h6M185 237.5h1M187 237.5h2M192 237.5h9M269 237.5h1M429 237.5h1M512 237.5h21M150 238.5h32M183 238.5h11M201 238.5h15M219 238.5h2M230 238.5h1M497 238.5h3M504 238.5h3M525 238.5h15M543 238.5h3M150 239.5h1M156 239.5h1M159 239.5h5M170 239.5h4M175 239.5h1M181 239.5h6M196 239.5h1M216 239.5h2M236 239.5h1M374 239.5h1M510 239.5h1M521 239.5h5M150 240.5h6M157 240.5h30M192 240.5h1M195 240.5h4M222 240.5h1M228 240.5h4M458 240.5h1M500 240.5h1M509 240.5h1M511 240.5h7M519 240.5h8M529 240.5h3M542 240.5h3M157 241.5h3M166 241.5h1M171 241.5h1M173 241.5h1M177 241.5h4M182 241.5h3M188 241.5h3M198 241.5h1M205 241.5h1M265 241.5h1M312 241.5h1M403 241.5h1M505 241.5h2M538 241.5h6M150 242.5h2M154 242.5h5M168 242.5h2M171 242.5h1M173 242.5h10M192 242.5h7M212 242.5h4M227 242.5h1M231 242.5h1M503 242.5h7M511 242.5h1M513 242.5h11M528 242.5h6M535 242.5h11M150 243.5h1M156 243.5h2M159 243.5h2M167 243.5h2M177 243.5h12M191 243.5h2M214 243.5h1M225 243.5h1M273 243.5h1M505 243.5h1M507 243.5h1M515 243.5h17M533 243.5h2M539 243.5h3M544 243.5h2M150 244.5h18M177 244.5h8M191 244.5h6M206 244.5h9M495 244.5h1M520 244.5h4M529 244.5h17M150 245.5h1M153 245.5h2M161 245.5h4M166 245.5h2M201 245.5h1M222 245.5h1M380 245.5h1M500 245.5h2M527 245.5h1M540 245.5h4M150 246.5h44M196 246.5h10M210 246.5h5M220 246.5h1M229 246.5h3M496 246.5h3M505 246.5h1M512 246.5h2M515 246.5h4M530 246.5h2M535 246.5h2M540 246.5h6M150 247.5h1M153 247.5h13M169 247.5h3M186 247.5h3M200 247.5h1M202 247.5h1M253 247.5h1M381 247.5h1M406 247.5h1M150 248.5h14M165 248.5h1M177 248.5h12M192 248.5h6M219 248.5h2M513 248.5h3M522 248.5h3M529 248.5h7M537 248.5h3M544 248.5h1M165 249.5h2M168 249.5h3M174 249.5h3M208 249.5h1M531 249.5h1M542 249.5h1M150 250.5h20M171 250.5h24M197 250.5h1M199 250.5h5M205 250.5h2M214 250.5h2M221 250.5h1M266 250.5h1M509 250.5h4M519 250.5h3M525 250.5h12M538 250.5h5M152 251.5h7M160 251.5h4M166 251.5h1M168 251.5h7M177 251.5h3M191 251.5h1M228 251.5h4M240 251.5h1M506 251.5h1M514 251.5h4M526 251.5h4M536 251.5h3M542 251.5h3M150 252.5h38M189 252.5h2M196 252.5h6M206 252.5h2M209 252.5h3M219 252.5h1M221 252.5h2M475 252.5h1M502 252.5h1M507 252.5h9M523 252.5h2M530 252.5h2M542 252.5h3M150 253.5h1M161 253.5h3M171 253.5h4M176 253.5h3M180 253.5h3M196 253.5h6M206 253.5h5M348 253.5h1M429 253.5h1M473 253.5h1M503 253.5h3M527 253.5h7M540 253.5h5M150 254.5h40M194 254.5h7M208 254.5h3M317 254.5h1M435 254.5h1M501 254.5h1M507 254.5h14M528 254.5h5M535 254.5h2M539 254.5h1M151 255.5h8M176 255.5h6M185 255.5h9M434 255.5h1M514 255.5h1M525 255.5h4M530 255.5h1M535 255.5h1M150 256.5h42M193 256.5h1M196 256.5h6M204 256.5h1M207 256.5h1M229 256.5h2M500 256.5h1M513 256.5h7M528 256.5h9M154 257.5h5M162 257.5h1M170 257.5h2M174 257.5h1M180 257.5h1M184 257.5h2M188 257.5h6M205 257.5h2M223 257.5h2M232 257.5h1M505 257.5h10M535 257.5h1M540 257.5h1M150 258.5h40M191 258.5h1M193 258.5h10M210 258.5h1M223 258.5h7M250 258.5h1M307 258.5h1M509 258.5h4M516 258.5h1M525 258.5h5M531 258.5h5M152 259.5h3M162 259.5h2M168 259.5h1M172 259.5h9M182 259.5h2M186 259.5h2M190 259.5h5M208 259.5h3M295 259.5h1M515 259.5h2M535 259.5h3M542 259.5h3M150 260.5h4M159 260.5h28M188 260.5h5M205 260.5h4M217 260.5h2M502 260.5h4M515 260.5h1M518 260.5h1M525 260.5h9M540 260.5h2M162 261.5h3M169 261.5h2M173 261.5h1M177 261.5h5M183 261.5h2M188 261.5h1M195 261.5h2M199 261.5h9M513 261.5h3M517 261.5h1M521 261.5h2M526 261.5h3M545 261.5h1M150 262.5h36M188 262.5h7M198 262.5h7M206 262.5h4M222 262.5h3M495 262.5h2M499 262.5h3M503 262.5h3M509 262.5h1M518 262.5h1M532 262.5h12M545 262.5h1M154 263.5h5M161 263.5h1M164 263.5h3M175 263.5h1M178 263.5h3M184 263.5h4M189 263.5h6M200 263.5h1M204 263.5h7M219 263.5h5M511 263.5h6M519 263.5h1M523 263.5h12M150 264.5h2M153 264.5h9M163 264.5h4M168 264.5h43M218 264.5h1M234 264.5h1M504 264.5h2M512 264.5h1M516 264.5h4M521 264.5h2M533 264.5h13M150 265.5h1M152 265.5h3M158 265.5h1M164 265.5h5M175 265.5h8M197 265.5h4M202 265.5h6M535 265.5h1M542 265.5h2M150 266.5h13M165 266.5h21M189 266.5h6M196 266.5h1M201 266.5h2M222 266.5h1M301 266.5h1M484 266.5h1M507 266.5h17M529 266.5h3M538 266.5h8M150 267.5h1M156 267.5h7M166 267.5h9M176 267.5h5M182 267.5h6M215 267.5h1M224 267.5h2M502 267.5h4M514 267.5h8M538 267.5h8M150 268.5h19M171 268.5h18M199 268.5h3M209 268.5h2M217 268.5h4M224 268.5h4M230 268.5h2M503 268.5h4M509 268.5h1M517 268.5h4M523 268.5h2M528 268.5h1M533 268.5h4M538 268.5h1M540 268.5h6M154 269.5h7M173 269.5h3M177 269.5h9M187 269.5h7M204 269.5h1M212 269.5h1M534 269.5h7M545 269.5h1M153 270.5h5M168 270.5h3M176 270.5h5M182 270.5h15M199 270.5h3M203 270.5h3M219 270.5h3M252 270.5h1M494 270.5h1M498 270.5h2M505 270.5h1M510 270.5h3M516 270.5h3M526 270.5h5M532 270.5h4M537 270.5h3M542 270.5h4M150 271.5h14M166 271.5h1M179 271.5h1M181 271.5h4M204 271.5h3M210 271.5h2M495 271.5h2M507 271.5h1M511 271.5h1M519 271.5h8M529 271.5h3M542 271.5h3M150 272.5h10M162 272.5h12M175 272.5h14M190 272.5h1M193 272.5h4M199 272.5h3M206 272.5h3M221 272.5h1M228 272.5h1M240 272.5h1M477 272.5h1M487 272.5h1M503 272.5h1M515 272.5h6M522 272.5h4M527 272.5h7M540 272.5h1M543 272.5h3M155 273.5h3M160 273.5h3M164 273.5h1M166 273.5h3M170 273.5h1M178 273.5h3M200 273.5h2M204 273.5h6M522 273.5h4M529 273.5h2M541 273.5h5M150 274.5h30M181 274.5h6M188 274.5h2M192 274.5h1M198 274.5h2M205 274.5h2M216 274.5h1M227 274.5h3M418 274.5h1M432 274.5h1M507 274.5h4M515 274.5h4M521 274.5h25M151 275.5h13M168 275.5h1M170 275.5h1M192 275.5h1M417 275.5h1M500 275.5h2M532 275.5h2M544 275.5h2M150 276.5h34M187 276.5h4M193 276.5h2M198 276.5h1M205 276.5h5M215 276.5h1M219 276.5h1M222 276.5h1M230 276.5h3M253 276.5h1M505 276.5h3M518 276.5h4M524 276.5h1M528 276.5h1M530 276.5h7M541 276.5h5M150 277.5h2M164 277.5h1M168 277.5h7M177 277.5h1M180 277.5h1M202 277.5h2M512 277.5h7M538 277.5h3M543 277.5h1M150 278.5h37M188 278.5h10M202 278.5h6M218 278.5h2M387 278.5h1M496 278.5h1M514 278.5h2M518 278.5h4M529 278.5h2M532 278.5h2M536 278.5h10M153 279.5h4M159 279.5h1M163 279.5h1M167 279.5h4M174 279.5h7M188 279.5h2M198 279.5h8M216 279.5h4M502 279.5h2M511 279.5h1M524 279.5h1M537 279.5h5M543 279.5h3M151 280.5h36M197 280.5h1M210 280.5h1M214 280.5h9M314 280.5h1M492 280.5h1M512 280.5h1M515 280.5h1M526 280.5h1M540 280.5h6M150 281.5h1M152 281.5h1M155 281.5h3M161 281.5h2M166 281.5h4M174 281.5h7M191 281.5h6M251 281.5h1M508 281.5h3M513 281.5h1M150 282.5h49M204 282.5h1M206 282.5h5M219 282.5h5M476 282.5h1M511 282.5h1M515 282.5h1M523 282.5h2M526 282.5h2M529 282.5h16M156 283.5h5M165 283.5h7M180 283.5h4M186 283.5h10M197 283.5h1M515 283.5h1M519 283.5h4M533 283.5h1M539 283.5h5M150 284.5h39M190 284.5h5M201 284.5h4M212 284.5h1M227 284.5h1M231 284.5h1M513 284.5h25M540 284.5h6M150 285.5h1M154 285.5h7M171 285.5h1M175 285.5h1M177 285.5h1M181 285.5h3M189 285.5h1M198 285.5h5M207 285.5h1M210 285.5h1M213 285.5h4M218 285.5h1M233 285.5h1M474 285.5h1M516 285.5h5M526 285.5h2M536 285.5h10M150 286.5h12M164 286.5h22M189 286.5h5M195 286.5h4M220 286.5h8M229 286.5h2M521 286.5h1M523 286.5h1M526 286.5h20M165 287.5h2M168 287.5h9M184 287.5h4M199 287.5h2M206 287.5h1M215 287.5h7M233 287.5h1M511 287.5h1M526 287.5h5M154 288.5h12M170 288.5h6M177 288.5h5M183 288.5h11M203 288.5h3M229 288.5h1M499 288.5h3M504 288.5h4M509 288.5h3M528 288.5h2M534 288.5h2M539 288.5h7M150 289.5h6M160 289.5h3M171 289.5h2M181 289.5h3M193 289.5h9M210 289.5h4M219 289.5h1M226 289.5h3M510 289.5h1M512 289.5h1M530 289.5h6M150 290.5h43M204 290.5h9M214 290.5h4M222 290.5h1M224 290.5h3M499 290.5h3M503 290.5h6M511 290.5h2M517 290.5h17M535 290.5h3M540 290.5h6M155 291.5h4M176 291.5h1M186 291.5h4M210 291.5h1M506 291.5h2M518 291.5h2M538 291.5h8M150 292.5h12M171 292.5h1M181 292.5h15M197 292.5h10M214 292.5h2M224 292.5h3M517 292.5h1M522 292.5h6M529 292.5h3M533 292.5h3M545 292.5h1M150 293.5h1M152 293.5h7M162 293.5h2M166 293.5h3M187 293.5h1M195 293.5h6M210 293.5h1M213 293.5h1M220 293.5h1M505 293.5h4M511 293.5h3M518 293.5h2M538 293.5h6M150 294.5h27M178 294.5h9M192 294.5h1M194 294.5h2M198 294.5h8M207 294.5h1M211 294.5h3M224 294.5h3M305 294.5h1M500 294.5h2M504 294.5h4M513 294.5h3M532 294.5h1M536 294.5h3M542 294.5h4M153 295.5h5M159 295.5h6M169 295.5h7M425 295.5h1M428 295.5h1M499 295.5h2M506 295.5h2M529 295.5h2M535 295.5h1M152 296.5h48M201 296.5h2M205 296.5h1M208 296.5h2M212 296.5h1M228 296.5h1M494 296.5h1M506 296.5h3M527 296.5h19M150 297.5h2M155 297.5h1M165 297.5h3M169 297.5h14M190 297.5h2M193 297.5h1M199 297.5h2M218 297.5h3M525 297.5h4M535 297.5h2M544 297.5h2M150 298.5h23M174 298.5h16M193 298.5h1M195 298.5h2M207 298.5h4M216 298.5h4M262 298.5h1M502 298.5h1M513 298.5h7M522 298.5h4M531 298.5h2M536 298.5h7M150 299.5h2M164 299.5h1M166 299.5h1M168 299.5h3M185 299.5h2M189 299.5h3M195 299.5h2M220 299.5h4M228 299.5h1M495 299.5h1M502 299.5h1M516 299.5h1M531 299.5h1M534 299.5h1M539 299.5h5M150 300.5h17M176 300.5h20M198 300.5h6M246 300.5h1M290 300.5h1M503 300.5h4M508 300.5h1M518 300.5h2M531 300.5h4M538 300.5h5M545 300.5h1M154 301.5h3M160 301.5h4M168 301.5h7M179 301.5h4M205 301.5h2M208 301.5h1M513 301.5h4M541 301.5h1M150 302.5h14M166 302.5h3M170 302.5h19M204 302.5h2M217 302.5h5M259 302.5h1M500 302.5h3M513 302.5h1M526 302.5h5M533 302.5h1M537 302.5h3M542 302.5h4M150 303.5h6M163 303.5h21M187 303.5h3M196 303.5h3M206 303.5h2M296 303.5h1M302 303.5h1M408 303.5h1M428 303.5h1M496 303.5h2M504 303.5h1M521 303.5h1M524 303.5h6M542 303.5h4M150 304.5h39M191 304.5h3M195 304.5h2M209 304.5h2M510 304.5h1M518 304.5h3M528 304.5h5M535 304.5h4M540 304.5h6M150 305.5h1M160 305.5h2M169 305.5h6M178 305.5h2M184 305.5h2M188 305.5h5M308 305.5h1M472 305.5h1M515 305.5h3M529 305.5h1M538 305.5h2M542 305.5h4M150 306.5h3M154 306.5h32M188 306.5h2M192 306.5h1M197 306.5h9M229 306.5h1M275 306.5h1M511 306.5h4M516 306.5h2M525 306.5h1M528 306.5h1M530 306.5h5M536 306.5h3M544 306.5h2M157 307.5h3M169 307.5h3M174 307.5h3M184 307.5h3M191 307.5h5M496 307.5h2M508 307.5h1M538 307.5h4M150 308.5h3M154 308.5h13M168 308.5h18M188 308.5h14M500 308.5h4M519 308.5h3M534 308.5h8M150 309.5h7M170 309.5h2M173 309.5h1M180 309.5h1M186 309.5h2M509 309.5h2M521 309.5h4M528 309.5h2M150 310.5h35M186 310.5h7M195 310.5h5M208 310.5h8M224 310.5h1M406 310.5h1M494 310.5h2M501 310.5h8M512 310.5h14M528 310.5h18M151 311.5h1M158 311.5h1M160 311.5h4M166 311.5h10M179 311.5h1M181 311.5h7M195 311.5h1M234 311.5h1M327 311.5h1M523 311.5h4M531 311.5h3M545 311.5h1M150 312.5h12M168 312.5h14M189 312.5h5M202 312.5h5M221 312.5h2M519 312.5h3M524 312.5h9M150 313.5h10M164 313.5h2M175 313.5h4M189 313.5h2M195 313.5h1M197 313.5h1M208 313.5h2M222 313.5h8M275 313.5h1M501 313.5h1M509 313.5h3M514 313.5h2M536 313.5h2M150 314.5h11M165 314.5h17M185 314.5h8M194 314.5h1M202 314.5h1M226 314.5h3M279 314.5h1M357 314.5h1M424 314.5h1M504 314.5h2M508 314.5h1M532 314.5h8M541 314.5h1M544 314.5h2M154 315.5h2M159 315.5h3M165 315.5h2M172 315.5h4M178 315.5h16M199 315.5h1M219 315.5h4M229 315.5h1M325 315.5h1M402 315.5h1M509 315.5h11M529 315.5h7M545 315.5h1M150 316.5h10M163 316.5h4M169 316.5h22M194 316.5h2M198 316.5h2M201 316.5h4M209 316.5h6M218 316.5h5M224 316.5h1M364 316.5h1M410 316.5h1M514 316.5h2M519 316.5h8M529 316.5h13M545 316.5h1M163 317.5h3M178 317.5h2M182 317.5h10M232 317.5h1M519 317.5h13M152 318.5h38M193 318.5h2M197 318.5h6M225 318.5h4M232 318.5h1M245 318.5h1M363 318.5h1M499 318.5h4M519 318.5h1M522 318.5h9M538 318.5h8M150 319.5h12M168 319.5h7M176 319.5h1M192 319.5h6M201 319.5h7M216 319.5h5M227 319.5h6M391 319.5h1M502 319.5h1M524 319.5h1M535 319.5h2M543 319.5h2M150 320.5h5M161 320.5h2M168 320.5h8M177 320.5h24M208 320.5h3M320 320.5h1M391 320.5h1M510 320.5h9M520 320.5h1M525 320.5h4M544 320.5h2M160 321.5h2M165 321.5h3M171 321.5h4M347 321.5h1M522 321.5h1M536 321.5h1M542 321.5h1M150 322.5h12M168 322.5h4M174 322.5h1M177 322.5h5M185 322.5h11M197 322.5h3M202 322.5h1M216 322.5h1M501 322.5h1M508 322.5h1M516 322.5h2M536 322.5h7M150 323.5h5M158 323.5h2M166 323.5h4M177 323.5h5M183 323.5h6M197 323.5h4M217 323.5h1M221 323.5h4M234 323.5h1M496 323.5h1M514 323.5h2M517 323.5h2M529 323.5h3M540 323.5h6M150 324.5h27M178 324.5h19M201 324.5h3M210 324.5h2M215 324.5h6M232 324.5h1M498 324.5h6M510 324.5h1M517 324.5h2M522 324.5h15M541 324.5h1M545 324.5h1M155 325.5h4M161 325.5h2M165 325.5h4M171 325.5h2M181 325.5h4M223 325.5h1M472 325.5h1M521 325.5h8M150 326.5h22M173 326.5h20M199 326.5h1M207 326.5h2M211 326.5h2M228 326.5h1M401 326.5h1M451 326.5h1M463 326.5h1M512 326.5h2M524 326.5h10M537 326.5h9M153 327.5h4M161 327.5h2M179 327.5h1M181 327.5h5M194 327.5h4M204 327.5h2M221 327.5h1M226 327.5h1M423 327.5h1M521 327.5h5M150 328.5h38M189 328.5h4M198 328.5h1M206 328.5h1M208 328.5h3M220 328.5h1M225 328.5h3M436 328.5h1M501 328.5h5M517 328.5h3M525 328.5h16M543 328.5h3M150 329.5h2M161 329.5h4M167 329.5h7M186 329.5h3M504 329.5h3M519 329.5h21M150 330.5h10M161 330.5h1M163 330.5h2M166 330.5h12M179 330.5h9M192 330.5h7M202 330.5h4M258 330.5h1M431 330.5h1M516 330.5h8M540 330.5h2M544 330.5h2M150 331.5h1M168 331.5h4M178 331.5h1M189 331.5h1M191 331.5h1M196 331.5h1M201 331.5h1M203 331.5h2M219 331.5h1M472 331.5h1M533 331.5h2M150 332.5h49M202 332.5h6M226 332.5h5M280 332.5h1M405 332.5h1M499 332.5h1M503 332.5h5M517 332.5h6M528 332.5h1M532 332.5h5M540 332.5h3M150 333.5h1M154 333.5h3M158 333.5h1M163 333.5h3M183 333.5h6M230 333.5h2M502 333.5h3M519 333.5h1M538 333.5h1M150 334.5h9M160 334.5h15M176 334.5h14M191 334.5h5M197 334.5h8M208 334.5h4M213 334.5h2M222 334.5h4M234 334.5h1M323 334.5h1M384 334.5h1M516 334.5h5M528 334.5h5M539 334.5h7M150 335.5h1M164 335.5h1M168 335.5h2M171 335.5h2M178 335.5h8M190 335.5h2M198 335.5h1M201 335.5h3M208 335.5h1M545 335.5h1M150 336.5h26M177 336.5h27M266 336.5h1M502 336.5h2M506 336.5h3M513 336.5h12M526 336.5h12M543 336.5h3M153 337.5h8M173 337.5h1M175 337.5h9M202 337.5h1M219 337.5h1M329 337.5h1M503 337.5h1M512 337.5h1M535 337.5h4M150 338.5h2M159 338.5h13M173 338.5h23M197 338.5h2M201 338.5h4M206 338.5h3M432 338.5h1M500 338.5h1M509 338.5h1M525 338.5h4M531 338.5h8M542 338.5h2M153 339.5h2M162 339.5h5M171 339.5h3M204 339.5h7M225 339.5h1M527 339.5h4M541 339.5h5M150 340.5h51M208 340.5h4M213 340.5h3M504 340.5h2M534 340.5h12M154 341.5h3M165 341.5h2M169 341.5h1M176 341.5h3M180 341.5h2M188 341.5h8M199 341.5h1M327 341.5h1M500 341.5h11M515 341.5h1M150 342.5h12M164 342.5h24M198 342.5h9M235 342.5h1M269 342.5h1M500 342.5h4M508 342.5h1M513 342.5h2M529 342.5h1M537 342.5h9M156 343.5h2M180 343.5h1M183 343.5h4M200 343.5h1M202 343.5h5M284 343.5h1M481 343.5h1M506 343.5h4M521 343.5h6M530 343.5h6M150 344.5h16M171 344.5h14M187 344.5h2M192 344.5h11M206 344.5h3M210 344.5h2M225 344.5h2M346 344.5h1M512 344.5h5M527 344.5h6M537 344.5h2M542 344.5h2M150 345.5h1M165 345.5h1M174 345.5h1M181 345.5h3M186 345.5h3M207 345.5h5M219 345.5h1M531 345.5h5M150 346.5h22M173 346.5h15M190 346.5h1M192 346.5h8M201 346.5h7M234 346.5h1M316 346.5h1M439 346.5h1M495 346.5h1M506 346.5h2M513 346.5h5M520 346.5h10M533 346.5h1M536 346.5h10M157 347.5h4M166 347.5h2M171 347.5h7M183 347.5h12M199 347.5h1M206 347.5h2M533 347.5h2M537 347.5h5M543 347.5h3M152 348.5h8M161 348.5h2M168 348.5h6M175 348.5h1M180 348.5h5M190 348.5h3M195 348.5h9M206 348.5h1M209 348.5h3M213 348.5h3M303 348.5h1M434 348.5h1M496 348.5h19M529 348.5h4M536 348.5h2M541 348.5h5M154 349.5h1M158 349.5h14M209 349.5h2M224 349.5h4M503 349.5h2M507 349.5h1M525 349.5h1M529 349.5h4M154 350.5h45M200 350.5h4M223 350.5h3M495 350.5h2M502 350.5h5M511 350.5h1M531 350.5h2M537 350.5h9M150 351.5h9M165 351.5h1M168 351.5h10M183 351.5h4M219 351.5h2M509 351.5h1M530 351.5h3M152 352.5h7M162 352.5h2M169 352.5h20M193 352.5h4M198 352.5h2M201 352.5h4M217 352.5h1M352 352.5h1M469 352.5h1M496 352.5h4M515 352.5h5M523 352.5h1M526 352.5h1M530 352.5h10M543 352.5h3M150 353.5h6M158 353.5h1M166 353.5h2M181 353.5h1M185 353.5h1M197 353.5h11M228 353.5h3M238 353.5h1M508 353.5h2M526 353.5h8M536 353.5h2M543 353.5h3M150 354.5h33M185 354.5h7M193 354.5h7M202 354.5h3M206 354.5h2M210 354.5h4M241 354.5h1M316 354.5h1M496 354.5h2M499 354.5h10M511 354.5h3M522 354.5h1M529 354.5h2M533 354.5h12M150 355.5h2M158 355.5h8M167 355.5h1M173 355.5h10M185 355.5h3M199 355.5h3M226 355.5h1M228 355.5h4M503 355.5h1M507 355.5h5M522 355.5h3M543 355.5h1M150 356.5h16M167 356.5h16M184 356.5h5M204 356.5h3M215 356.5h1M217 356.5h1M232 356.5h2M316 356.5h1M500 356.5h2M508 356.5h3M515 356.5h2M521 356.5h15M538 356.5h8M154 357.5h1M158 357.5h4M170 357.5h7M179 357.5h2M193 357.5h7M527 357.5h1M536 357.5h4M544 357.5h2M150 358.5h18M170 358.5h27M207 358.5h9M232 358.5h2M359 358.5h1M501 358.5h1M503 358.5h1M510 358.5h8M533 358.5h1M536 358.5h1M154 359.5h2M162 359.5h2M171 359.5h3M180 359.5h3M188 359.5h1M191 359.5h4M235 359.5h1M279 359.5h1M316 359.5h1M473 359.5h1M506 359.5h1M512 359.5h9M539 359.5h1M541 359.5h1M150 360.5h11M162 360.5h3M169 360.5h3M173 360.5h3M178 360.5h14M194 360.5h1M196 360.5h1M198 360.5h7M211 360.5h2M219 360.5h2M222 360.5h1M328 360.5h1M504 360.5h2M513 360.5h3M523 360.5h1M532 360.5h14M153 361.5h2M170 361.5h3M174 361.5h1M184 361.5h3M189 361.5h2M216 361.5h1M317 361.5h1M475 361.5h1M498 361.5h2M513 361.5h1M517 361.5h5M533 361.5h5M150 362.5h23M176 362.5h1M181 362.5h12M479 362.5h1M515 362.5h7M530 362.5h2M538 362.5h1M541 362.5h5M150 363.5h1M154 363.5h5M168 363.5h14M201 363.5h2M204 363.5h1M217 363.5h2M224 363.5h1M229 363.5h4M290 363.5h1M428 363.5h1M496 363.5h4M523 363.5h2M528 363.5h1M534 363.5h1M150 364.5h15M177 364.5h14M192 364.5h2M195 364.5h2M198 364.5h13M235 364.5h1M312 364.5h1M447 364.5h1M494 364.5h1M502 364.5h4M510 364.5h9M526 364.5h7M534 364.5h5M159 365.5h3M167 365.5h4M177 365.5h8M191 365.5h3M198 365.5h3M225 365.5h1M232 365.5h2M307 365.5h1M412 365.5h1M498 365.5h1M501 365.5h8M525 365.5h4M540 365.5h2M545 365.5h1M150 366.5h4M157 366.5h4M164 366.5h22M189 366.5h8M203 366.5h8M499 366.5h7M511 366.5h1M513 366.5h1M515 366.5h2M519 366.5h11M533 366.5h2M537 366.5h4M150 367.5h1M158 367.5h2M170 367.5h5M178 367.5h10M193 367.5h1M218 367.5h1M507 367.5h2M517 367.5h2M525 367.5h4M150 368.5h4M160 368.5h13M174 368.5h10M187 368.5h1M190 368.5h2M195 368.5h1M209 368.5h5M468 368.5h1M526 368.5h2M533 368.5h6M543 368.5h3M151 369.5h1M156 369.5h5M162 369.5h17M181 369.5h2M188 369.5h1M193 369.5h2M198 369.5h1M217 369.5h1M222 369.5h7M510 369.5h1M520 369.5h2M525 369.5h1M533 369.5h2M536 369.5h2M542 369.5h4M150 370.5h9M160 370.5h18M180 370.5h4M187 370.5h8M196 370.5h4M201 370.5h4M210 370.5h12M228 370.5h6M265 370.5h1M497 370.5h1M510 370.5h11M529 370.5h2M155 371.5h3M507 371.5h1M544 371.5h2M150 372.5h23M174 372.5h13M188 372.5h13M205 372.5h2M214 372.5h2M218 372.5h4M228 372.5h2M525 372.5h15M544 372.5h2M156 373.5h2M165 373.5h7M187 373.5h7M200 373.5h3M214 373.5h1M526 373.5h6M535 373.5h1M150 374.5h18M170 374.5h18M192 374.5h6M206 374.5h1M229 374.5h5M433 374.5h1M479 374.5h1M504 374.5h1M510 374.5h1M515 374.5h12M529 374.5h3M533 374.5h1M535 374.5h5M542 374.5h4M155 375.5h1M157 375.5h5M168 375.5h12M181 375.5h4M211 375.5h3M235 375.5h1M294 375.5h1M411 375.5h1M501 375.5h1M510 375.5h3M518 375.5h4M524 375.5h5M534 375.5h10M150 376.5h9M160 376.5h40M205 376.5h2M210 376.5h2M217 376.5h2M224 376.5h2M232 376.5h2M503 376.5h2M510 376.5h12M525 376.5h12M538 376.5h1M540 376.5h6M156 377.5h1M164 377.5h2M169 377.5h7M187 377.5h1M215 377.5h1M294 377.5h1M498 377.5h2M540 377.5h4M150 378.5h12M163 378.5h5M171 378.5h18M193 378.5h4M202 378.5h3M208 378.5h1M226 378.5h7M270 378.5h1M495 378.5h1M504 378.5h10M515 378.5h4M522 378.5h1M536 378.5h10M150 379.5h4M162 379.5h3M173 379.5h10M220 379.5h3M509 379.5h1M515 379.5h1M536 379.5h3M150 380.5h6M158 380.5h18M177 380.5h8M189 380.5h16M207 380.5h2M213 380.5h10M502 380.5h3M512 380.5h1M514 380.5h4M523 380.5h3M528 380.5h11M541 380.5h5M150 381.5h2M156 381.5h6M169 381.5h1M172 381.5h2M178 381.5h5M207 381.5h1M495 381.5h1M499 381.5h2M508 381.5h2M512 381.5h5M525 381.5h5M537 381.5h2M541 381.5h3M545 381.5h1M151 382.5h26M182 382.5h14M203 382.5h1M211 382.5h3M220 382.5h3M226 382.5h2M327 382.5h1M364 382.5h1M498 382.5h2M512 382.5h2M515 382.5h5M528 382.5h1M535 382.5h5M543 382.5h3M150 383.5h1M161 383.5h12M175 383.5h3M179 383.5h5M190 383.5h4M206 383.5h4M218 383.5h1M236 383.5h1M356 383.5h1M495 383.5h2M514 383.5h2M517 383.5h2M523 383.5h1M531 383.5h5M542 383.5h3M150 384.5h38M189 384.5h9M199 384.5h1M206 384.5h4M218 384.5h1M225 384.5h1M328 384.5h1M505 384.5h2M509 384.5h3M516 384.5h7M526 384.5h6M533 384.5h9M152 385.5h7M161 385.5h2M166 385.5h7M180 385.5h15M198 385.5h3M205 385.5h1M346 385.5h1M496 385.5h1M503 385.5h2M507 385.5h1M513 385.5h5M519 385.5h2M539 385.5h2M150 386.5h12M168 386.5h34M222 386.5h3M230 386.5h1M506 386.5h3M512 386.5h2M516 386.5h8M526 386.5h8M543 386.5h1M152 387.5h3M158 387.5h4M165 387.5h8M183 387.5h4M198 387.5h1M523 387.5h4M535 387.5h3M539 387.5h2M150 388.5h27M178 388.5h21M200 388.5h2M204 388.5h4M225 388.5h1M227 388.5h7M296 388.5h1M310 388.5h1M519 388.5h11M538 388.5h8M150 389.5h3M154 389.5h13M169 389.5h4M177 389.5h4M182 389.5h1M186 389.5h3M198 389.5h8M208 389.5h3M317 389.5h1M476 389.5h1M508 389.5h5M517 389.5h2M526 389.5h4M532 389.5h1M537 389.5h1M150 390.5h10M167 390.5h23M192 390.5h5M198 390.5h8M213 390.5h1M215 390.5h4M495 390.5h3M500 390.5h11M512 390.5h3M517 390.5h1M522 390.5h4M529 390.5h12M543 390.5h3M156 391.5h2M162 391.5h4M169 391.5h3M173 391.5h4M184 391.5h4M191 391.5h1M221 391.5h2M252 391.5h1M478 391.5h1M518 391.5h2M533 391.5h1M539 391.5h3M150 392.5h2M154 392.5h8M169 392.5h5M178 392.5h5M187 392.5h5M201 392.5h7M210 392.5h2M214 392.5h1M221 392.5h4M268 392.5h1M508 392.5h5M521 392.5h2M531 392.5h7M539 392.5h1M168 393.5h8M178 393.5h1M182 393.5h1M200 393.5h1M202 393.5h1M282 393.5h1M503 393.5h9M525 393.5h4M536 393.5h10M150 394.5h37M188 394.5h12M201 394.5h2M207 394.5h4M214 394.5h6M221 394.5h6M232 394.5h2M313 394.5h1M505 394.5h5M516 394.5h2M524 394.5h12M541 394.5h5M150 395.5h11M167 395.5h12M180 395.5h6M189 395.5h2M215 395.5h2M227 395.5h3M509 395.5h2M541 395.5h5M150 396.5h17M170 396.5h38M209 396.5h1M216 396.5h1M227 396.5h1M510 396.5h1M515 396.5h5M521 396.5h6M530 396.5h13M150 397.5h2M153 397.5h1M156 397.5h1M171 397.5h3M189 397.5h5M195 397.5h1M207 397.5h3M240 397.5h1M509 397.5h4M521 397.5h2M525 397.5h3M532 397.5h8M542 397.5h1M150 398.5h1M155 398.5h8M168 398.5h8M177 398.5h12M197 398.5h3M207 398.5h1M215 398.5h3M223 398.5h3M230 398.5h4M372 398.5h1M498 398.5h3M506 398.5h4M511 398.5h3M517 398.5h17M539 398.5h3M543 398.5h3M150 399.5h1M155 399.5h4M164 399.5h2M175 399.5h1M181 399.5h2M195 399.5h1M199 399.5h1M428 399.5h1M155 400.5h12M169 400.5h3M173 400.5h10M184 400.5h10M207 400.5h2M513 400.5h2M516 400.5h2M519 400.5h3M523 400.5h1M526 400.5h10M539 400.5h7M155 401.5h7M164 401.5h1M168 401.5h3M174 401.5h1M179 401.5h9M193 401.5h4M199 401.5h2M297 401.5h1M523 401.5h8M542 401.5h2M150 402.5h48M199 402.5h1M202 402.5h7M214 402.5h2M217 402.5h5M231 402.5h1M289 402.5h1M497 402.5h1M503 402.5h4M521 402.5h2M528 402.5h9M541 402.5h2M155 403.5h4M172 403.5h1M175 403.5h2M181 403.5h8M200 403.5h1M464 403.5h1M513 403.5h3M528 403.5h1M531 403.5h3M537 403.5h3M150 404.5h54M208 404.5h1M214 404.5h7M222 404.5h2M226 404.5h7M510 404.5h5M517 404.5h1M519 404.5h1M523 404.5h3M529 404.5h1M537 404.5h2M151 405.5h1M158 405.5h4M164 405.5h15M180 405.5h7M202 405.5h1M330 405.5h1M502 405.5h1M521 405.5h1M524 405.5h5M540 405.5h1M150 406.5h14M165 406.5h5M171 406.5h21M197 406.5h4M233 406.5h2M427 406.5h1M527 406.5h1M531 406.5h1M540 406.5h4M545 406.5h1M150 407.5h1M153 407.5h2M158 407.5h3M169 407.5h4M176 407.5h2M182 407.5h6M213 407.5h1M419 407.5h1M511 407.5h3M528 407.5h1M150 408.5h36M195 408.5h4M203 408.5h4M211 408.5h5M274 408.5h1M496 408.5h1M499 408.5h2M502 408.5h3M514 408.5h23M540 408.5h3M544 408.5h2M155 409.5h1M161 409.5h12M187 409.5h1M193 409.5h1M196 409.5h1M247 409.5h1M495 409.5h2M509 409.5h1M516 409.5h2M524 409.5h9M545 409.5h1M150 410.5h4M155 410.5h19M176 410.5h13M190 410.5h3M198 410.5h7M208 410.5h7M509 410.5h1M521 410.5h8M533 410.5h2M536 410.5h2M540 410.5h3M152 411.5h5M158 411.5h8M167 411.5h2M178 411.5h1M181 411.5h3M186 411.5h8M200 411.5h2M203 411.5h6M224 411.5h1M469 411.5h1M496 411.5h1M525 411.5h3M541 411.5h5M150 412.5h52M208 412.5h5M226 412.5h1M255 412.5h1M372 412.5h1M497 412.5h2M511 412.5h3M519 412.5h2M528 412.5h14M545 412.5h1M150 413.5h3M157 413.5h3M169 413.5h5M180 413.5h5M502 413.5h3M511 413.5h5M521 413.5h2M527 413.5h3M541 413.5h4M150 414.5h2M155 414.5h20M176 414.5h11M201 414.5h2M204 414.5h1M207 414.5h3M217 414.5h4M228 414.5h3M431 414.5h1M501 414.5h1M509 414.5h1M526 414.5h7M537 414.5h1M539 414.5h3M543 414.5h1M150 415.5h2M158 415.5h2M162 415.5h2M169 415.5h5M178 415.5h4M184 415.5h6M201 415.5h3M209 415.5h3M288 415.5h1M520 415.5h1M532 415.5h6M544 415.5h2M150 416.5h1M154 416.5h7M162 416.5h23M189 416.5h3M197 416.5h6M205 416.5h4M226 416.5h1M230 416.5h1M480 416.5h1M503 416.5h2M506 416.5h1M509 416.5h9M522 416.5h11M544 416.5h2M154 417.5h24M184 417.5h2M193 417.5h1M199 417.5h4M206 417.5h2M223 417.5h3M521 417.5h6M528 417.5h2M532 417.5h3M541 417.5h3M150 418.5h27M180 418.5h3M189 418.5h2M193 418.5h4M207 418.5h1M209 418.5h3M214 418.5h6M227 418.5h1M398 418.5h1M500 418.5h1M511 418.5h2M514 418.5h4M522 418.5h5M532 418.5h8M150 419.5h2M153 419.5h2M157 419.5h3M165 419.5h2M168 419.5h13M189 419.5h1M191 419.5h6M198 419.5h10M209 419.5h1M211 419.5h1M374 419.5h1M530 419.5h13M150 420.5h46M199 420.5h3M205 420.5h1M207 420.5h4M213 420.5h3M217 420.5h1M219 420.5h1M222 420.5h3M426 420.5h1M435 420.5h1M508 420.5h5M521 420.5h2M529 420.5h9M150 421.5h14M170 421.5h4M189 421.5h1M201 421.5h3M220 421.5h3M490 421.5h2M510 421.5h2M530 421.5h4M151 422.5h36M188 422.5h3M193 422.5h3M208 422.5h9M220 422.5h2M223 422.5h4M253 422.5h1M347 422.5h1M508 422.5h1M510 422.5h6M524 422.5h5M533 422.5h7M154 423.5h2M167 423.5h7M180 423.5h1M185 423.5h7M216 423.5h3M269 423.5h1M448 423.5h1M498 423.5h10M528 423.5h2M540 423.5h1M150 424.5h17M168 424.5h18M192 424.5h6M200 424.5h2M204 424.5h5M219 424.5h1M231 424.5h2M315 424.5h1M497 424.5h1M500 424.5h7M525 424.5h5M536 424.5h2M539 424.5h7M154 425.5h13M179 425.5h2M183 425.5h8M209 425.5h8M236 425.5h1M503 425.5h1M512 425.5h1M523 425.5h4M528 425.5h1M542 425.5h1M152 426.5h11M164 426.5h2M169 426.5h7M178 426.5h7M188 426.5h4M193 426.5h5M200 426.5h7M208 426.5h4M235 426.5h1M452 426.5h1M495 426.5h3M509 426.5h10M524 426.5h7M533 426.5h1M535 426.5h3M150 427.5h2M154 427.5h2M163 427.5h9M179 427.5h7M190 427.5h1M208 427.5h2M506 427.5h1M508 427.5h1M516 427.5h9M528 427.5h1M536 427.5h8M150 428.5h10M161 428.5h10M176 428.5h7M184 428.5h7M192 428.5h4M197 428.5h1M200 428.5h4M205 428.5h1M217 428.5h4M504 428.5h2M509 428.5h8M519 428.5h1M525 428.5h2M528 428.5h10M539 428.5h1M542 428.5h4M156 429.5h5M167 429.5h17M199 429.5h1M203 429.5h2M216 429.5h1M234 429.5h1M270 429.5h1M365 429.5h1M510 429.5h2M526 429.5h4M543 429.5h2M150 430.5h13M164 430.5h26M191 430.5h3M195 430.5h1M197 430.5h6M206 430.5h1M210 430.5h4M220 430.5h1M223 430.5h2M491 430.5h1M508 430.5h2M526 430.5h2M535 430.5h6M150 431.5h13M168 431.5h8M182 431.5h2M190 431.5h1M511 431.5h1M520 431.5h2M525 431.5h1M544 431.5h2M151 432.5h5M157 432.5h28M186 432.5h2M195 432.5h3M201 432.5h13M221 432.5h4M235 432.5h1M509 432.5h9M523 432.5h12M536 432.5h1M541 432.5h5M150 433.5h2M168 433.5h2M172 433.5h2M179 433.5h4M186 433.5h4M194 433.5h2M203 433.5h2M208 433.5h2M217 433.5h1M226 433.5h4M475 433.5h1M502 433.5h3M514 433.5h4M530 433.5h3M542 433.5h1M544 433.5h2M150 434.5h11M162 434.5h13M176 434.5h18M199 434.5h3M204 434.5h3M224 434.5h4M235 434.5h1M507 434.5h5M521 434.5h14M537 434.5h4M542 434.5h4M153 435.5h4M167 435.5h1M172 435.5h1M175 435.5h9M191 435.5h3M202 435.5h3M407 435.5h1M505 435.5h1M509 435.5h1M521 435.5h4M150 436.5h9M165 436.5h26M194 436.5h15M223 436.5h2M507 436.5h1M510 436.5h8M519 436.5h1M525 436.5h12M541 436.5h5M157 437.5h5M173 437.5h1M188 437.5h4M202 437.5h9M238 437.5h1M318 437.5h1M528 437.5h1M532 437.5h2M535 437.5h2M543 437.5h1M150 438.5h4M156 438.5h12M169 438.5h5M175 438.5h12M189 438.5h8M199 438.5h7M207 438.5h2M211 438.5h2M219 438.5h3M227 438.5h2M245 438.5h1M518 438.5h10M536 438.5h1M545 438.5h1M150 439.5h9M160 439.5h1M190 439.5h1M201 439.5h2M208 439.5h6M216 439.5h2M360 439.5h1M515 439.5h2M528 439.5h4M543 439.5h2M150 440.5h47M199 440.5h5M206 440.5h5M301 440.5h1M512 440.5h4M524 440.5h1M527 440.5h4M533 440.5h2M539 440.5h7M150 441.5h6M161 441.5h6M172 441.5h7M185 441.5h7M198 441.5h6M210 441.5h2M510 441.5h2M534 441.5h4M545 441.5h1M150 442.5h15M166 442.5h22M197 442.5h5M206 442.5h15M224 442.5h5M230 442.5h1M232 442.5h2M455 442.5h1M496 442.5h1M519 442.5h17M539 442.5h7M154 443.5h1M172 443.5h3M176 443.5h2M179 443.5h1M181 443.5h17M202 443.5h1M226 443.5h2M501 443.5h3M522 443.5h1M524 443.5h19M150 444.5h39M334 444.5h1M484 444.5h1M512 444.5h1M519 444.5h15M536 444.5h10M150 445.5h4M170 445.5h3M177 445.5h7M505 445.5h3M524 445.5h3M532 445.5h1M543 445.5h2M154 446.5h7M164 446.5h4M169 446.5h7M177 446.5h7M185 446.5h2M191 446.5h5M205 446.5h5M505 446.5h1M507 446.5h1M512 446.5h2M516 446.5h1M538 446.5h3M544 446.5h2M160 447.5h3M165 447.5h3M182 447.5h2M187 447.5h2M191 447.5h8M206 447.5h2M217 447.5h4M230 447.5h1M500 447.5h1M506 447.5h1M508 447.5h5M525 447.5h2M533 447.5h3M538 447.5h2M541 447.5h3M150 448.5h44M216 448.5h2M497 448.5h2M501 448.5h2M510 448.5h1M513 448.5h1M516 448.5h6M523 448.5h1M531 448.5h5M542 448.5h4M150 449.5h6M158 449.5h15M176 449.5h1M179 449.5h3M184 449.5h1M187 449.5h3M193 449.5h7M231 449.5h4M516 449.5h3M524 449.5h1M542 449.5h1M150 450.5h15M167 450.5h11M179 450.5h13M193 450.5h2M206 450.5h6M228 450.5h2M497 450.5h3M509 450.5h3M523 450.5h4M528 450.5h3M533 450.5h12M157 451.5h6M170 451.5h6M181 451.5h5M189 451.5h2M199 451.5h4M207 451.5h2M222 451.5h1M440 451.5h1M523 451.5h7M533 451.5h1M535 451.5h1M543 451.5h3M150 452.5h51M202 452.5h4M207 452.5h5M217 452.5h3M263 452.5h1M386 452.5h1M508 452.5h6M515 452.5h5M521 452.5h9M538 452.5h5M150 453.5h3M157 453.5h6M170 453.5h6M179 453.5h3M201 453.5h2M236 453.5h1M239 453.5h1M376 453.5h1M506 453.5h2M530 453.5h2M150 454.5h19M170 454.5h24M196 454.5h6M233 454.5h2M510 454.5h2M514 454.5h1M518 454.5h4M523 454.5h7M531 454.5h5M539 454.5h4M544 454.5h2M151 455.5h3M157 455.5h5M166 455.5h1M169 455.5h5M177 455.5h3M183 455.5h7M211 455.5h2M498 455.5h2M519 455.5h10M535 455.5h1M543 455.5h1M150 456.5h17M168 456.5h4M173 456.5h13M187 456.5h10M198 456.5h2M203 456.5h3M223 456.5h1M241 456.5h1M365 456.5h1M498 456.5h1M507 456.5h12M521 456.5h5M527 456.5h4M537 456.5h4M542 456.5h4M158 457.5h2M161 457.5h6M169 457.5h3M180 457.5h5M187 457.5h1M189 457.5h3M193 457.5h1M241 457.5h1M506 457.5h4M511 457.5h4M516 457.5h5M535 457.5h2M542 457.5h1M545 457.5h1M152 458.5h26M180 458.5h15M198 458.5h2M221 458.5h3M468 458.5h1M486 458.5h1M496 458.5h1M510 458.5h4M521 458.5h11M536 458.5h8M545 458.5h1M151 459.5h1M155 459.5h1M157 459.5h1M170 459.5h6M180 459.5h3M190 459.5h3M300 459.5h1M529 459.5h9M150 460.5h34M187 460.5h10M200 460.5h5M206 460.5h5M499 460.5h2M512 460.5h3M518 460.5h3M530 460.5h1M532 460.5h6M543 460.5h3M151 461.5h1M158 461.5h6M175 461.5h1M186 461.5h4M215 461.5h1M220 461.5h7M236 461.5h1M361 461.5h1M510 461.5h1M533 461.5h2M150 462.5h41M195 462.5h1M197 462.5h7M209 462.5h1M211 462.5h2M220 462.5h5M227 462.5h1M232 462.5h1M299 462.5h1M306 462.5h1M433 462.5h1M510 462.5h1M518 462.5h28M152 463.5h5M161 463.5h9M172 463.5h3M183 463.5h5M190 463.5h2M196 463.5h9M207 463.5h3M213 463.5h1M220 463.5h2M507 463.5h5M545 463.5h1M150 464.5h35M189 464.5h10M200 464.5h6M212 464.5h1M232 464.5h1M498 464.5h6M507 464.5h3M521 464.5h2M526 464.5h2M531 464.5h13M155 465.5h2M158 465.5h3M179 465.5h3M185 465.5h1M269 465.5h1M292 465.5h1M460 465.5h1M507 465.5h1M531 465.5h5M537 465.5h1M539 465.5h3M150 466.5h11M169 466.5h8M178 466.5h9M193 466.5h1M195 466.5h2M198 466.5h1M201 466.5h5M211 466.5h1M232 466.5h1M496 466.5h1M500 466.5h1M509 466.5h4M516 466.5h5M524 466.5h9M540 466.5h6M150 467.5h12M168 467.5h1M174 467.5h10M185 467.5h3M195 467.5h14M520 467.5h13M536 467.5h1M150 468.5h3M154 468.5h34M189 468.5h4M198 468.5h18M416 468.5h1M438 468.5h1M496 468.5h11M516 468.5h2M519 468.5h1M524 468.5h16M541 468.5h5M155 469.5h2M159 469.5h1M165 469.5h2M179 469.5h1M181 469.5h3M190 469.5h2M196 469.5h1M515 469.5h4M520 469.5h1M544 469.5h2M150 470.5h13M164 470.5h5M170 470.5h21M192 470.5h1M196 470.5h2M199 470.5h1M201 470.5h4M206 470.5h2M209 470.5h3M221 470.5h1M233 470.5h2M294 470.5h1M511 470.5h5M517 470.5h4M524 470.5h2M528 470.5h12M154 471.5h1M156 471.5h2M167 471.5h3M179 471.5h14M194 471.5h5M207 471.5h2M214 471.5h5M516 471.5h1M528 471.5h2M150 472.5h1M158 472.5h13M172 472.5h14M188 472.5h2M196 472.5h1M198 472.5h1M206 472.5h2M209 472.5h3M223 472.5h1M371 472.5h1M497 472.5h4M507 472.5h1M514 472.5h3M519 472.5h2M526 472.5h1M539 472.5h5M150 473.5h7M173 473.5h6M194 473.5h9M262 473.5h1M512 473.5h5M524 473.5h1M535 473.5h2M150 474.5h24M177 474.5h10M188 474.5h2M195 474.5h9M501 474.5h1M503 474.5h6M511 474.5h4M518 474.5h2M526 474.5h19M155 475.5h1M159 475.5h1M161 475.5h2M164 475.5h2M184 475.5h6M212 475.5h1M511 475.5h1M529 475.5h3M538 475.5h1M150 476.5h39M190 476.5h9M204 476.5h2M216 476.5h1M220 476.5h3M225 476.5h4M400 476.5h1M510 476.5h3M523 476.5h3M528 476.5h1M533 476.5h4M541 476.5h2M544 476.5h2M155 477.5h1M160 477.5h14M179 477.5h11M198 477.5h1M200 477.5h3M208 477.5h2M508 477.5h4M514 477.5h1M542 477.5h2M151 478.5h10M168 478.5h24M195 478.5h6M475 478.5h1M513 478.5h6M528 478.5h18M150 479.5h1M154 479.5h8M169 479.5h6M465 479.5h1M513 479.5h3M525 479.5h3M533 479.5h6M150 480.5h5M159 480.5h4M165 480.5h38M224 480.5h4M229 480.5h3M489 480.5h1M498 480.5h1M508 480.5h1M510 480.5h1M516 480.5h3M527 480.5h2M535 480.5h9M150 481.5h6M166 481.5h1M169 481.5h2M181 481.5h1M186 481.5h1M208 481.5h1M236 481.5h1M520 481.5h8M538 481.5h5M150 482.5h25M179 482.5h15M200 482.5h4M205 482.5h7M374 482.5h1M424 482.5h1M504 482.5h1M520 482.5h16M537 482.5h5M544 482.5h2M159 483.5h2M162 483.5h3M175 483.5h2M186 483.5h5M198 483.5h1M211 483.5h2M504 483.5h1M514 483.5h5M520 483.5h5M526 483.5h5M542 483.5h4M150 484.5h4M160 484.5h31M194 484.5h7M206 484.5h5M214 484.5h4M221 484.5h8M511 484.5h3M517 484.5h1M520 484.5h2M531 484.5h11M544 484.5h2M152 485.5h3M158 485.5h4M168 485.5h22M193 485.5h2M208 485.5h3M330 485.5h1M504 485.5h2M514 485.5h1M534 485.5h1M539 485.5h2M150 486.5h36M189 486.5h12M203 486.5h4M211 486.5h3M506 486.5h4M516 486.5h2M521 486.5h1M526 486.5h9M539 486.5h6M161 487.5h3M165 487.5h1M168 487.5h4M190 487.5h1M192 487.5h4M206 487.5h1M323 487.5h1M543 487.5h3M150 488.5h46M206 488.5h5M354 488.5h1M437 488.5h1M506 488.5h3M511 488.5h1M517 488.5h1M523 488.5h5M529 488.5h3M534 488.5h8M545 488.5h1M155 489.5h5M163 489.5h4M169 489.5h16M193 489.5h6M209 489.5h4M429 489.5h1M503 489.5h2M519 489.5h9M543 489.5h2M150 490.5h16M167 490.5h22M191 490.5h1M197 490.5h3M206 490.5h6M215 490.5h4M265 490.5h1M279 490.5h1M363 490.5h1M497 490.5h3M505 490.5h6M520 490.5h1M522 490.5h7M532 490.5h5M150 491.5h7M174 491.5h9M193 491.5h1M510 491.5h3M522 491.5h2M529 491.5h15M150 492.5h4M155 492.5h11M167 492.5h2M170 492.5h22M196 492.5h4M204 492.5h1M206 492.5h5M218 492.5h2M221 492.5h3M226 492.5h1M242 492.5h1M506 492.5h4M512 492.5h2M517 492.5h5M526 492.5h4M531 492.5h3M540 492.5h6M165 493.5h3M182 493.5h3M187 493.5h2M191 493.5h3M215 493.5h1M331 493.5h1M521 493.5h3M538 493.5h1M544 493.5h2M150 494.5h15M168 494.5h17M187 494.5h6M199 494.5h19M219 494.5h1M221 494.5h1M510 494.5h2M525 494.5h2M529 494.5h3M536 494.5h3M150 495.5h1M154 495.5h2M161 495.5h1M172 495.5h11M186 495.5h7M196 495.5h4M205 495.5h7M268 495.5h1M399 495.5h1M528 495.5h5M534 495.5h4M150 496.5h8M159 496.5h32M203 496.5h1M207 496.5h4M215 496.5h1M230 496.5h2M505 496.5h1M517 496.5h6M525 496.5h1M530 496.5h2M536 496.5h1M539 496.5h1M541 496.5h2M150 497.5h3M163 497.5h5M173 497.5h1M175 497.5h4M189 497.5h9M228 497.5h2M288 497.5h1M503 497.5h3M512 497.5h5M520 497.5h1M527 497.5h2M539 497.5h1M156 498.5h28M190 498.5h3M198 498.5h5M208 498.5h1M248 498.5h1M508 498.5h1M510 498.5h10M525 498.5h2M531 498.5h15M150 499.5h4M157 499.5h1M160 499.5h1M162 499.5h1M165 499.5h4M174 499.5h8M207 499.5h2M215 499.5h4M223 499.5h2M397 499.5h1M515 499.5h3M523 499.5h1M537 499.5h3M150 500.5h16M171 500.5h16M194 500.5h9M212 500.5h2M217 500.5h2M247 500.5h1M458 500.5h1M507 500.5h1M509 500.5h1M516 500.5h6M525 500.5h1M527 500.5h3M531 500.5h2M540 500.5h6M160 501.5h9M170 501.5h8M189 501.5h9M199 501.5h1M206 501.5h2M209 501.5h4M500 501.5h9M540 501.5h3M150 502.5h11M176 502.5h22M207 502.5h7M218 502.5h5M231 502.5h4M237 502.5h1M443 502.5h1M497 502.5h4M515 502.5h3M529 502.5h1M533 502.5h5M164 503.5h4M171 503.5h2M183 503.5h5M208 503.5h2M213 503.5h4M243 503.5h1M441 503.5h1M514 503.5h4M525 503.5h3M539 503.5h5M151 504.5h3M157 504.5h22M181 504.5h4M186 504.5h9M199 504.5h3M216 504.5h3M274 504.5h1M501 504.5h3M507 504.5h1M510 504.5h6M526 504.5h4M543 504.5h1M150 505.5h2M158 505.5h6M166 505.5h5M172 505.5h10M200 505.5h7M227 505.5h1M256 505.5h1M279 505.5h1M526 505.5h8M540 505.5h4M150 506.5h42M199 506.5h5M213 506.5h2M218 506.5h6M411 506.5h1M413 506.5h1M508 506.5h7M525 506.5h14M541 506.5h5M154 507.5h7M169 507.5h2M174 507.5h2M185 507.5h3M190 507.5h3M198 507.5h3M216 507.5h1M297 507.5h1M333 507.5h1M535 507.5h6M150 508.5h25M176 508.5h1M178 508.5h10M189 508.5h5M196 508.5h2M202 508.5h9M214 508.5h4M219 508.5h5M238 508.5h1M382 508.5h1M450 508.5h1M475 508.5h1M500 508.5h2M515 508.5h1M523 508.5h2M527 508.5h8M537 508.5h9M150 509.5h1M154 509.5h2M158 509.5h2M164 509.5h3M171 509.5h7M179 509.5h4M186 509.5h2M195 509.5h8M236 509.5h1M243 509.5h1M497 509.5h2M511 509.5h4M516 509.5h5M526 509.5h4M533 509.5h2M542 509.5h4M150 510.5h29M183 510.5h14M200 510.5h1M208 510.5h3M237 510.5h1M299 510.5h1M328 510.5h1M497 510.5h5M505 510.5h1M507 510.5h7M531 510.5h15M150 511.5h7M158 511.5h4M174 511.5h2M183 511.5h1M186 511.5h1M235 511.5h1M251 511.5h1M500 511.5h9M514 511.5h5M524 511.5h1M534 511.5h4M150 512.5h40M194 512.5h6M211 512.5h7M223 512.5h6M300 512.5h1M321 512.5h1M511 512.5h2M515 512.5h3M522 512.5h13M536 512.5h1M538 512.5h8M150 513.5h9M179 513.5h3M184 513.5h4M195 513.5h1M199 513.5h2M208 513.5h1M510 513.5h3M527 513.5h1M532 513.5h1M150 514.5h14M165 514.5h21M189 514.5h10M206 514.5h2M221 514.5h2M224 514.5h1M301 514.5h1M497 514.5h1M503 514.5h2M506 514.5h2M511 514.5h1M515 514.5h1M517 514.5h4M522 514.5h9M533 514.5h7M542 514.5h4M156 515.5h4M167 515.5h2M171 515.5h9M183 515.5h2M195 515.5h7M207 515.5h4M291 515.5h1M516 515.5h4M537 515.5h1M539 515.5h3M150 516.5h16M167 516.5h29M201 516.5h5M222 516.5h2M226 516.5h3M246 516.5h1M504 516.5h2M512 516.5h1M514 516.5h2M522 516.5h2M529 516.5h1M534 516.5h4M543 516.5h3M151 517.5h2M155 517.5h4M162 517.5h2M166 517.5h6M180 517.5h1M190 517.5h1M195 517.5h1M199 517.5h2M435 517.5h1M466 517.5h1M502 517.5h4M518 517.5h2M522 517.5h1M530 517.5h3M535 517.5h4M150 518.5h5M156 518.5h33M190 518.5h12M203 518.5h2M217 518.5h1M223 518.5h5M310 518.5h1M497 518.5h1M499 518.5h14M519 518.5h5M536 518.5h2M540 518.5h5M150 519.5h1M160 519.5h8M170 519.5h1M175 519.5h6M190 519.5h3M226 519.5h8M335 519.5h1M407 519.5h1M510 519.5h3M529 519.5h1M544 519.5h1M150 520.5h42M200 520.5h2M207 520.5h3M211 520.5h7M221 520.5h8M502 520.5h1M515 520.5h12M532 520.5h4M538 520.5h4M543 520.5h3M150 521.5h2M156 521.5h3M163 521.5h9M176 521.5h8M195 521.5h1M394 521.5h1M508 521.5h2M512 521.5h4M529 521.5h1M537 521.5h1M545 521.5h1M150 522.5h5M157 522.5h18M178 522.5h21M218 522.5h2M222 522.5h2M509 522.5h1M517 522.5h4M525 522.5h7M534 522.5h4M540 522.5h1M542 522.5h1M544 522.5h1M150 523.5h3M154 523.5h1M156 523.5h4M163 523.5h1M165 523.5h1M168 523.5h13M182 523.5h18M202 523.5h3M507 523.5h1M540 523.5h2M150 524.5h19M170 524.5h14M186 524.5h2M190 524.5h10M213 524.5h2M217 524.5h1M507 524.5h12M520 524.5h3M533 524.5h1M540 524.5h2M151 525.5h1M159 525.5h7M180 525.5h4M187 525.5h4M200 525.5h2M205 525.5h2M522 525.5h2M532 525.5h4M544 525.5h1M150 526.5h16M174 526.5h31M209 526.5h2M213 526.5h1M348 526.5h1M501 526.5h4M516 526.5h2M526 526.5h1M529 526.5h5M536 526.5h6M545 526.5h1M152 527.5h1M160 527.5h7M171 527.5h5M178 527.5h9M188 527.5h2M192 527.5h6M203 527.5h3M209 527.5h8M482 527.5h1M497 527.5h3M518 527.5h1M545 527.5h1M157 528.5h13M171 528.5h11M183 528.5h3M199 528.5h2M203 528.5h1M206 528.5h1M221 528.5h1M230 528.5h2M234 528.5h2M317 528.5h1M501 528.5h2M520 528.5h3M525 528.5h2M530 528.5h16M155 529.5h5M162 529.5h4M171 529.5h4M211 529.5h3M221 529.5h2M226 529.5h1M338 529.5h1M507 529.5h1M516 529.5h2M527 529.5h2M150 530.5h30M181 530.5h18M200 530.5h6M210 530.5h1M262 530.5h1M508 530.5h5M525 530.5h1M528 530.5h4M533 530.5h3M537 530.5h2M540 530.5h2M150 531.5h3M158 531.5h1M160 531.5h3M168 531.5h1M170 531.5h6M177 531.5h7M186 531.5h3M196 531.5h3M346 531.5h1M507 531.5h2M528 531.5h1M530 531.5h1M532 531.5h1M537 531.5h3M544 531.5h1M150 532.5h12M164 532.5h28M209 532.5h9M499 532.5h1M508 532.5h7M526 532.5h7M536 532.5h1M545 532.5h1M150 533.5h11M163 533.5h5M170 533.5h1M176 533.5h5M273 533.5h1M405 533.5h1M508 533.5h7M521 533.5h1M524 533.5h6M541 533.5h1M150 534.5h13M165 534.5h4M173 534.5h15M193 534.5h3M197 534.5h2M203 534.5h7M213 534.5h1M221 534.5h6M231 534.5h2M501 534.5h1M505 534.5h2M510 534.5h2M514 534.5h2M522 534.5h4M528 534.5h5M535 534.5h11M150 535.5h2M155 535.5h1M172 535.5h3M181 535.5h9M208 535.5h3M487 535.5h1M512 535.5h1M525 535.5h2M529 535.5h1M150 536.5h2M156 536.5h21M178 536.5h14M197 536.5h6M208 536.5h2M217 536.5h2M220 536.5h3M227 536.5h1M450 536.5h1M505 536.5h5M526 536.5h1M530 536.5h3M535 536.5h11M150 537.5h3M154 537.5h6M171 537.5h4M176 537.5h2M181 537.5h7M190 537.5h2M212 537.5h2M373 537.5h1M385 537.5h1M512 537.5h2M527 537.5h1M534 537.5h1M150 538.5h35M194 538.5h4M199 538.5h6M206 538.5h1M208 538.5h1M213 538.5h2M229 538.5h1M513 538.5h2M516 538.5h12M530 538.5h5M540 538.5h6M157 539.5h1M164 539.5h2M169 539.5h7M184 539.5h6M425 539.5h1M501 539.5h1M507 539.5h5M515 539.5h1M517 539.5h1M543 539.5h3"/>
<path d="M150 316.5H546" stroke="#e6ec6a" stroke-width="1" opacity="0.8"/>
<g fill="none" stroke-linejoin="miter">
<path d="M247.9 93.0 L248.2 241.5" stroke="#ffd000" stroke-width="2.4"/>
<path d="M249.3 241.5 L249.8 360.0 L251.0 360.0 L251.3 453.0 L252.4 453.0 L252.9 532.0 L253.6 532.0 L253.6 540.0" stroke="#ffd000" stroke-width="2.8"/>
<path d="M264.9 93.0 L265.1 193.5 L266.3 193.5 L266.7 325.0 L267.8 325.0 L268.8 425.0 L269.8 507.0 L271.0 507.0 L271.1 540.0" stroke="#ffd000" stroke-width="3.0"/>
<path d="M334.5 93.0 L334.7 146.5 L335.9 146.5 L336.4 292.0 L337.7 292.0 L338.6 398.0 L339.4 398.0 L339.7 485.0 L341.0 485.0 L341.2 540.0" stroke="#ffd000" stroke-width="3.4" stroke-dasharray="1.5 1.5"/>
<path d="M378.3 93.0 L379.3 250.0 L380.3 310.0 L381.5 425.0 L383.5 540.0" stroke="#ffd000" stroke-width="2.5"/>
<path d="M440.0 93.0 L440.3 160.0 L441.0 160.0 L442.0 300.0 L443.0 300.0 L445.0 425.0 L445.6 492.0 L446.6 492.0 L446.8 540.0" stroke="#ffd000" stroke-width="2.5"/>
<path d="M490.6 93.0 L491.6 250.0 L492.2 350.0 L493.2 425.0 L495.0 540.0" stroke="#ffd000" stroke-width="4.8"/>
<path d="M353.2 93.0 L353.6 251.2 L354.6 251.2 L355.0 310.0 L355.3 367.5 L356.1 367.5 L356.3 459.5 L358.1 459.5 L358.5 540.0" stroke="#ffd000" stroke-width="5.0" stroke-dasharray="1.6 1.2"/>
<path d="M210.6 93.0 L211.0 218.0 L212.6 218.0 L213.6 338.0 L214.4 338.0 L215.2 431.0 L216.0 509.0 L216.4 540.0" stroke="#ffd000" stroke-width="4.2"/>
<path d="M223.2 93.0 L223.8 200.0 L224.1 275.0 L225.0 315.0 L227.0 430.0 L228.5 540.0" stroke="#ffd000" stroke-width="5.0"/>
<path d="M230.4 93.0 L232.5 316.0 L235.5 540.0" stroke="#ffd000" stroke-width="1.4"/>
<path d="M179.5 93.0 L185.0 540.0" stroke="#ffd000" stroke-width="2.4"/>
<path d="M167.0 93.0 L171.0 540.0" stroke="#ffd000" stroke-width="1.6"/>
<path d="M159.6 93.0 L159.9 183.5 L161.1 183.5 L162.0 315.0 L162.8 315.0 L163.6 418.0 L164.3 418.0 L164.8 501.0 L165.8 501.0 L166.0 540.0" stroke="#c81414" stroke-width="1.8"/>
<path d="M207.4 93.0 L207.8 218.5 L209.0 218.5 L209.5 338.0 L210.8 338.0 L211.3 431.0 L212.2 431.0 L212.8 509.0 L213.8 509.0 L214.0 540.0" stroke="#e8461c" stroke-width="1.8"/>
<path d="M247.9 93.0 L248.2 241.5" stroke="#ff8040" stroke-width="1.3"/>
<path d="M249.3 241.5 L249.8 360.0 L251.0 360.0 L251.3 453.0 L252.4 453.0 L252.9 532.0 L253.6 532.0 L253.6 540.0" stroke="#ff5900" stroke-width="1.3"/>
<path d="M264.9 93.0 L265.1 193.5 L266.3 193.5 L266.7 325.0 L267.8 325.0 L268.8 425.0 L269.8 507.0 L271.0 507.0 L271.1 540.0" stroke="#ff5900" stroke-width="1.3"/>
<path d="M283.1 93.0 L284.0 205.0 L285.0 315.0 L286.5 425.0 L288.0 540.0" stroke="#ffd000" stroke-width="2.0"/>
<path d="M292.7 93.0 L294.6 260.0 L295.6 370.0 L297.5 540.0" stroke="#e6e84a" stroke-width="1.0"/>
<path d="M301.0 93.0 L301.7 260.0 L303.0 370.0 L304.4 425.0 L305.5 540.0" stroke="#ffd000" stroke-width="1.8"/>
<path d="M317.8 93.0 L319.2 200.0 L320.6 315.0 L322.2 425.0 L323.5 540.0" stroke="#ffd000" stroke-width="2.4"/>
<path d="M334.5 93.0 L334.7 146.5 L335.9 146.5 L336.4 292.0 L337.7 292.0 L338.6 398.0 L339.4 398.0 L339.7 485.0 L341.0 485.0 L341.2 540.0" stroke="#d21e1e" stroke-width="1.7"/>
<path d="M370.1 93.0 L370.7 200.0 L371.8 315.0 L373.5 425.0 L375.5 540.0" stroke="#ffd000" stroke-width="2.0"/>
<path d="M378.3 93.0 L379.3 250.0 L380.3 310.0 L381.5 425.0 L383.5 540.0" stroke="#ff5900" stroke-width="1.1"/>
<path d="M382.8 93.0 L383.5 200.0" stroke="#e6e84a" stroke-width="1.0"/>
<path d="M387.0 93.0 L388.9 250.0 L389.5 310.0 L391.0 425.0 L393.0 540.0" stroke="#ffd000" stroke-width="1.6"/>
<path d="M408.0 300.0 L410.6 540.0" stroke="#e6e84a" stroke-width="0.9"/>
<path d="M422.4 93.0 L423.8 250.0 L424.4 310.0 L426.0 425.0 L427.5 540.0" stroke="#ffd000" stroke-width="2.2"/>
<path d="M440.0 93.0 L440.3 160.0 L441.0 160.0 L442.0 300.0 L443.0 300.0 L445.0 425.0 L445.6 492.0 L446.6 492.0 L446.8 540.0" stroke="#ff5900" stroke-width="1.1"/>
<path d="M443.6 93.0 L444.9 250.0 L445.6 370.0 L448.5 540.0" stroke="#ffd000" stroke-width="1.3"/>
<path d="M455.3 93.0 L457.3 250.0 L459.2 370.0 L461.5 540.0" stroke="#e6e84a" stroke-width="1.0"/>
<path d="M468.8 93.0 L468.9 114.0 L470.0 114.0 L470.0 250.0 L471.6 370.0 L474.0 425.0 L475.0 540.0" stroke="#ffd000" stroke-width="1.7"/>
<path d="M474.5 93.0 L475.6 248.0 L476.2 248.0 L477.0 370.0 L479.5 540.0" stroke="#ffd000" stroke-width="1.4"/>
<path d="M484.0 93.0 L486.2 370.0 L489.5 540.0" stroke="#ffd000" stroke-width="1.8"/>
<path d="M490.6 93.0 L491.6 250.0 L492.2 350.0 L493.2 425.0 L495.0 540.0" stroke="#ff5900" stroke-width="3.4"/>
<path d="M528.5 93.0 L532.5 540.0" stroke="#ffd000" stroke-width="2.0"/>
<path d="M353.2 93.0 L353.6 251.2 L354.6 251.2 L355.0 310.0 L355.3 367.5 L356.1 367.5 L356.3 459.5 L358.1 459.5 L358.5 540.0" stroke="#d84848" stroke-width="3.0"/>
<path d="M353.2 93.0 L353.6 251.2 L354.6 251.2 L355.0 310.0 L355.3 367.5 L356.1 367.5 L356.3 459.5 L358.1 459.5 L358.5 540.0" stroke="#fbe4e0" stroke-width="1.0"/>
<path d="M300.9 172.0C301.6 174.6 303.5 182.0 304.9 187.8C306.3 193.6 307.7 201.2 309.3 207.0C310.9 212.8 312.8 218.1 314.5 222.8C316.2 227.5 318.0 231.5 319.8 235.0C321.5 238.5 323.0 240.5 325.0 243.8C327.0 247.0 330.1 251.5 332.0 254.2C333.9 257.0 334.9 258.4 336.4 260.4C337.9 262.4 339.3 264.7 341.0 266.5C342.7 268.3 344.6 269.4 346.7 271.3C348.8 273.2 352.2 276.6 353.3 277.7" stroke="#ffd000" stroke-width="1.5"/><path d="M300.9 172.0C301.6 174.6 303.5 182.0 304.9 187.8C306.3 193.6 307.7 201.2 309.3 207.0C310.9 212.8 312.8 218.1 314.5 222.8C316.2 227.5 318.0 231.5 319.8 235.0C321.5 238.5 323.0 240.5 325.0 243.8C327.0 247.0 330.1 251.5 332.0 254.2C333.9 257.0 334.9 258.4 336.4 260.4C337.9 262.4 339.3 264.7 341.0 266.5C342.7 268.3 344.6 269.4 346.7 271.3C348.8 273.2 352.2 276.6 353.3 277.7" stroke="#ffa020" stroke-width="0.6"/><path d="M353.3 277.7C354.4 278.6 357.8 281.3 360.0 283.0C362.2 284.7 363.4 285.4 366.7 287.7C370.0 290.0 375.6 293.7 380.0 296.6C384.4 299.5 388.9 302.3 393.3 305.0C397.8 307.7 402.2 310.3 406.7 313.0C411.1 315.7 415.6 318.4 420.0 321.0C424.4 323.6 430.0 326.8 433.3 328.7C436.6 330.6 437.9 331.2 440.0 332.5C442.1 333.8 443.9 335.0 445.8 336.3C447.8 337.6 449.8 339.0 451.7 340.4C453.6 341.8 455.6 343.1 457.5 344.5C459.4 345.9 461.4 347.3 463.3 348.9C465.2 350.4 467.2 352.0 469.2 353.8C471.1 355.6 473.1 357.6 475.0 359.7C476.9 361.8 478.9 364.0 480.8 366.1C482.8 368.2 484.9 370.3 486.7 372.5C488.4 374.7 489.9 377.2 491.3 379.5C492.8 381.8 493.6 383.5 495.4 386.5C497.2 389.5 499.8 392.4 502.0 397.3C504.2 402.2 507.6 412.9 508.7 416.0" stroke="#ff7040" stroke-width="1.8"/><path d="M353.3 277.7C354.4 278.6 357.8 281.3 360.0 283.0C362.2 284.7 363.4 285.4 366.7 287.7C370.0 290.0 375.6 293.7 380.0 296.6C384.4 299.5 388.9 302.3 393.3 305.0C397.8 307.7 402.2 310.3 406.7 313.0C411.1 315.7 415.6 318.4 420.0 321.0C424.4 323.6 430.0 326.8 433.3 328.7C436.6 330.6 437.9 331.2 440.0 332.5C442.1 333.8 443.9 335.0 445.8 336.3C447.8 337.6 449.8 339.0 451.7 340.4C453.6 341.8 455.6 343.1 457.5 344.5C459.4 345.9 461.4 347.3 463.3 348.9C465.2 350.4 467.2 352.0 469.2 353.8C471.1 355.6 473.1 357.6 475.0 359.7C476.9 361.8 478.9 364.0 480.8 366.1C482.8 368.2 484.9 370.3 486.7 372.5C488.4 374.7 489.9 377.2 491.3 379.5C492.8 381.8 493.6 383.5 495.4 386.5C497.2 389.5 499.8 392.4 502.0 397.3C504.2 402.2 507.6 412.9 508.7 416.0" stroke="#cc3040" stroke-width="1.1"/><path d="M508.7 416.0C509.4 418.7 511.4 425.8 512.7 432.0C514.0 438.2 515.8 447.5 516.7 453.3C517.6 459.1 517.8 464.5 518.0 466.7" stroke="#ffd000" stroke-width="1.8"/><path d="M508.7 416.0C509.4 418.7 511.4 425.8 512.7 432.0C514.0 438.2 516.0 449.8 516.7 453.3" stroke="#ff8040" stroke-width="1"/>
</g>
<rect x="195.1" y="444.2" width="3" height="1.6" fill="#ff6a30"/>
<rect x="272.3" y="444.2" width="3" height="1.6" fill="#ff6a30"/>
<rect x="349.8" y="445.2" width="3" height="1.6" fill="#ff6a30"/>
<rect x="427.5" y="446.2" width="3" height="1.6" fill="#ff6a30"/>
<rect x="505.0" y="447.2" width="3" height="1.6" fill="#ff6a30"/>
</g>
<!-- axes frame -->
<rect x="100.5" y="60.5" width="496" height="480" fill="none" stroke="#000" stroke-width="1"/>
<g stroke="#000" stroke-width="1">
<!-- x ticks bottom/top -->
<path d="M100.5 540.5v-5.56M162.5 540.5v-5.56M224.5 540.5v-5.56M286.5 540.5v-5.56M348.5 540.5v-5.56M410.5 540.5v-5.56M472.5 540.5v-5.56M534.5 540.5v-5.56M596.5 540.5v-5.56"/>
<path d="M100.5 60.5v5.56M162.5 60.5v5.56M224.5 60.5v5.56M286.5 60.5v5.56M348.5 60.5v5.56M410.5 60.5v5.56M472.5 60.5v5.56M534.5 60.5v5.56M596.5 60.5v5.56"/>
<path d="M100.5 540.5h5.56M100.5 444.5h5.56M100.5 348.5h5.56M100.5 252.5h5.56M100.5 156.5h5.56M100.5 60.5h5.56"/>
<path d="M596.5 540.5h-5.56M596.5 444.5h-5.56M596.5 348.5h-5.56M596.5 252.5h-5.56M596.5 156.5h-5.56M596.5 60.5h-5.56"/>
</g>
<!-- colorbar -->
<g>
<rect x="628" y="60.5" width="23" height="60" fill="#c40000"/>
<rect x="628" y="120.5" width="23" height="60" fill="#ff5900"/>
<rect x="628" y="180.5" width="23" height="60" fill="#ffd000"/>
<rect x="628" y="240.5" width="23" height="60" fill="#b1ff46"/>
<rect x="628" y="300.5" width="23" height="60" fill="#49ffad"/>
<rect x="628" y="360.5" width="23" height="60" fill="#00c0ff"/>
<rect x="628" y="420.5" width="23" height="60" fill="#0040ff"/>
<rect x="628" y="480.5" width="23" height="60" fill="#0000c8"/>
<rect x="627.5" y="60.5" width="24" height="480" fill="none" stroke="#000"/>
<path d="M651.5 120.5h-5.56M651.5 180.5h-5.56M651.5 240.5h-5.56M651.5 300.5h-5.56M651.5 360.5h-5.56M651.5 420.5h-5.56M651.5 480.5h-5.56" stroke="#000"/>
</g>
<g id="labels">
<text transform="translate(68.27,47.75) scale(1.054,1)" font-size="20">4</text><text transform="translate(80.99,47.75) scale(1.054,1)" font-size="20">0</text><text transform="translate(93.72,47.75) scale(1.054,1)" font-size="20">0</text><text transform="translate(112.63,47.75) scale(0.997,1)" font-size="20">M</text><text transform="translate(129.89,47.75) scale(0.995,1)" font-size="20">H</text><text transform="translate(144.59,47.75) scale(1.072,1)" font-size="20">z</text><text transform="translate(162.01,47.75) scale(0.959,1)" font-size="20">s</text><text transform="translate(172.39,47.75) scale(1.022,1)" font-size="20">i</text><text transform="translate(177.62,47.75) scale(1.087,1)" font-size="20">g</text><text transform="translate(190.51,47.75) scale(1.078,1)" font-size="20">n</text><text transform="translate(203.24,47.75) scale(0.899,1)" font-size="20">a</text><text transform="translate(215.57,47.75) scale(1.022,1)" font-size="20">l</text><text transform="translate(227.48,47.75) scale(0.884,1)" font-size="20">P</text><text transform="translate(239.54,47.75) scale(0.891,1)" font-size="20">S</text><text transform="translate(251.99,47.75) scale(1.035,1)" font-size="20">D</text><text transform="translate(274.14,47.75) scale(0.850,1)" font-size="20">(</text><text transform="translate(281.73,47.75) scale(1.016,1)" font-size="20">2</text><text transform="translate(294.51,47.75) scale(1.054,1)" font-size="20">0</text><text transform="translate(307.40,47.75) scale(1.007,1)" font-size="20">1</text><text transform="translate(319.91,47.75) scale(1.016,1)" font-size="20">2</text><text transform="translate(332.68,47.75) scale(1.054,1)" font-size="20">0</text><text transform="translate(345.58,47.75) scale(1.007,1)" font-size="20">1</text><text transform="translate(358.08,47.75) scale(1.016,1)" font-size="20">2</text><text transform="translate(370.80,47.75) scale(1.016,1)" font-size="20">2</text><text transform="translate(383.16,47.75) scale(0.892,1)" font-size="20">_</text><text transform="translate(393.58,47.75) scale(1.054,1)" font-size="20">0</text><text transform="translate(406.56,47.75) scale(0.995,1)" font-size="20">5</text><text transform="translate(419.20,47.75) scale(1.007,1)" font-size="20">1</text><text transform="translate(431.75,47.75) scale(1.054,1)" font-size="20">4</text><text transform="translate(444.74,47.75) scale(1.012,1)" font-size="20">3</text><text transform="translate(457.29,47.75) scale(1.031,1)" font-size="20">7</text><text transform="translate(469.51,47.75) scale(0.892,1)" font-size="20">_</text><text transform="translate(479.70,47.75) scale(1.035,1)" font-size="20">D</text><text transform="translate(495.16,47.75) scale(0.997,1)" font-size="20">M</text><text transform="translate(512.60,47.75) scale(0.891,1)" font-size="20">S</text><text transform="translate(525.30,47.75) scale(0.884,1)" font-size="20">P</text><text transform="translate(537.40,47.75) scale(0.857,1)" font-size="20">F</text><text transform="translate(549.01,47.75) scale(1.007,1)" font-size="20">1</text><text transform="translate(561.82,47.75) scale(0.995,1)" font-size="20">5</text><text transform="translate(573.87,47.75) scale(0.892,1)" font-size="20">_</text><text transform="translate(583.25,47.75) scale(1.091,1)" font-size="20">T</text><text transform="translate(596.41,47.75) scale(0.956,1)" font-size="20">R</text><text transform="translate(610.10,47.75) scale(0.989,1)" font-size="20">O</text><text transform="translate(627.14,47.75) scale(0.850,1)" font-size="20">)</text>
<text transform="translate(65.57,556.70) scale(1.288,1)" font-size="16.67">−</text><text transform="translate(79.20,556.70) scale(1.016,1)" font-size="16.67">2</text><text transform="translate(89.85,556.70) scale(1.054,1)" font-size="16.67">0</text><text transform="translate(100.45,556.70) scale(1.054,1)" font-size="16.67">0</text><text transform="translate(111.06,556.70) scale(1.054,1)" font-size="16.67">0</text><text transform="translate(121.66,556.70) scale(1.054,1)" font-size="16.67">0</text>
<text transform="translate(126.52,556.70) scale(1.288,1)" font-size="16.67">−</text><text transform="translate(140.33,556.70) scale(1.007,1)" font-size="16.67">1</text><text transform="translate(151.01,556.70) scale(0.995,1)" font-size="16.67">5</text><text transform="translate(161.40,556.70) scale(1.054,1)" font-size="16.67">0</text><text transform="translate(172.01,556.70) scale(1.054,1)" font-size="16.67">0</text><text transform="translate(182.61,556.70) scale(1.054,1)" font-size="16.67">0</text>
<text transform="translate(188.92,556.70) scale(1.288,1)" font-size="16.67">−</text><text transform="translate(202.73,556.70) scale(1.007,1)" font-size="16.67">1</text><text transform="translate(213.20,556.70) scale(1.054,1)" font-size="16.67">0</text><text transform="translate(223.80,556.70) scale(1.054,1)" font-size="16.67">0</text><text transform="translate(234.41,556.70) scale(1.054,1)" font-size="16.67">0</text><text transform="translate(245.01,556.70) scale(1.054,1)" font-size="16.67">0</text>
<text transform="translate(257.92,556.70) scale(1.288,1)" font-size="16.67">−</text><text transform="translate(271.81,556.70) scale(0.995,1)" font-size="16.67">5</text><text transform="translate(282.20,556.70) scale(1.054,1)" font-size="16.67">0</text><text transform="translate(292.81,556.70) scale(1.054,1)" font-size="16.67">0</text><text transform="translate(303.41,556.70) scale(1.054,1)" font-size="16.67">0</text>
<text transform="translate(342.81,556.70) scale(1.054,1)" font-size="16.67">0</text>
<text transform="translate(388.01,556.70) scale(0.995,1)" font-size="16.67">5</text><text transform="translate(398.40,556.70) scale(1.054,1)" font-size="16.67">0</text><text transform="translate(409.01,556.70) scale(1.054,1)" font-size="16.67">0</text><text transform="translate(419.61,556.70) scale(1.054,1)" font-size="16.67">0</text>
<text transform="translate(444.83,556.70) scale(1.007,1)" font-size="16.67">1</text><text transform="translate(455.30,556.70) scale(1.054,1)" font-size="16.67">0</text><text transform="translate(465.90,556.70) scale(1.054,1)" font-size="16.67">0</text><text transform="translate(476.51,556.70) scale(1.054,1)" font-size="16.67">0</text><text transform="translate(487.11,556.70) scale(1.054,1)" font-size="16.67">0</text>
<text transform="translate(506.43,556.70) scale(1.007,1)" font-size="16.67">1</text><text transform="translate(517.11,556.70) scale(0.995,1)" font-size="16.67">5</text><text transform="translate(527.50,556.70) scale(1.054,1)" font-size="16.67">0</text><text transform="translate(538.11,556.70) scale(1.054,1)" font-size="16.67">0</text><text transform="translate(548.71,556.70) scale(1.054,1)" font-size="16.67">0</text>
<text transform="translate(568.75,556.70) scale(1.016,1)" font-size="16.67">2</text><text transform="translate(579.40,556.70) scale(1.054,1)" font-size="16.67">0</text><text transform="translate(590.00,556.70) scale(1.054,1)" font-size="16.67">0</text><text transform="translate(600.61,556.70) scale(1.054,1)" font-size="16.67">0</text><text transform="translate(611.21,556.70) scale(1.054,1)" font-size="16.67">0</text>
<text transform="translate(85.41,545.60) scale(1.054,1)" font-size="16.67">0</text>
<text transform="translate(62.86,450.00) scale(1.016,1)" font-size="16.67">2</text><text transform="translate(73.51,450.00) scale(1.054,1)" font-size="16.67">0</text><text transform="translate(84.11,450.00) scale(1.054,1)" font-size="16.67">0</text>
<text transform="translate(62.90,354.00) scale(1.054,1)" font-size="16.67">4</text><text transform="translate(73.51,354.00) scale(1.054,1)" font-size="16.67">0</text><text transform="translate(84.11,354.00) scale(1.054,1)" font-size="16.67">0</text>
<text transform="translate(62.63,257.80) scale(1.091,1)" font-size="16.67">6</text><text transform="translate(73.41,257.80) scale(1.054,1)" font-size="16.67">0</text><text transform="translate(84.01,257.80) scale(1.054,1)" font-size="16.67">0</text>
<text transform="translate(62.55,161.90) scale(1.066,1)" font-size="16.67">8</text><text transform="translate(73.21,161.90) scale(1.054,1)" font-size="16.67">0</text><text transform="translate(83.81,161.90) scale(1.054,1)" font-size="16.67">0</text>
<text transform="translate(52.84,65.90) scale(1.007,1)" font-size="16.67">1</text><text transform="translate(63.30,65.90) scale(1.054,1)" font-size="16.67">0</text><text transform="translate(73.91,65.90) scale(1.054,1)" font-size="16.67">0</text><text transform="translate(84.51,65.90) scale(1.054,1)" font-size="16.67">0</text>
<text transform="translate(287.09,575.65) scale(1.313,1)" font-size="16.67">f</text><text transform="translate(292.98,575.65) scale(1.281,1)" font-size="16.67">r</text><text transform="translate(299.89,575.65) scale(1.080,1)" font-size="16.67">e</text><text transform="translate(310.16,575.65) scale(1.086,1)" font-size="16.67">q</text><text transform="translate(320.83,575.65) scale(1.078,1)" font-size="16.67">u</text><text transform="translate(331.30,575.65) scale(1.080,1)" font-size="16.67">e</text><text transform="translate(341.72,575.65) scale(1.078,1)" font-size="16.67">n</text><text transform="translate(352.17,575.65) scale(1.003,1)" font-size="16.67">c</text><text transform="translate(361.58,575.65) scale(1.074,1)" font-size="16.67">y</text><text transform="translate(376.84,575.65) scale(0.850,1)" font-size="16.67">(</text><text transform="translate(383.07,575.65) scale(0.995,1)" font-size="16.67">H</text><text transform="translate(395.32,575.65) scale(1.072,1)" font-size="16.67">z</text><text transform="translate(405.32,575.65) scale(0.850,1)" font-size="16.67">)</text>
<text transform="translate(45.30,330.74) rotate(-90) scale(1.337,1)" font-size="16.67">t</text><text transform="translate(45.30,323.89) rotate(-90) scale(1.022,1)" font-size="16.67">i</text><text transform="translate(45.30,319.43) rotate(-90) scale(1.139,1)" font-size="16.67">m</text><text transform="translate(45.30,303.29) rotate(-90) scale(1.080,1)" font-size="16.67">e</text><text transform="translate(45.30,287.35) rotate(-90) scale(0.850,1)" font-size="16.67">(</text><text transform="translate(45.30,280.93) rotate(-90) scale(0.959,1)" font-size="16.67">s</text><text transform="translate(45.30,271.46) rotate(-90) scale(0.850,1)" font-size="16.67">)</text>
<text transform="translate(655.31,65.75) scale(1.054,1)" font-size="16.67">0</text>
<text transform="translate(655.69,126.00) scale(1.288,1)" font-size="16.67">−</text><text transform="translate(669.57,126.00) scale(0.995,1)" font-size="16.67">5</text>
<text transform="translate(655.64,185.80) scale(1.288,1)" font-size="16.67">−</text><text transform="translate(669.45,185.80) scale(1.007,1)" font-size="16.67">1</text><text transform="translate(679.92,185.80) scale(1.054,1)" font-size="16.67">0</text>
<text transform="translate(655.64,245.80) scale(1.288,1)" font-size="16.67">−</text><text transform="translate(669.45,245.80) scale(1.007,1)" font-size="16.67">1</text><text transform="translate(680.13,245.80) scale(0.995,1)" font-size="16.67">5</text>
<text transform="translate(655.64,305.80) scale(1.288,1)" font-size="16.67">−</text><text transform="translate(669.27,305.80) scale(1.016,1)" font-size="16.67">2</text><text transform="translate(679.92,305.80) scale(1.054,1)" font-size="16.67">0</text>
<text transform="translate(655.64,365.80) scale(1.288,1)" font-size="16.67">−</text><text transform="translate(669.27,365.80) scale(1.016,1)" font-size="16.67">2</text><text transform="translate(680.13,365.80) scale(0.995,1)" font-size="16.67">5</text>
<text transform="translate(655.64,425.80) scale(1.288,1)" font-size="16.67">−</text><text transform="translate(669.53,425.80) scale(1.012,1)" font-size="16.67">3</text><text transform="translate(679.92,425.80) scale(1.054,1)" font-size="16.67">0</text>
<text transform="translate(655.64,485.80) scale(1.288,1)" font-size="16.67">−</text><text transform="translate(669.53,485.80) scale(1.012,1)" font-size="16.67">3</text><text transform="translate(680.13,485.80) scale(0.995,1)" font-size="16.67">5</text>
<text transform="translate(655.64,545.80) scale(1.288,1)" font-size="16.67">−</text><text transform="translate(669.31,545.80) scale(1.054,1)" font-size="16.67">4</text><text transform="translate(679.92,545.80) scale(1.054,1)" font-size="16.67">0</text>
</g>
</svg>
</body></html>
